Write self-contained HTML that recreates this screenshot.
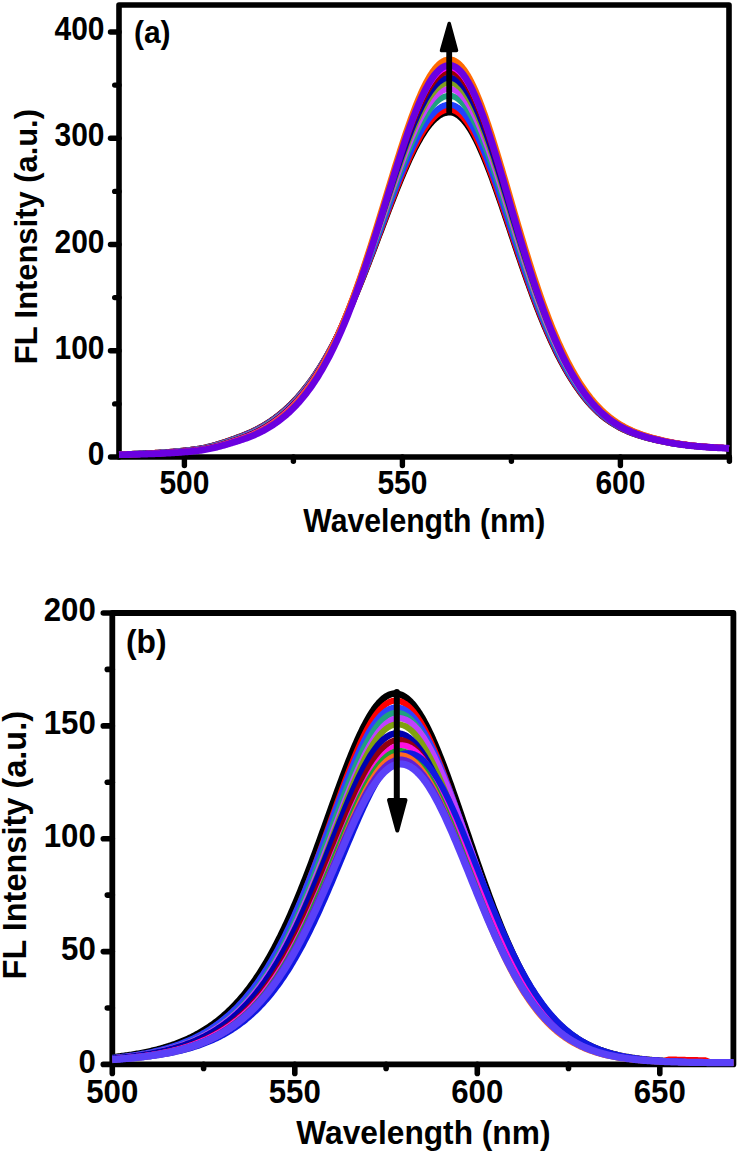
<!DOCTYPE html>
<html><head><meta charset="utf-8"><style>
html,body{margin:0;padding:0;background:#fff;}
body{width:739px;height:1154px;overflow:hidden;font-family:"Liberation Sans", sans-serif;}
svg{display:block;}
</style></head><body>
<svg width="739" height="1154" viewBox="0 0 739 1154">
<rect width="739" height="1154" fill="#fff"/>
<rect x="119.0" y="5.0" width="610.0" height="452.0" fill="none" stroke="#000" stroke-width="5.6" stroke-linejoin="round"/>
<g stroke="#000" stroke-width="5.4" stroke-linecap="round"><line x1="119.0" y1="457.0" x2="110.5" y2="457.0"/><line x1="119.0" y1="403.9" x2="114.7" y2="403.9"/><line x1="119.0" y1="350.8" x2="110.5" y2="350.8"/><line x1="119.0" y1="297.6" x2="114.7" y2="297.6"/><line x1="119.0" y1="244.5" x2="110.5" y2="244.5"/><line x1="119.0" y1="191.4" x2="114.7" y2="191.4"/><line x1="119.0" y1="138.2" x2="110.5" y2="138.2"/><line x1="119.0" y1="85.1" x2="114.7" y2="85.1"/><line x1="119.0" y1="32.0" x2="110.5" y2="32.0"/><line x1="184.4" y1="457.0" x2="184.4" y2="465.5"/><line x1="293.4" y1="457.0" x2="293.4" y2="461.3"/><line x1="402.4" y1="457.0" x2="402.4" y2="465.5"/><line x1="511.4" y1="457.0" x2="511.4" y2="461.3"/><line x1="620.4" y1="457.0" x2="620.4" y2="465.5"/><line x1="729.4" y1="457.0" x2="729.4" y2="461.3"/></g>
<g>
<path d="M119.00 454.24L120.22 454.21L121.44 454.18L122.67 454.15L123.89 454.11L125.11 454.08L126.33 454.05L127.56 454.01L128.78 453.97L130.00 453.93L131.22 453.89L132.45 453.85L133.67 453.81L134.89 453.77L136.11 453.73L137.34 453.68L138.56 453.63L139.78 453.59L141.00 453.54L142.23 453.49L143.45 453.43L144.67 453.38L145.89 453.33L147.12 453.27L148.34 453.21L149.56 453.15L150.78 453.09L152.01 453.03L153.23 452.96L154.45 452.89L155.67 452.83L156.90 452.75L158.12 452.68L159.34 452.61L160.56 452.53L161.79 452.45L163.01 452.37L164.23 452.29L165.45 452.20L166.68 452.11L167.90 452.02L169.12 451.93L170.34 451.83L171.57 451.73L172.79 451.63L174.01 451.53L175.23 451.42L176.45 451.31L177.68 451.20L178.90 451.08L180.12 450.96L181.34 450.84L182.57 450.71L183.79 450.58L185.01 450.45L186.23 450.31L187.46 450.17L188.68 450.02L189.90 449.87L191.12 449.72L192.35 449.56L193.57 449.40L194.79 449.23L196.01 449.06L197.24 448.89L198.46 448.70L199.68 448.51L200.90 448.29L202.13 448.07L203.35 447.83L204.57 447.58L205.79 447.31L207.02 447.04L208.24 446.75L209.46 446.45L210.68 446.14L211.91 445.82L213.13 445.49L214.35 445.15L215.57 444.80L216.80 444.45L218.02 444.08L219.24 443.71L220.46 443.32L221.69 442.94L222.91 442.54L224.13 442.14L225.35 441.73L226.58 441.32L227.80 440.90L229.02 440.47L230.24 440.04L231.46 439.61L232.69 439.17L233.91 438.73L235.13 438.28L236.35 437.83L237.58 437.38L238.80 436.93L240.02 436.47L241.24 436.01L242.47 435.55L243.69 435.07L244.91 434.58L246.13 434.08L247.36 433.56L248.58 433.03L249.80 432.49L251.02 431.93L252.25 431.36L253.47 430.78L254.69 430.18L255.91 429.56L257.14 428.93L258.36 428.29L259.58 427.63L260.80 426.95L262.03 426.25L263.25 425.54L264.47 424.81L265.69 424.07L266.92 423.30L268.14 422.52L269.36 421.72L270.58 420.90L271.81 420.05L273.03 419.19L274.25 418.31L275.47 417.41L276.70 416.49L277.92 415.54L279.14 414.57L280.36 413.59L281.59 412.57L282.81 411.54L284.03 410.48L285.25 409.40L286.47 408.29L287.70 407.16L288.92 406.00L290.14 404.82L291.36 403.61L292.59 402.38L293.81 401.12L295.03 399.83L296.25 398.51L297.48 397.17L298.70 395.79L299.92 394.39L301.14 392.96L302.37 391.50L303.59 390.01L304.81 388.49L306.03 386.94L307.26 385.35L308.48 383.74L309.70 382.10L310.92 380.42L312.15 378.71L313.37 376.97L314.59 375.19L315.81 373.38L317.04 371.54L318.26 369.67L319.48 367.76L320.70 365.81L321.93 363.84L323.15 361.82L324.37 359.78L325.59 357.70L326.82 355.58L328.04 353.43L329.26 351.24L330.48 349.02L331.71 346.76L332.93 344.47L334.15 342.15L335.37 339.78L336.60 337.39L337.82 334.96L339.04 332.49L340.26 329.99L341.48 327.46L342.71 324.89L343.93 322.29L345.15 319.66L346.37 316.99L347.60 314.29L348.82 311.56L350.04 308.80L351.26 306.00L352.49 303.18L353.71 300.33L354.93 297.45L356.15 294.54L357.38 291.60L358.60 288.64L359.82 285.65L361.04 282.64L362.27 279.60L363.49 276.54L364.71 273.46L365.93 270.36L367.16 267.24L368.38 264.11L369.60 260.95L370.82 257.79L372.05 254.60L373.27 251.41L374.49 248.21L375.71 244.99L376.94 241.77L378.16 238.54L379.38 235.31L380.60 232.08L381.83 228.85L383.05 225.62L384.27 222.39L385.49 219.16L386.72 215.95L387.94 212.74L389.16 209.54L390.38 206.36L391.61 203.20L392.83 200.05L394.05 196.92L395.27 193.81L396.49 190.73L397.72 187.68L398.94 184.65L400.16 181.65L401.38 178.69L402.61 175.77L403.83 172.88L405.05 170.04L406.27 167.23L407.50 164.48L408.72 161.77L409.94 159.11L411.16 156.50L412.39 153.95L413.61 151.45L414.83 149.02L416.05 146.64L417.28 144.33L418.50 142.09L419.72 139.91L420.94 137.80L422.17 135.77L423.39 133.81L424.61 131.92L425.83 130.11L427.06 128.38L428.28 126.74L429.50 125.17L430.72 123.69L431.95 122.30L433.17 120.99L434.39 119.77L435.61 118.65L436.84 117.61L438.06 116.66L439.28 115.81L440.50 115.05L441.73 114.39L442.95 113.82L444.17 113.35L445.39 112.98L446.62 112.70L447.84 112.52L449.06 112.44L450.28 112.46L451.51 112.60L452.73 112.87L453.95 113.26L455.17 113.78L456.39 114.42L457.62 115.18L458.84 116.06L460.06 117.07L461.28 118.19L462.51 119.43L463.73 120.79L464.95 122.25L466.17 123.83L467.40 125.53L468.62 127.32L469.84 129.23L471.06 131.23L472.29 133.34L473.51 135.55L474.73 137.85L475.95 140.24L477.18 142.72L478.40 145.29L479.62 147.94L480.84 150.67L482.07 153.47L483.29 156.35L484.51 159.30L485.73 162.32L486.96 165.40L488.18 168.54L489.40 171.74L490.62 174.99L491.85 178.30L493.07 181.64L494.29 185.04L495.51 188.47L496.74 191.93L497.96 195.44L499.18 198.97L500.40 202.52L501.63 206.10L502.85 209.71L504.07 213.32L505.29 216.96L506.52 220.60L507.74 224.25L508.96 227.91L510.18 231.57L511.40 235.23L512.63 238.88L513.85 242.53L515.07 246.18L516.29 249.81L517.52 253.43L518.74 257.03L519.96 260.62L521.18 264.19L522.41 267.74L523.63 271.26L524.85 274.76L526.07 278.24L527.30 281.68L528.52 285.10L529.74 288.49L530.96 291.84L532.19 295.16L533.41 298.44L534.63 301.69L535.85 304.90L537.08 308.07L538.30 311.20L539.52 314.30L540.74 317.35L541.97 320.36L543.19 323.33L544.41 326.26L545.63 329.14L546.86 331.98L548.08 334.77L549.30 337.53L550.52 340.23L551.75 342.89L552.97 345.51L554.19 348.09L555.41 350.61L556.64 353.10L557.86 355.53L559.08 357.93L560.30 360.28L561.53 362.58L562.75 364.84L563.97 367.06L565.19 369.23L566.41 371.36L567.64 373.44L568.86 375.49L570.08 377.49L571.30 379.44L572.53 381.36L573.75 383.24L574.97 385.07L576.19 386.87L577.42 388.62L578.64 390.34L579.86 392.01L581.08 393.65L582.31 395.25L583.53 396.82L584.75 398.35L585.97 399.84L587.20 401.29L588.42 402.70L589.64 404.08L590.86 405.41L592.09 406.71L593.31 407.97L594.53 409.20L595.75 410.39L596.98 411.55L598.20 412.67L599.42 413.76L600.64 414.82L601.87 415.84L603.09 416.84L604.31 417.81L605.53 418.74L606.76 419.65L607.98 420.53L609.20 421.39L610.42 422.22L611.65 423.02L612.87 423.79L614.09 424.55L615.31 425.28L616.54 425.98L617.76 426.67L618.98 427.33L620.20 427.97L621.42 428.59L622.65 429.19L623.87 429.77L625.09 430.34L626.31 430.88L627.54 431.41L628.76 431.92L629.98 432.42L631.20 432.90L632.43 433.36L633.65 433.81L634.87 434.25L636.09 434.67L637.32 435.08L638.54 435.48L639.76 435.87L640.98 436.25L642.21 436.61L643.43 436.96L644.65 437.31L645.87 437.64L647.10 437.97L648.32 438.29L649.54 438.60L650.76 438.90L651.99 439.20L653.21 439.49L654.43 439.77L655.65 440.05L656.88 440.32L658.10 440.59L659.32 440.85L660.54 441.11L661.77 441.37L662.99 441.62L664.21 441.87L665.43 442.11L666.66 442.35L667.88 442.58L669.10 442.80L670.32 443.01L671.55 443.22L672.77 443.43L673.99 443.62L675.21 443.81L676.43 444.00L677.66 444.18L678.88 444.35L680.10 444.52L681.32 444.68L682.55 444.84L683.77 444.99L684.99 445.14L686.21 445.29L687.44 445.43L688.66 445.56L689.88 445.69L691.10 445.82L692.33 445.94L693.55 446.06L694.77 446.18L695.99 446.29L697.22 446.40L698.44 446.51L699.66 446.61L700.88 446.71L702.11 446.80L703.33 446.90L704.55 446.99L705.77 447.08L707.00 447.16L708.22 447.24L709.44 447.32L710.66 447.40L711.89 447.47L713.11 447.55L714.33 447.62L715.55 447.68L716.78 447.75L718.00 447.81L719.22 447.88L720.44 447.94L721.67 447.99L722.89 448.05L724.11 448.10L725.33 448.16L726.56 448.21L727.78 448.26L729.00 448.31" stroke="#000000" stroke-width="6.0" fill="none" stroke-linejoin="round"/>
<path d="M119.00 454.27L120.22 454.24L121.44 454.21L122.67 454.17L123.89 454.14L125.11 454.11L126.33 454.07L127.56 454.04L128.78 454.00L130.00 453.96L131.22 453.93L132.45 453.89L133.67 453.85L134.89 453.80L136.11 453.76L137.34 453.72L138.56 453.67L139.78 453.62L141.00 453.57L142.23 453.52L143.45 453.47L144.67 453.42L145.89 453.37L147.12 453.31L148.34 453.25L149.56 453.19L150.78 453.13L152.01 453.07L153.23 453.01L154.45 452.94L155.67 452.87L156.90 452.80L158.12 452.73L159.34 452.66L160.56 452.58L161.79 452.51L163.01 452.43L164.23 452.34L165.45 452.26L166.68 452.17L167.90 452.08L169.12 451.99L170.34 451.89L171.57 451.80L172.79 451.70L174.01 451.59L175.23 451.49L176.45 451.38L177.68 451.27L178.90 451.15L180.12 451.03L181.34 450.91L182.57 450.79L183.79 450.66L185.01 450.53L186.23 450.39L187.46 450.25L188.68 450.11L189.90 449.96L191.12 449.81L192.35 449.65L193.57 449.49L194.79 449.33L196.01 449.16L197.24 448.99L198.46 448.81L199.68 448.61L200.90 448.40L202.13 448.18L203.35 447.94L204.57 447.69L205.79 447.43L207.02 447.15L208.24 446.87L209.46 446.57L210.68 446.26L211.91 445.95L213.13 445.62L214.35 445.28L215.57 444.93L216.80 444.58L218.02 444.22L219.24 443.85L220.46 443.47L221.69 443.08L222.91 442.69L224.13 442.29L225.35 441.88L226.58 441.47L227.80 441.05L229.02 440.63L230.24 440.20L231.46 439.77L232.69 439.34L233.91 438.90L235.13 438.45L236.35 438.01L237.58 437.56L238.80 437.11L240.02 436.65L241.24 436.20L242.47 435.73L243.69 435.26L244.91 434.77L246.13 434.27L247.36 433.76L248.58 433.23L249.80 432.69L251.02 432.14L252.25 431.57L253.47 430.99L254.69 430.39L255.91 429.78L257.14 429.15L258.36 428.51L259.58 427.85L260.80 427.17L262.03 426.48L263.25 425.77L264.47 425.04L265.69 424.30L266.92 423.54L268.14 422.75L269.36 421.95L270.58 421.13L271.81 420.30L273.03 419.44L274.25 418.56L275.47 417.66L276.70 416.73L277.92 415.79L279.14 414.82L280.36 413.84L281.59 412.82L282.81 411.79L284.03 410.73L285.25 409.65L286.47 408.54L287.70 407.41L288.92 406.25L290.14 405.07L291.36 403.86L292.59 402.62L293.81 401.36L295.03 400.07L296.25 398.75L297.48 397.41L298.70 396.03L299.92 394.63L301.14 393.19L302.37 391.73L303.59 390.23L304.81 388.71L306.03 387.15L307.26 385.57L308.48 383.95L309.70 382.30L310.92 380.62L312.15 378.90L313.37 377.15L314.59 375.37L315.81 373.55L317.04 371.70L318.26 369.82L319.48 367.90L320.70 365.95L321.93 363.96L323.15 361.94L324.37 359.88L325.59 357.79L326.82 355.66L328.04 353.50L329.26 351.30L330.48 349.06L331.71 346.79L332.93 344.49L334.15 342.15L335.37 339.77L336.60 337.36L337.82 334.91L339.04 332.42L340.26 329.91L341.48 327.35L342.71 324.76L343.93 322.14L345.15 319.49L346.37 316.80L347.60 314.08L348.82 311.32L350.04 308.54L351.26 305.72L352.49 302.87L353.71 299.99L354.93 297.08L356.15 294.15L357.38 291.18L358.60 288.19L359.82 285.17L361.04 282.13L362.27 279.06L363.49 275.97L364.71 272.86L365.93 269.72L367.16 266.57L368.38 263.40L369.60 260.21L370.82 257.01L372.05 253.79L373.27 250.56L374.49 247.31L375.71 244.06L376.94 240.80L378.16 237.54L379.38 234.26L380.60 230.99L381.83 227.72L383.05 224.44L384.27 221.17L385.49 217.91L386.72 214.65L387.94 211.40L389.16 208.16L390.38 204.93L391.61 201.72L392.83 198.53L394.05 195.36L395.27 192.21L396.49 189.08L397.72 185.99L398.94 182.92L400.16 179.88L401.38 176.87L402.61 173.91L403.83 170.98L405.05 168.09L406.27 165.24L407.50 162.44L408.72 159.69L409.94 156.99L411.16 154.35L412.39 151.75L413.61 149.22L414.83 146.75L416.05 144.33L417.28 141.99L418.50 139.71L419.72 137.49L420.94 135.35L422.17 133.28L423.39 131.29L424.61 129.38L425.83 127.54L427.06 125.78L428.28 124.11L429.50 122.52L430.72 121.01L431.95 119.60L433.17 118.27L434.39 117.03L435.61 115.88L436.84 114.83L438.06 113.87L439.28 113.00L440.50 112.23L441.73 111.56L442.95 110.98L444.17 110.50L445.39 110.12L446.62 109.84L447.84 109.65L449.06 109.57L450.28 109.59L451.51 109.73L452.73 110.00L453.95 110.40L455.17 110.92L456.39 111.57L457.62 112.34L458.84 113.23L460.06 114.24L461.28 115.37L462.51 116.62L463.73 117.99L464.95 119.47L466.17 121.06L467.40 122.77L468.62 124.58L469.84 126.50L471.06 128.52L472.29 130.65L473.51 132.87L474.73 135.19L475.95 137.60L477.18 140.10L478.40 142.69L479.62 145.37L480.84 148.12L482.07 150.95L483.29 153.85L484.51 156.83L485.73 159.87L486.96 162.98L488.18 166.15L489.40 169.37L490.62 172.65L491.85 175.98L493.07 179.36L494.29 182.78L495.51 186.24L496.74 189.74L497.96 193.27L499.18 196.83L500.40 200.41L501.63 204.02L502.85 207.66L504.07 211.30L505.29 214.97L506.52 218.64L507.74 222.32L508.96 226.01L510.18 229.70L511.40 233.39L512.63 237.08L513.85 240.76L515.07 244.43L516.29 248.10L517.52 251.75L518.74 255.38L519.96 259.00L521.18 262.60L522.41 266.18L523.63 269.73L524.85 273.26L526.07 276.77L527.30 280.24L528.52 283.69L529.74 287.10L530.96 290.48L532.19 293.83L533.41 297.14L534.63 300.41L535.85 303.65L537.08 306.85L538.30 310.01L539.52 313.13L540.74 316.21L541.97 319.24L543.19 322.24L544.41 325.19L545.63 328.09L546.86 330.96L548.08 333.78L549.30 336.55L550.52 339.28L551.75 341.97L552.97 344.61L554.19 347.20L555.41 349.75L556.64 352.25L557.86 354.71L559.08 357.13L560.30 359.49L561.53 361.82L562.75 364.10L563.97 366.33L565.19 368.52L566.41 370.67L567.64 372.77L568.86 374.83L570.08 376.85L571.30 378.82L572.53 380.76L573.75 382.65L574.97 384.50L576.19 386.31L577.42 388.08L578.64 389.81L579.86 391.50L581.08 393.15L582.31 394.77L583.53 396.34L584.75 397.88L585.97 399.39L587.20 400.85L588.42 402.28L589.64 403.66L590.86 405.01L592.09 406.32L593.31 407.59L594.53 408.83L595.75 410.03L596.98 411.20L598.20 412.33L599.42 413.43L600.64 414.50L601.87 415.53L603.09 416.54L604.31 417.51L605.53 418.46L606.76 419.38L607.98 420.26L609.20 421.13L610.42 421.96L611.65 422.77L612.87 423.55L614.09 424.31L615.31 425.05L616.54 425.76L617.76 426.45L618.98 427.12L620.20 427.77L621.42 428.40L622.65 429.00L623.87 429.59L625.09 430.16L626.31 430.71L627.54 431.24L628.76 431.76L629.98 432.26L631.20 432.74L632.43 433.21L633.65 433.67L634.87 434.11L636.09 434.54L637.32 434.95L638.54 435.36L639.76 435.75L640.98 436.13L642.21 436.49L643.43 436.85L644.65 437.20L645.87 437.54L647.10 437.87L648.32 438.19L649.54 438.50L650.76 438.81L651.99 439.11L653.21 439.40L654.43 439.69L655.65 439.97L656.88 440.24L658.10 440.51L659.32 440.78L660.54 441.04L661.77 441.30L662.99 441.55L664.21 441.80L665.43 442.05L666.66 442.29L667.88 442.52L669.10 442.74L670.32 442.96L671.55 443.17L672.77 443.37L673.99 443.57L675.21 443.76L676.43 443.95L677.66 444.13L678.88 444.31L680.10 444.47L681.32 444.64L682.55 444.80L683.77 444.95L684.99 445.10L686.21 445.25L687.44 445.39L688.66 445.53L689.88 445.66L691.10 445.79L692.33 445.91L693.55 446.03L694.77 446.15L695.99 446.26L697.22 446.37L698.44 446.48L699.66 446.58L700.88 446.68L702.11 446.78L703.33 446.87L704.55 446.96L705.77 447.05L707.00 447.14L708.22 447.22L709.44 447.30L710.66 447.38L711.89 447.45L713.11 447.53L714.33 447.60L715.55 447.67L716.78 447.73L718.00 447.80L719.22 447.86L720.44 447.92L721.67 447.98L722.89 448.03L724.11 448.09L725.33 448.14L726.56 448.19L727.78 448.24L729.00 448.29" stroke="#FF0000" stroke-width="6.0" fill="none" stroke-linejoin="round"/>
<path d="M119.00 454.31L120.22 454.28L121.44 454.25L122.67 454.22L123.89 454.19L125.11 454.15L126.33 454.12L127.56 454.09L128.78 454.05L130.00 454.02L131.22 453.98L132.45 453.94L133.67 453.90L134.89 453.86L136.11 453.82L137.34 453.77L138.56 453.73L139.78 453.68L141.00 453.64L142.23 453.59L143.45 453.54L144.67 453.49L145.89 453.43L147.12 453.38L148.34 453.33L149.56 453.27L150.78 453.21L152.01 453.15L153.23 453.09L154.45 453.02L155.67 452.96L156.90 452.89L158.12 452.82L159.34 452.75L160.56 452.67L161.79 452.60L163.01 452.52L164.23 452.44L165.45 452.36L166.68 452.27L167.90 452.18L169.12 452.09L170.34 452.00L171.57 451.91L172.79 451.81L174.01 451.71L175.23 451.60L176.45 451.50L177.68 451.39L178.90 451.28L180.12 451.16L181.34 451.04L182.57 450.92L183.79 450.79L185.01 450.66L186.23 450.53L187.46 450.39L188.68 450.25L189.90 450.11L191.12 449.96L192.35 449.81L193.57 449.65L194.79 449.49L196.01 449.32L197.24 449.15L198.46 448.97L199.68 448.78L200.90 448.58L202.13 448.36L203.35 448.12L204.57 447.88L205.79 447.62L207.02 447.35L208.24 447.07L209.46 446.77L210.68 446.47L211.91 446.15L213.13 445.83L214.35 445.50L215.57 445.16L216.80 444.80L218.02 444.44L219.24 444.08L220.46 443.70L221.69 443.32L222.91 442.93L224.13 442.54L225.35 442.13L226.58 441.73L227.80 441.31L229.02 440.90L230.24 440.47L231.46 440.05L232.69 439.62L233.91 439.18L235.13 438.74L236.35 438.30L237.58 437.86L238.80 437.41L240.02 436.96L241.24 436.51L242.47 436.05L243.69 435.58L244.91 435.10L246.13 434.60L247.36 434.09L248.58 433.57L249.80 433.03L251.02 432.48L252.25 431.92L253.47 431.34L254.69 430.75L255.91 430.14L257.14 429.52L258.36 428.88L259.58 428.22L260.80 427.55L262.03 426.86L263.25 426.16L264.47 425.43L265.69 424.69L266.92 423.93L268.14 423.15L269.36 422.36L270.58 421.54L271.81 420.70L273.03 419.85L274.25 418.97L275.47 418.07L276.70 417.15L277.92 416.21L279.14 415.25L280.36 414.26L281.59 413.25L282.81 412.21L284.03 411.16L285.25 410.08L286.47 408.97L287.70 407.84L288.92 406.68L290.14 405.49L291.36 404.28L292.59 403.05L293.81 401.78L295.03 400.49L296.25 399.17L297.48 397.82L298.70 396.44L299.92 395.03L301.14 393.59L302.37 392.12L303.59 390.62L304.81 389.09L306.03 387.53L307.26 385.94L308.48 384.31L309.70 382.65L310.92 380.96L312.15 379.23L313.37 377.47L314.59 375.68L315.81 373.85L317.04 371.99L318.26 370.09L319.48 368.16L320.70 366.19L321.93 364.19L323.15 362.15L324.37 360.07L325.59 357.96L326.82 355.81L328.04 353.63L329.26 351.41L330.48 349.15L331.71 346.86L332.93 344.53L334.15 342.16L335.37 339.75L336.60 337.31L337.82 334.84L339.04 332.32L340.26 329.77L341.48 327.19L342.71 324.57L343.93 321.91L345.15 319.22L346.37 316.49L347.60 313.73L348.82 310.94L350.04 308.11L351.26 305.25L352.49 302.36L353.71 299.44L354.93 296.48L356.15 293.50L357.38 290.49L358.60 287.44L359.82 284.38L361.04 281.28L362.27 278.16L363.49 275.01L364.71 271.85L365.93 268.66L367.16 265.45L368.38 262.21L369.60 258.97L370.82 255.70L372.05 252.42L373.27 249.12L374.49 245.82L375.71 242.50L376.94 239.17L378.16 235.84L379.38 232.50L380.60 229.16L381.83 225.81L383.05 222.47L384.27 219.13L385.49 215.79L386.72 212.46L387.94 209.13L389.16 205.82L390.38 202.52L391.61 199.24L392.83 195.97L394.05 192.72L395.27 189.50L396.49 186.30L397.72 183.13L398.94 179.98L400.16 176.87L401.38 173.79L402.61 170.75L403.83 167.74L405.05 164.78L406.27 161.87L407.50 159.00L408.72 156.17L409.94 153.40L411.16 150.69L412.39 148.03L413.61 145.43L414.83 142.89L416.05 140.41L417.28 138.00L418.50 135.66L419.72 133.39L420.94 131.19L422.17 129.06L423.39 127.01L424.61 125.05L425.83 123.16L427.06 121.35L428.28 119.63L429.50 118.00L430.72 116.45L431.95 114.99L433.17 113.63L434.39 112.35L435.61 111.17L436.84 110.09L438.06 109.10L439.28 108.21L440.50 107.42L441.73 106.73L442.95 106.13L444.17 105.64L445.39 105.25L446.62 104.96L447.84 104.77L449.06 104.68L450.28 104.70L451.51 104.85L452.73 105.12L453.95 105.53L455.17 106.05L456.39 106.71L457.62 107.49L458.84 108.39L460.06 109.42L461.28 110.57L462.51 111.83L463.73 113.22L464.95 114.72L466.17 116.34L467.40 118.07L468.62 119.91L469.84 121.85L471.06 123.91L472.29 126.06L473.51 128.32L474.73 130.67L475.95 133.11L477.18 135.65L478.40 138.28L479.62 140.99L480.84 143.78L482.07 146.65L483.29 149.60L484.51 152.61L485.73 155.70L486.96 158.85L488.18 162.07L489.40 165.34L490.62 168.66L491.85 172.04L493.07 175.46L494.29 178.93L495.51 182.44L496.74 185.99L497.96 189.57L499.18 193.18L500.40 196.82L501.63 200.48L502.85 204.16L504.07 207.86L505.29 211.58L506.52 215.30L507.74 219.04L508.96 222.78L510.18 226.52L511.40 230.26L512.63 234.00L513.85 237.74L515.07 241.46L516.29 245.18L517.52 248.88L518.74 252.57L519.96 256.24L521.18 259.89L522.41 263.52L523.63 267.12L524.85 270.70L526.07 274.26L527.30 277.78L528.52 281.28L529.74 284.74L530.96 288.17L532.19 291.56L533.41 294.92L534.63 298.24L535.85 301.52L537.08 304.77L538.30 307.97L539.52 311.14L540.74 314.26L541.97 317.34L543.19 320.37L544.41 323.37L545.63 326.31L546.86 329.22L548.08 332.08L549.30 334.89L550.52 337.66L551.75 340.38L552.97 343.06L554.19 345.69L555.41 348.28L556.64 350.82L557.86 353.31L559.08 355.76L560.30 358.16L561.53 360.52L562.75 362.83L563.97 365.10L565.19 367.32L566.41 369.50L567.64 371.63L568.86 373.72L570.08 375.76L571.30 377.77L572.53 379.73L573.75 381.65L574.97 383.52L576.19 385.36L577.42 387.15L578.64 388.91L579.86 390.62L581.08 392.30L582.31 393.94L583.53 395.54L584.75 397.10L585.97 398.62L587.20 400.11L588.42 401.55L589.64 402.96L590.86 404.33L592.09 405.65L593.31 406.95L594.53 408.20L595.75 409.42L596.98 410.60L598.20 411.75L599.42 412.87L600.64 413.95L601.87 415.00L603.09 416.02L604.31 417.01L605.53 417.97L606.76 418.90L607.98 419.81L609.20 420.68L610.42 421.53L611.65 422.35L612.87 423.15L614.09 423.92L615.31 424.67L616.54 425.39L617.76 426.09L618.98 426.77L620.20 427.43L621.42 428.06L622.65 428.68L623.87 429.28L625.09 429.86L626.31 430.42L627.54 430.96L628.76 431.48L629.98 431.99L631.20 432.48L632.43 432.96L633.65 433.42L634.87 433.87L636.09 434.31L637.32 434.73L638.54 435.14L639.76 435.54L640.98 435.92L642.21 436.30L643.43 436.66L644.65 437.01L645.87 437.36L647.10 437.69L648.32 438.02L649.54 438.34L650.76 438.65L651.99 438.95L653.21 439.25L654.43 439.54L655.65 439.83L656.88 440.11L658.10 440.38L659.32 440.65L660.54 440.91L661.77 441.18L662.99 441.43L664.21 441.69L665.43 441.94L666.66 442.18L667.88 442.41L669.10 442.64L670.32 442.86L671.55 443.07L672.77 443.28L673.99 443.48L675.21 443.68L676.43 443.87L677.66 444.05L678.88 444.23L680.10 444.40L681.32 444.57L682.55 444.73L683.77 444.89L684.99 445.04L686.21 445.19L687.44 445.33L688.66 445.47L689.88 445.60L691.10 445.73L692.33 445.86L693.55 445.98L694.77 446.10L695.99 446.21L697.22 446.32L698.44 446.43L699.66 446.54L700.88 446.64L702.11 446.74L703.33 446.83L704.55 446.92L705.77 447.01L707.00 447.10L708.22 447.18L709.44 447.27L710.66 447.35L711.89 447.42L713.11 447.50L714.33 447.57L715.55 447.64L716.78 447.70L718.00 447.77L719.22 447.83L720.44 447.89L721.67 447.95L722.89 448.01L724.11 448.07L725.33 448.12L726.56 448.17L727.78 448.22L729.00 448.27" stroke="#2040FF" stroke-width="6.0" fill="none" stroke-linejoin="round"/>
<path d="M119.00 454.38L120.22 454.35L121.44 454.32L122.67 454.29L123.89 454.26L125.11 454.23L126.33 454.20L127.56 454.17L128.78 454.14L130.00 454.10L131.22 454.07L132.45 454.03L133.67 453.99L134.89 453.95L136.11 453.91L137.34 453.87L138.56 453.83L139.78 453.79L141.00 453.74L142.23 453.70L143.45 453.65L144.67 453.60L145.89 453.55L147.12 453.50L148.34 453.45L149.56 453.39L150.78 453.34L152.01 453.28L153.23 453.22L154.45 453.16L155.67 453.10L156.90 453.03L158.12 452.97L159.34 452.90L160.56 452.83L161.79 452.75L163.01 452.68L164.23 452.60L165.45 452.52L166.68 452.44L167.90 452.36L169.12 452.27L170.34 452.18L171.57 452.09L172.79 452.00L174.01 451.90L175.23 451.80L176.45 451.70L177.68 451.60L178.90 451.49L180.12 451.38L181.34 451.26L182.57 451.15L183.79 451.03L185.01 450.90L186.23 450.77L187.46 450.64L188.68 450.51L189.90 450.37L191.12 450.22L192.35 450.08L193.57 449.93L194.79 449.77L196.01 449.61L197.24 449.44L198.46 449.27L199.68 449.09L200.90 448.88L202.13 448.67L203.35 448.44L204.57 448.20L205.79 447.95L207.02 447.69L208.24 447.41L209.46 447.13L210.68 446.83L211.91 446.52L213.13 446.21L214.35 445.88L215.57 445.54L216.80 445.20L218.02 444.85L219.24 444.49L220.46 444.12L221.69 443.75L222.91 443.36L224.13 442.98L225.35 442.58L226.58 442.18L227.80 441.78L229.02 441.37L230.24 440.95L231.46 440.53L232.69 440.11L233.91 439.68L235.13 439.25L236.35 438.82L237.58 438.38L238.80 437.95L240.02 437.50L241.24 437.06L242.47 436.61L243.69 436.15L244.91 435.67L246.13 435.18L247.36 434.68L248.58 434.17L249.80 433.64L251.02 433.10L252.25 432.55L253.47 431.98L254.69 431.39L255.91 430.79L257.14 430.18L258.36 429.54L259.58 428.90L260.80 428.23L262.03 427.55L263.25 426.85L264.47 426.14L265.69 425.40L266.92 424.65L268.14 423.88L269.36 423.09L270.58 422.27L271.81 421.44L273.03 420.59L274.25 419.72L275.47 418.83L276.70 417.91L277.92 416.97L279.14 416.01L280.36 415.03L281.59 414.02L282.81 412.99L284.03 411.93L285.25 410.85L286.47 409.75L287.70 408.62L288.92 407.46L290.14 406.27L291.36 405.06L292.59 403.82L293.81 402.55L295.03 401.26L296.25 399.93L297.48 398.58L298.70 397.19L299.92 395.78L301.14 394.33L302.37 392.85L303.59 391.34L304.81 389.80L306.03 388.23L307.26 386.62L308.48 384.98L309.70 383.31L310.92 381.60L312.15 379.86L313.37 378.08L314.59 376.27L315.81 374.42L317.04 372.53L318.26 370.61L319.48 368.66L320.70 366.66L321.93 364.63L323.15 362.56L324.37 360.45L325.59 358.31L326.82 356.13L328.04 353.91L329.26 351.65L330.48 349.35L331.71 347.01L332.93 344.64L334.15 342.23L335.37 339.77L336.60 337.28L337.82 334.76L339.04 332.19L340.26 329.58L341.48 326.94L342.71 324.26L343.93 321.54L345.15 318.78L346.37 315.99L347.60 313.16L348.82 310.30L350.04 307.40L351.26 304.46L352.49 301.49L353.71 298.49L354.93 295.45L356.15 292.38L357.38 289.28L358.60 286.15L359.82 282.99L361.04 279.80L362.27 276.58L363.49 273.34L364.71 270.07L365.93 266.78L367.16 263.46L368.38 260.12L369.60 256.76L370.82 253.39L372.05 249.99L373.27 246.58L374.49 243.16L375.71 239.72L376.94 236.27L378.16 232.81L379.38 229.35L380.60 225.88L381.83 222.41L383.05 218.93L384.27 215.46L385.49 211.99L386.72 208.52L387.94 205.07L389.16 201.62L390.38 198.18L391.61 194.76L392.83 191.36L394.05 187.97L395.27 184.61L396.49 181.27L397.72 177.96L398.94 174.68L400.16 171.43L401.38 168.21L402.61 165.03L403.83 161.89L405.05 158.80L406.27 155.75L407.50 152.74L408.72 149.79L409.94 146.89L411.16 144.05L412.39 141.26L413.61 138.53L414.83 135.87L416.05 133.28L417.28 130.75L418.50 128.29L419.72 125.91L420.94 123.60L422.17 121.37L423.39 119.22L424.61 117.16L425.83 115.17L427.06 113.28L428.28 111.47L429.50 109.75L430.72 108.13L431.95 106.60L433.17 105.16L434.39 103.82L435.61 102.58L436.84 101.44L438.06 100.41L439.28 99.47L440.50 98.64L441.73 97.91L442.95 97.28L444.17 96.76L445.39 96.35L446.62 96.05L447.84 95.85L449.06 95.76L450.28 95.78L451.51 95.93L452.73 96.21L453.95 96.62L455.17 97.16L456.39 97.84L457.62 98.63L458.84 99.56L460.06 100.61L461.28 101.79L462.51 103.09L463.73 104.51L464.95 106.05L466.17 107.71L467.40 109.49L468.62 111.37L469.84 113.37L471.06 115.47L472.29 117.68L473.51 120.00L474.73 122.41L475.95 124.92L477.18 127.52L478.40 130.21L479.62 132.99L480.84 135.86L482.07 138.80L483.29 141.82L484.51 144.92L485.73 148.08L486.96 151.31L488.18 154.61L489.40 157.97L490.62 161.38L491.85 164.84L493.07 168.35L494.29 171.91L495.51 175.51L496.74 179.15L497.96 182.82L499.18 186.52L500.40 190.25L501.63 194.01L502.85 197.79L504.07 201.58L505.29 205.39L506.52 209.21L507.74 213.04L508.96 216.88L510.18 220.72L511.40 224.56L512.63 228.39L513.85 232.22L515.07 236.04L516.29 239.85L517.52 243.65L518.74 247.43L519.96 251.20L521.18 254.94L522.41 258.66L523.63 262.36L524.85 266.03L526.07 269.67L527.30 273.29L528.52 276.87L529.74 280.42L530.96 283.94L532.19 287.42L533.41 290.87L534.63 294.27L535.85 297.64L537.08 300.97L538.30 304.25L539.52 307.50L540.74 310.70L541.97 313.86L543.19 316.97L544.41 320.04L545.63 323.07L546.86 326.04L548.08 328.98L549.30 331.86L550.52 334.70L551.75 337.50L552.97 340.24L554.19 342.94L555.41 345.59L556.64 348.20L557.86 350.75L559.08 353.27L560.30 355.73L561.53 358.15L562.75 360.52L563.97 362.84L565.19 365.12L566.41 367.35L567.64 369.54L568.86 371.68L570.08 373.78L571.30 375.84L572.53 377.85L573.75 379.81L574.97 381.74L576.19 383.62L577.42 385.46L578.64 387.26L579.86 389.02L581.08 390.74L582.31 392.42L583.53 394.06L584.75 395.66L585.97 397.23L587.20 398.75L588.42 400.23L589.64 401.67L590.86 403.08L592.09 404.44L593.31 405.76L594.53 407.05L595.75 408.30L596.98 409.52L598.20 410.70L599.42 411.84L600.64 412.96L601.87 414.04L603.09 415.08L604.31 416.10L605.53 417.09L606.76 418.04L607.98 418.97L609.20 419.87L610.42 420.74L611.65 421.58L612.87 422.40L614.09 423.20L615.31 423.96L616.54 424.71L617.76 425.43L618.98 426.13L620.20 426.80L621.42 427.46L622.65 428.09L623.87 428.71L625.09 429.30L626.31 429.88L627.54 430.44L628.76 430.98L629.98 431.50L631.20 432.01L632.43 432.50L633.65 432.98L634.87 433.44L636.09 433.89L637.32 434.32L638.54 434.74L639.76 435.15L640.98 435.55L642.21 435.93L643.43 436.31L644.65 436.67L645.87 437.03L647.10 437.37L648.32 437.71L649.54 438.04L650.76 438.36L651.99 438.67L653.21 438.98L654.43 439.28L655.65 439.57L656.88 439.86L658.10 440.14L659.32 440.42L660.54 440.69L661.77 440.96L662.99 441.22L664.21 441.48L665.43 441.74L666.66 441.98L667.88 442.23L669.10 442.46L670.32 442.68L671.55 442.90L672.77 443.12L673.99 443.32L675.21 443.52L676.43 443.72L677.66 443.90L678.88 444.09L680.10 444.26L681.32 444.43L682.55 444.60L683.77 444.76L684.99 444.92L686.21 445.07L687.44 445.21L688.66 445.36L689.88 445.49L691.10 445.63L692.33 445.76L693.55 445.88L694.77 446.00L695.99 446.12L697.22 446.24L698.44 446.35L699.66 446.45L700.88 446.56L702.11 446.66L703.33 446.76L704.55 446.85L705.77 446.94L707.00 447.03L708.22 447.12L709.44 447.20L710.66 447.28L711.89 447.36L713.11 447.44L714.33 447.51L715.55 447.58L716.78 447.65L718.00 447.72L719.22 447.78L720.44 447.85L721.67 447.91L722.89 447.97L724.11 448.02L725.33 448.08L726.56 448.13L727.78 448.18L729.00 448.23" stroke="#20A080" stroke-width="6.0" fill="none" stroke-linejoin="round"/>
<path d="M119.00 454.43L120.22 454.40L121.44 454.38L122.67 454.35L123.89 454.32L125.11 454.29L126.33 454.26L127.56 454.23L128.78 454.20L130.00 454.17L131.22 454.13L132.45 454.10L133.67 454.06L134.89 454.02L136.11 453.99L137.34 453.95L138.56 453.91L139.78 453.86L141.00 453.82L142.23 453.78L143.45 453.73L144.67 453.69L145.89 453.64L147.12 453.59L148.34 453.54L149.56 453.49L150.78 453.43L152.01 453.38L153.23 453.32L154.45 453.26L155.67 453.20L156.90 453.14L158.12 453.07L159.34 453.01L160.56 452.94L161.79 452.87L163.01 452.80L164.23 452.72L165.45 452.65L166.68 452.57L167.90 452.49L169.12 452.40L170.34 452.32L171.57 452.23L172.79 452.14L174.01 452.05L175.23 451.95L176.45 451.85L177.68 451.75L178.90 451.65L180.12 451.54L181.34 451.43L182.57 451.31L183.79 451.20L185.01 451.08L186.23 450.95L187.46 450.82L188.68 450.69L189.90 450.56L191.12 450.42L192.35 450.27L193.57 450.13L194.79 449.98L196.01 449.82L197.24 449.66L198.46 449.49L199.68 449.31L200.90 449.11L202.13 448.90L203.35 448.68L204.57 448.45L205.79 448.20L207.02 447.94L208.24 447.67L209.46 447.39L210.68 447.10L211.91 446.80L213.13 446.48L214.35 446.16L215.57 445.83L216.80 445.50L218.02 445.15L219.24 444.79L220.46 444.43L221.69 444.06L222.91 443.69L224.13 443.31L225.35 442.92L226.58 442.52L227.80 442.12L229.02 441.72L230.24 441.31L231.46 440.90L232.69 440.48L233.91 440.06L235.13 439.64L236.35 439.21L237.58 438.78L238.80 438.35L240.02 437.91L241.24 437.48L242.47 437.03L243.69 436.58L244.91 436.11L246.13 435.63L247.36 435.13L248.58 434.62L249.80 434.10L251.02 433.57L252.25 433.02L253.47 432.46L254.69 431.88L255.91 431.28L257.14 430.67L258.36 430.05L259.58 429.41L260.80 428.75L262.03 428.07L263.25 427.38L264.47 426.67L265.69 425.94L266.92 425.19L268.14 424.43L269.36 423.64L270.58 422.83L271.81 422.01L273.03 421.16L274.25 420.29L275.47 419.40L276.70 418.49L277.92 417.56L279.14 416.60L280.36 415.62L281.59 414.62L282.81 413.59L284.03 412.53L285.25 411.45L286.47 410.35L287.70 409.22L288.92 408.06L290.14 406.88L291.36 405.66L292.59 404.42L293.81 403.15L295.03 401.85L296.25 400.53L297.48 399.17L298.70 397.78L299.92 396.36L301.14 394.91L302.37 393.43L303.59 391.91L304.81 390.36L306.03 388.78L307.26 387.17L308.48 385.52L309.70 383.83L310.92 382.11L312.15 380.36L313.37 378.57L314.59 376.74L315.81 374.88L317.04 372.98L318.26 371.04L319.48 369.06L320.70 367.05L321.93 365.00L323.15 362.91L324.37 360.78L325.59 358.61L326.82 356.40L328.04 354.15L329.26 351.86L330.48 349.54L331.71 347.17L332.93 344.76L334.15 342.31L335.37 339.83L336.60 337.30L337.82 334.73L339.04 332.13L340.26 329.48L341.48 326.79L342.71 324.07L343.93 321.30L345.15 318.50L346.37 315.65L347.60 312.77L348.82 309.85L350.04 306.90L351.26 303.90L352.49 300.87L353.71 297.81L354.93 294.71L356.15 291.58L357.38 288.41L358.60 285.21L359.82 281.98L361.04 278.72L362.27 275.43L363.49 272.11L364.71 268.76L365.93 265.39L367.16 261.99L368.38 258.57L369.60 255.12L370.82 251.66L372.05 248.18L373.27 244.67L374.49 241.16L375.71 237.63L376.94 234.09L378.16 230.53L379.38 226.97L380.60 223.40L381.83 219.83L383.05 216.26L384.27 212.68L385.49 209.11L386.72 205.54L387.94 201.98L389.16 198.42L390.38 194.88L391.61 191.36L392.83 187.84L394.05 184.35L395.27 180.88L396.49 177.43L397.72 174.01L398.94 170.62L400.16 167.26L401.38 163.94L402.61 160.66L403.83 157.41L405.05 154.21L406.27 151.05L407.50 147.94L408.72 144.89L409.94 141.89L411.16 138.94L412.39 136.06L413.61 133.23L414.83 130.47L416.05 127.79L417.28 125.17L418.50 122.62L419.72 120.15L420.94 117.76L422.17 115.44L423.39 113.21L424.61 111.07L425.83 109.01L427.06 107.05L428.28 105.17L429.50 103.39L430.72 101.70L431.95 100.11L433.17 98.62L434.39 97.23L435.61 95.94L436.84 94.76L438.06 93.68L439.28 92.71L440.50 91.84L441.73 91.08L442.95 90.44L444.17 89.90L445.39 89.47L446.62 89.15L447.84 88.95L449.06 88.85L450.28 88.87L451.51 89.03L452.73 89.31L453.95 89.73L455.17 90.29L456.39 90.97L457.62 91.78L458.84 92.73L460.06 93.80L461.28 95.00L462.51 96.33L463.73 97.78L464.95 99.35L466.17 101.04L467.40 102.84L468.62 104.77L469.84 106.80L471.06 108.95L472.29 111.20L473.51 113.56L474.73 116.02L475.95 118.57L477.18 121.23L478.40 123.97L479.62 126.81L480.84 129.72L482.07 132.73L483.29 135.81L484.51 138.96L485.73 142.19L486.96 145.48L488.18 148.84L489.40 152.26L490.62 155.74L491.85 159.27L493.07 162.85L494.29 166.47L495.51 170.14L496.74 173.85L497.96 177.59L499.18 181.37L500.40 185.17L501.63 189.00L502.85 192.85L504.07 196.72L505.29 200.60L506.52 204.50L507.74 208.40L508.96 212.31L510.18 216.23L511.40 220.14L512.63 224.05L513.85 227.95L515.07 231.85L516.29 235.73L517.52 239.60L518.74 243.46L519.96 247.29L521.18 251.11L522.41 254.90L523.63 258.67L524.85 262.41L526.07 266.13L527.30 269.81L528.52 273.47L529.74 277.09L530.96 280.67L532.19 284.22L533.41 287.73L534.63 291.20L535.85 294.63L537.08 298.03L538.30 301.38L539.52 304.68L540.74 307.95L541.97 311.17L543.19 314.34L544.41 317.47L545.63 320.55L546.86 323.59L548.08 326.58L549.30 329.52L550.52 332.41L551.75 335.26L552.97 338.06L554.19 340.81L555.41 343.51L556.64 346.17L557.86 348.78L559.08 351.33L560.30 353.85L561.53 356.31L562.75 358.73L563.97 361.10L565.19 363.42L566.41 365.69L567.64 367.92L568.86 370.11L570.08 372.25L571.30 374.34L572.53 376.39L573.75 378.40L574.97 380.36L576.19 382.28L577.42 384.15L578.64 385.99L579.86 387.78L581.08 389.53L582.31 391.24L583.53 392.92L584.75 394.55L585.97 396.15L587.20 397.70L588.42 399.21L589.64 400.68L590.86 402.11L592.09 403.50L593.31 404.85L594.53 406.16L595.75 407.44L596.98 408.68L598.20 409.88L599.42 411.05L600.64 412.19L601.87 413.29L603.09 414.36L604.31 415.39L605.53 416.40L606.76 417.37L607.98 418.32L609.20 419.24L610.42 420.13L611.65 420.99L612.87 421.83L614.09 422.64L615.31 423.42L616.54 424.18L617.76 424.92L618.98 425.63L620.20 426.32L621.42 426.99L622.65 427.64L623.87 428.27L625.09 428.87L626.31 429.46L627.54 430.03L628.76 430.59L629.98 431.12L631.20 431.64L632.43 432.14L633.65 432.63L634.87 433.10L636.09 433.56L637.32 434.00L638.54 434.44L639.76 434.85L640.98 435.26L642.21 435.65L643.43 436.04L644.65 436.41L645.87 436.77L647.10 437.13L648.32 437.47L649.54 437.81L650.76 438.13L651.99 438.45L653.21 438.76L654.43 439.07L655.65 439.37L656.88 439.66L658.10 439.95L659.32 440.23L660.54 440.51L661.77 440.79L662.99 441.06L664.21 441.32L665.43 441.58L666.66 441.83L667.88 442.08L669.10 442.32L670.32 442.55L671.55 442.77L672.77 442.99L673.99 443.20L675.21 443.40L676.43 443.60L677.66 443.79L678.88 443.98L680.10 444.16L681.32 444.33L682.55 444.50L683.77 444.66L684.99 444.82L686.21 444.98L687.44 445.13L688.66 445.27L689.88 445.41L691.10 445.55L692.33 445.68L693.55 445.81L694.77 445.93L695.99 446.05L697.22 446.17L698.44 446.28L699.66 446.39L700.88 446.50L702.11 446.60L703.33 446.70L704.55 446.80L705.77 446.89L707.00 446.98L708.22 447.07L709.44 447.15L710.66 447.23L711.89 447.31L713.11 447.39L714.33 447.47L715.55 447.54L716.78 447.61L718.00 447.68L719.22 447.74L720.44 447.81L721.67 447.87L722.89 447.93L724.11 447.99L725.33 448.04L726.56 448.10L727.78 448.15L729.00 448.20" stroke="#C83CFF" stroke-width="6.0" fill="none" stroke-linejoin="round"/>
<path d="M119.00 454.47L120.22 454.45L121.44 454.42L122.67 454.40L123.89 454.37L125.11 454.34L126.33 454.31L127.56 454.28L128.78 454.25L130.00 454.22L131.22 454.19L132.45 454.15L133.67 454.12L134.89 454.08L136.11 454.05L137.34 454.01L138.56 453.97L139.78 453.93L141.00 453.89L142.23 453.85L143.45 453.80L144.67 453.76L145.89 453.71L147.12 453.66L148.34 453.61L149.56 453.56L150.78 453.51L152.01 453.46L153.23 453.40L154.45 453.35L155.67 453.29L156.90 453.23L158.12 453.17L159.34 453.10L160.56 453.04L161.79 452.97L163.01 452.90L164.23 452.83L165.45 452.75L166.68 452.68L167.90 452.60L169.12 452.52L170.34 452.44L171.57 452.35L172.79 452.26L174.01 452.17L175.23 452.08L176.45 451.98L177.68 451.88L178.90 451.78L180.12 451.68L181.34 451.57L182.57 451.46L183.79 451.35L185.01 451.23L186.23 451.11L187.46 450.98L188.68 450.85L189.90 450.72L191.12 450.59L192.35 450.45L193.57 450.30L194.79 450.16L196.01 450.00L197.24 449.85L198.46 449.68L199.68 449.51L200.90 449.31L202.13 449.11L203.35 448.89L204.57 448.66L205.79 448.42L207.02 448.16L208.24 447.90L209.46 447.62L210.68 447.33L211.91 447.04L213.13 446.73L214.35 446.41L215.57 446.09L216.80 445.75L218.02 445.41L219.24 445.06L220.46 444.71L221.69 444.34L222.91 443.97L224.13 443.60L225.35 443.21L226.58 442.82L227.80 442.43L229.02 442.03L230.24 441.63L231.46 441.22L232.69 440.81L233.91 440.40L235.13 439.98L236.35 439.56L237.58 439.13L238.80 438.71L240.02 438.28L241.24 437.85L242.47 437.41L243.69 436.96L244.91 436.49L246.13 436.02L247.36 435.53L248.58 435.03L249.80 434.51L251.02 433.98L252.25 433.44L253.47 432.88L254.69 432.31L255.91 431.72L257.14 431.12L258.36 430.50L259.58 429.86L260.80 429.21L262.03 428.54L263.25 427.85L264.47 427.15L265.69 426.42L266.92 425.68L268.14 424.92L269.36 424.14L270.58 423.34L271.81 422.52L273.03 421.67L274.25 420.81L275.47 419.92L276.70 419.02L277.92 418.08L279.14 417.13L280.36 416.15L281.59 415.15L282.81 414.13L284.03 413.07L285.25 412.00L286.47 410.89L287.70 409.76L288.92 408.61L290.14 407.42L291.36 406.21L292.59 404.97L293.81 403.70L295.03 402.40L296.25 401.07L297.48 399.71L298.70 398.32L299.92 396.90L301.14 395.44L302.37 393.95L303.59 392.43L304.81 390.88L306.03 389.29L307.26 387.67L308.48 386.01L309.70 384.32L310.92 382.59L312.15 380.82L313.37 379.02L314.59 377.18L315.81 375.31L317.04 373.39L318.26 371.44L319.48 369.45L320.70 367.42L321.93 365.35L323.15 363.24L324.37 361.09L325.59 358.90L326.82 356.67L328.04 354.40L329.26 352.08L330.48 349.73L331.71 347.34L332.93 344.90L334.15 342.42L335.37 339.90L336.60 337.34L337.82 334.74L339.04 332.10L340.26 329.41L341.48 326.69L342.71 323.92L343.93 321.12L345.15 318.27L346.37 315.38L347.60 312.45L348.82 309.49L350.04 306.48L351.26 303.43L352.49 300.35L353.71 297.23L354.93 294.08L356.15 290.88L357.38 287.66L358.60 284.40L359.82 281.10L361.04 277.77L362.27 274.42L363.49 271.03L364.71 267.61L365.93 264.17L367.16 260.69L368.38 257.20L369.60 253.68L370.82 250.14L372.05 246.57L373.27 242.99L374.49 239.39L375.71 235.78L376.94 232.15L378.16 228.51L379.38 224.86L380.60 221.20L381.83 217.54L383.05 213.87L384.27 210.20L385.49 206.54L386.72 202.87L387.94 199.22L389.16 195.57L390.38 191.93L391.61 188.30L392.83 184.69L394.05 181.10L395.27 177.53L396.49 173.99L397.72 170.47L398.94 166.98L400.16 163.52L401.38 160.10L402.61 156.72L403.83 153.37L405.05 150.07L406.27 146.82L407.50 143.62L408.72 140.47L409.94 137.37L411.16 134.33L412.39 131.36L413.61 128.44L414.83 125.60L416.05 122.82L417.28 120.12L418.50 117.49L419.72 114.94L420.94 112.47L422.17 110.08L423.39 107.77L424.61 105.56L425.83 103.43L427.06 101.40L428.28 99.46L429.50 97.62L430.72 95.87L431.95 94.23L433.17 92.69L434.39 91.25L435.61 89.92L436.84 88.70L438.06 87.58L439.28 86.57L440.50 85.68L441.73 84.89L442.95 84.22L444.17 83.67L445.39 83.22L446.62 82.89L447.84 82.68L449.06 82.58L450.28 82.60L451.51 82.76L452.73 83.05L453.95 83.48L455.17 84.04L456.39 84.74L457.62 85.57L458.84 86.53L460.06 87.62L461.28 88.84L462.51 90.19L463.73 91.66L464.95 93.26L466.17 94.98L467.40 96.82L468.62 98.77L469.84 100.84L471.06 103.03L472.29 105.32L473.51 107.71L474.73 110.22L475.95 112.82L477.18 115.52L478.40 118.31L479.62 121.19L480.84 124.16L482.07 127.21L483.29 130.35L484.51 133.55L485.73 136.84L486.96 140.19L488.18 143.60L489.40 147.08L490.62 150.62L491.85 154.21L493.07 157.85L494.29 161.54L495.51 165.27L496.74 169.04L497.96 172.85L499.18 176.69L500.40 180.56L501.63 184.46L502.85 188.37L504.07 192.31L505.29 196.26L506.52 200.22L507.74 204.19L508.96 208.17L510.18 212.15L511.40 216.13L512.63 220.11L513.85 224.08L515.07 228.04L516.29 231.99L517.52 235.93L518.74 239.85L519.96 243.75L521.18 247.63L522.41 251.49L523.63 255.33L524.85 259.13L526.07 262.91L527.30 266.66L528.52 270.37L529.74 274.06L530.96 277.70L532.19 281.31L533.41 284.88L534.63 288.42L535.85 291.91L537.08 295.36L538.30 298.76L539.52 302.13L540.74 305.45L541.97 308.72L543.19 311.95L544.41 315.13L545.63 318.27L546.86 321.36L548.08 324.40L549.30 327.39L550.52 330.34L551.75 333.23L552.97 336.08L554.19 338.88L555.41 341.63L556.64 344.33L557.86 346.98L559.08 349.58L560.30 352.14L561.53 354.64L562.75 357.10L563.97 359.51L565.19 361.87L566.41 364.19L567.64 366.46L568.86 368.68L570.08 370.85L571.30 372.98L572.53 375.07L573.75 377.11L574.97 379.10L576.19 381.06L577.42 382.97L578.64 384.83L579.86 386.66L581.08 388.44L582.31 390.18L583.53 391.88L584.75 393.54L585.97 395.16L587.20 396.74L588.42 398.28L589.64 399.78L590.86 401.23L592.09 402.64L593.31 404.02L594.53 405.36L595.75 406.65L596.98 407.92L598.20 409.14L599.42 410.33L600.64 411.49L601.87 412.61L603.09 413.70L604.31 414.75L605.53 415.78L606.76 416.77L607.98 417.73L609.20 418.67L610.42 419.57L611.65 420.45L612.87 421.30L614.09 422.13L615.31 422.93L616.54 423.70L617.76 424.45L618.98 425.18L620.20 425.88L621.42 426.57L622.65 427.23L623.87 427.87L625.09 428.49L626.31 429.09L627.54 429.67L628.76 430.23L629.98 430.78L631.20 431.31L632.43 431.82L633.65 432.32L634.87 432.80L636.09 433.26L637.32 433.72L638.54 434.16L639.76 434.58L640.98 435.00L642.21 435.40L643.43 435.79L644.65 436.17L645.87 436.54L647.10 436.90L648.32 437.25L649.54 437.59L650.76 437.93L651.99 438.25L653.21 438.57L654.43 438.88L655.65 439.19L656.88 439.49L658.10 439.78L659.32 440.07L660.54 440.35L661.77 440.63L662.99 440.91L664.21 441.18L665.43 441.44L666.66 441.70L667.88 441.95L669.10 442.19L670.32 442.42L671.55 442.65L672.77 442.87L673.99 443.08L675.21 443.29L676.43 443.49L677.66 443.69L678.88 443.88L680.10 444.06L681.32 444.24L682.55 444.41L683.77 444.58L684.99 444.74L686.21 444.89L687.44 445.05L688.66 445.19L689.88 445.34L691.10 445.47L692.33 445.61L693.55 445.74L694.77 445.87L695.99 445.99L697.22 446.11L698.44 446.22L699.66 446.33L700.88 446.44L702.11 446.54L703.33 446.65L704.55 446.74L705.77 446.84L707.00 446.93L708.22 447.02L709.44 447.11L710.66 447.19L711.89 447.27L713.11 447.35L714.33 447.43L715.55 447.50L716.78 447.57L718.00 447.64L719.22 447.71L720.44 447.77L721.67 447.84L722.89 447.90L724.11 447.96L725.33 448.01L726.56 448.07L727.78 448.12L729.00 448.18" stroke="#80A020" stroke-width="6.0" fill="none" stroke-linejoin="round"/>
<path d="M119.00 454.50L120.22 454.48L121.44 454.46L122.67 454.43L123.89 454.40L125.11 454.38L126.33 454.35L127.56 454.32L128.78 454.29L130.00 454.26L131.22 454.23L132.45 454.20L133.67 454.16L134.89 454.13L136.11 454.09L137.34 454.06L138.56 454.02L139.78 453.98L141.00 453.94L142.23 453.90L143.45 453.86L144.67 453.81L145.89 453.77L147.12 453.72L148.34 453.67L149.56 453.62L150.78 453.57L152.01 453.52L153.23 453.47L154.45 453.41L155.67 453.35L156.90 453.30L158.12 453.24L159.34 453.17L160.56 453.11L161.79 453.04L163.01 452.98L164.23 452.91L165.45 452.83L166.68 452.76L167.90 452.68L169.12 452.60L170.34 452.52L171.57 452.44L172.79 452.35L174.01 452.27L175.23 452.17L176.45 452.08L177.68 451.98L178.90 451.88L180.12 451.78L181.34 451.68L182.57 451.57L183.79 451.46L185.01 451.34L186.23 451.22L187.46 451.10L188.68 450.98L189.90 450.85L191.12 450.71L192.35 450.58L193.57 450.44L194.79 450.29L196.01 450.14L197.24 449.99L198.46 449.83L199.68 449.65L200.90 449.46L202.13 449.26L203.35 449.05L204.57 448.82L205.79 448.58L207.02 448.33L208.24 448.07L209.46 447.79L210.68 447.51L211.91 447.22L213.13 446.91L214.35 446.60L215.57 446.28L216.80 445.95L218.02 445.61L219.24 445.27L220.46 444.91L221.69 444.55L222.91 444.19L224.13 443.82L225.35 443.44L226.58 443.05L227.80 442.66L229.02 442.27L230.24 441.87L231.46 441.47L232.69 441.06L233.91 440.65L235.13 440.24L236.35 439.82L237.58 439.40L238.80 438.98L240.02 438.55L241.24 438.13L242.47 437.69L243.69 437.25L244.91 436.79L246.13 436.32L247.36 435.83L248.58 435.34L249.80 434.83L251.02 434.30L252.25 433.76L253.47 433.21L254.69 432.64L255.91 432.06L257.14 431.46L258.36 430.84L259.58 430.21L260.80 429.57L262.03 428.90L263.25 428.22L264.47 427.52L265.69 426.80L266.92 426.06L268.14 425.30L269.36 424.52L270.58 423.73L271.81 422.91L273.03 422.07L274.25 421.21L275.47 420.33L276.70 419.42L277.92 418.49L279.14 417.54L280.36 416.57L281.59 415.57L282.81 414.54L284.03 413.49L285.25 412.42L286.47 411.32L287.70 410.19L288.92 409.03L290.14 407.85L291.36 406.64L292.59 405.40L293.81 404.13L295.03 402.83L296.25 401.50L297.48 400.13L298.70 398.74L299.92 397.32L301.14 395.86L302.37 394.37L303.59 392.84L304.81 391.29L306.03 389.69L307.26 388.06L308.48 386.40L309.70 384.70L310.92 382.97L312.15 381.19L313.37 379.38L314.59 377.54L315.81 375.65L317.04 373.72L318.26 371.76L319.48 369.76L320.70 367.71L321.93 365.63L323.15 363.51L324.37 361.34L325.59 359.14L326.82 356.89L328.04 354.60L329.26 352.27L330.48 349.90L331.71 347.48L332.93 345.02L334.15 342.52L335.37 339.98L336.60 337.40L337.82 334.77L339.04 332.10L340.26 329.38L341.48 326.63L342.71 323.83L343.93 320.99L345.15 318.11L346.37 315.19L347.60 312.23L348.82 309.22L350.04 306.18L351.26 303.09L352.49 299.97L353.71 296.81L354.93 293.61L356.15 290.37L357.38 287.10L358.60 283.79L359.82 280.45L361.04 277.07L362.27 273.66L363.49 270.22L364.71 266.75L365.93 263.24L367.16 259.72L368.38 256.16L369.60 252.58L370.82 248.98L372.05 245.35L373.27 241.71L374.49 238.04L375.71 234.36L376.94 230.67L378.16 226.96L379.38 223.24L380.60 219.52L381.83 215.78L383.05 212.04L384.27 208.30L385.49 204.56L386.72 200.83L387.94 197.09L389.16 193.37L390.38 189.65L391.61 185.95L392.83 182.27L394.05 178.60L395.27 174.95L396.49 171.33L397.72 167.73L398.94 164.16L400.16 160.63L401.38 157.13L402.61 153.67L403.83 150.25L405.05 146.87L406.27 143.54L407.50 140.26L408.72 137.04L409.94 133.87L411.16 130.76L412.39 127.71L413.61 124.72L414.83 121.81L416.05 118.96L417.28 116.19L418.50 113.50L419.72 110.88L420.94 108.35L422.17 105.90L423.39 103.54L424.61 101.27L425.83 99.09L427.06 97.00L428.28 95.01L429.50 93.12L430.72 91.33L431.95 89.65L433.17 88.07L434.39 86.59L435.61 85.23L436.84 83.97L438.06 82.82L439.28 81.79L440.50 80.87L441.73 80.07L442.95 79.38L444.17 78.81L445.39 78.35L446.62 78.01L447.84 77.80L449.06 77.69L450.28 77.72L451.51 77.87L452.73 78.17L453.95 78.60L455.17 79.17L456.39 79.88L457.62 80.72L458.84 81.69L460.06 82.80L461.28 84.03L462.51 85.40L463.73 86.89L464.95 88.51L466.17 90.25L467.40 92.12L468.62 94.10L469.84 96.20L471.06 98.41L472.29 100.73L473.51 103.16L474.73 105.69L475.95 108.33L477.18 111.06L478.40 113.89L479.62 116.81L480.84 119.82L482.07 122.91L483.29 126.09L484.51 129.34L485.73 132.66L486.96 136.06L488.18 139.52L489.40 143.05L490.62 146.63L491.85 150.27L493.07 153.96L494.29 157.69L495.51 161.48L496.74 165.30L497.96 169.16L499.18 173.05L500.40 176.97L501.63 180.91L502.85 184.88L504.07 188.87L505.29 192.87L506.52 196.88L507.74 200.91L508.96 204.94L510.18 208.97L511.40 213.00L512.63 217.03L513.85 221.05L515.07 225.07L516.29 229.07L517.52 233.06L518.74 237.03L519.96 240.99L521.18 244.92L522.41 248.83L523.63 252.72L524.85 256.57L526.07 260.40L527.30 264.20L528.52 267.96L529.74 271.69L530.96 275.39L532.19 279.05L533.41 282.66L534.63 286.24L535.85 289.78L537.08 293.28L538.30 296.73L539.52 300.14L540.74 303.50L541.97 306.82L543.19 310.09L544.41 313.31L545.63 316.49L546.86 319.62L548.08 322.70L549.30 325.73L550.52 328.72L551.75 331.65L552.97 334.53L554.19 337.37L555.41 340.16L556.64 342.89L557.86 345.58L559.08 348.22L560.30 350.80L561.53 353.34L562.75 355.83L563.97 358.28L565.19 360.67L566.41 363.02L567.64 365.31L568.86 367.56L570.08 369.77L571.30 371.93L572.53 374.04L573.75 376.11L574.97 378.13L576.19 380.11L577.42 382.04L578.64 383.93L579.86 385.78L581.08 387.58L582.31 389.35L583.53 391.07L584.75 392.76L585.97 394.40L587.20 396.00L588.42 397.56L589.64 399.07L590.86 400.55L592.09 401.98L593.31 403.37L594.53 404.73L595.75 406.04L596.98 407.32L598.20 408.56L599.42 409.77L600.64 410.94L601.87 412.08L603.09 413.18L604.31 414.25L605.53 415.29L606.76 416.30L607.98 417.27L609.20 418.22L610.42 419.14L611.65 420.03L612.87 420.90L614.09 421.73L615.31 422.54L616.54 423.33L617.76 424.09L618.98 424.83L620.20 425.54L621.42 426.23L622.65 426.90L623.87 427.55L625.09 428.18L626.31 428.79L627.54 429.38L628.76 429.95L629.98 430.51L631.20 431.05L632.43 431.57L633.65 432.07L634.87 432.56L636.09 433.03L637.32 433.49L638.54 433.94L639.76 434.37L640.98 434.79L642.21 435.20L643.43 435.60L644.65 435.99L645.87 436.36L647.10 436.73L648.32 437.08L649.54 437.43L650.76 437.77L651.99 438.10L653.21 438.42L654.43 438.74L655.65 439.05L656.88 439.35L658.10 439.65L659.32 439.94L660.54 440.23L661.77 440.51L662.99 440.79L664.21 441.06L665.43 441.33L666.66 441.59L667.88 441.84L669.10 442.09L670.32 442.33L671.55 442.56L672.77 442.78L673.99 443.00L675.21 443.21L676.43 443.41L677.66 443.61L678.88 443.80L680.10 443.98L681.32 444.16L682.55 444.34L683.77 444.51L684.99 444.67L686.21 444.83L687.44 444.98L688.66 445.13L689.88 445.28L691.10 445.42L692.33 445.55L693.55 445.69L694.77 445.81L695.99 445.94L697.22 446.06L698.44 446.17L699.66 446.29L700.88 446.40L702.11 446.50L703.33 446.60L704.55 446.70L705.77 446.80L707.00 446.89L708.22 446.98L709.44 447.07L710.66 447.16L711.89 447.24L713.11 447.32L714.33 447.40L715.55 447.47L716.78 447.54L718.00 447.61L719.22 447.68L720.44 447.75L721.67 447.81L722.89 447.87L724.11 447.93L725.33 447.99L726.56 448.05L727.78 448.10L729.00 448.16" stroke="#0000AA" stroke-width="6.0" fill="none" stroke-linejoin="round"/>
<path d="M119.00 454.54L120.22 454.52L121.44 454.50L122.67 454.47L123.89 454.45L125.11 454.42L126.33 454.39L127.56 454.37L128.78 454.34L130.00 454.31L131.22 454.28L132.45 454.25L133.67 454.21L134.89 454.18L136.11 454.15L137.34 454.11L138.56 454.07L139.78 454.04L141.00 454.00L142.23 453.96L143.45 453.92L144.67 453.88L145.89 453.83L147.12 453.79L148.34 453.74L149.56 453.69L150.78 453.65L152.01 453.60L153.23 453.54L154.45 453.49L155.67 453.43L156.90 453.38L158.12 453.32L159.34 453.26L160.56 453.20L161.79 453.13L163.01 453.07L164.23 453.00L165.45 452.93L166.68 452.86L167.90 452.78L169.12 452.71L170.34 452.63L171.57 452.55L172.79 452.46L174.01 452.38L175.23 452.29L176.45 452.20L177.68 452.11L178.90 452.01L180.12 451.91L181.34 451.81L182.57 451.70L183.79 451.59L185.01 451.48L186.23 451.37L187.46 451.25L188.68 451.13L189.90 451.00L191.12 450.87L192.35 450.74L193.57 450.60L194.79 450.46L196.01 450.31L197.24 450.16L198.46 450.01L199.68 449.83L200.90 449.65L202.13 449.45L203.35 449.24L204.57 449.02L205.79 448.78L207.02 448.53L208.24 448.28L209.46 448.01L210.68 447.73L211.91 447.44L213.13 447.14L214.35 446.83L215.57 446.52L216.80 446.19L218.02 445.86L219.24 445.52L220.46 445.17L221.69 444.82L222.91 444.45L224.13 444.09L225.35 443.71L226.58 443.33L227.80 442.95L229.02 442.56L230.24 442.17L231.46 441.77L232.69 441.37L233.91 440.96L235.13 440.55L236.35 440.14L237.58 439.73L238.80 439.31L240.02 438.90L241.24 438.47L242.47 438.05L243.69 437.61L244.91 437.15L246.13 436.69L247.36 436.21L248.58 435.72L249.80 435.22L251.02 434.70L252.25 434.16L253.47 433.62L254.69 433.05L255.91 432.48L257.14 431.88L258.36 431.27L259.58 430.65L260.80 430.01L262.03 429.35L263.25 428.67L264.47 427.97L265.69 427.26L266.92 426.53L268.14 425.77L269.36 425.00L270.58 424.21L271.81 423.40L273.03 422.56L274.25 421.71L275.47 420.83L276.70 419.93L277.92 419.00L279.14 418.06L280.36 417.08L281.59 416.09L282.81 415.07L284.03 414.02L285.25 412.95L286.47 411.85L287.70 410.72L288.92 409.57L290.14 408.39L291.36 407.17L292.59 405.93L293.81 404.66L295.03 403.36L296.25 402.03L297.48 400.67L298.70 399.27L299.92 397.85L301.14 396.39L302.37 394.89L303.59 393.36L304.81 391.80L306.03 390.20L307.26 388.57L308.48 386.90L309.70 385.19L310.92 383.45L312.15 381.67L313.37 379.85L314.59 377.99L315.81 376.09L317.04 374.16L318.26 372.18L319.48 370.16L320.70 368.10L321.93 366.00L323.15 363.86L324.37 361.68L325.59 359.45L326.82 357.19L328.04 354.87L329.26 352.52L330.48 350.12L331.71 347.68L332.93 345.20L334.15 342.67L335.37 340.10L336.60 337.48L337.82 334.82L339.04 332.12L340.26 329.37L341.48 326.58L342.71 323.74L343.93 320.86L345.15 317.94L346.37 314.98L347.60 311.97L348.82 308.92L350.04 305.83L351.26 302.69L352.49 299.52L353.71 296.30L354.93 293.05L356.15 289.76L357.38 286.43L358.60 283.06L359.82 279.65L361.04 276.21L362.27 272.74L363.49 269.23L364.71 265.69L365.93 262.12L367.16 258.52L368.38 254.89L369.60 251.24L370.82 247.56L372.05 243.85L373.27 240.13L374.49 236.38L375.71 232.62L376.94 228.84L378.16 225.05L379.38 221.24L380.60 217.43L381.83 213.60L383.05 209.77L384.27 205.94L385.49 202.11L386.72 198.28L387.94 194.45L389.16 190.63L390.38 186.82L391.61 183.02L392.83 179.24L394.05 175.47L395.27 171.73L396.49 168.00L397.72 164.31L398.94 160.64L400.16 157.01L401.38 153.41L402.61 149.85L403.83 146.33L405.05 142.86L406.27 139.43L407.50 136.06L408.72 132.74L409.94 129.47L411.16 126.27L412.39 123.13L413.61 120.06L414.83 117.05L416.05 114.12L417.28 111.26L418.50 108.49L419.72 105.79L420.94 103.18L422.17 100.65L423.39 98.21L424.61 95.87L425.83 93.62L427.06 91.47L428.28 89.42L429.50 87.47L430.72 85.62L431.95 83.88L433.17 82.25L434.39 80.72L435.61 79.31L436.84 78.01L438.06 76.83L439.28 75.76L440.50 74.81L441.73 73.98L442.95 73.27L444.17 72.68L445.39 72.21L446.62 71.86L447.84 71.64L449.06 71.53L450.28 71.55L451.51 71.72L452.73 72.02L453.95 72.46L455.17 73.03L456.39 73.75L457.62 74.61L458.84 75.59L460.06 76.72L461.28 77.98L462.51 79.36L463.73 80.88L464.95 82.53L466.17 84.30L467.40 86.19L468.62 88.21L469.84 90.34L471.06 92.59L472.29 94.94L473.51 97.41L474.73 99.99L475.95 102.67L477.18 105.45L478.40 108.32L479.62 111.29L480.84 114.35L482.07 117.49L483.29 120.72L484.51 124.02L485.73 127.40L486.96 130.86L488.18 134.37L489.40 137.96L490.62 141.60L491.85 145.30L493.07 149.05L494.29 152.85L495.51 156.69L496.74 160.57L497.96 164.49L499.18 168.45L500.40 172.43L501.63 176.44L502.85 180.48L504.07 184.53L505.29 188.60L506.52 192.68L507.74 196.77L508.96 200.86L510.18 204.96L511.40 209.06L512.63 213.16L513.85 217.25L515.07 221.33L516.29 225.39L517.52 229.45L518.74 233.49L519.96 237.51L521.18 241.50L522.41 245.48L523.63 249.43L524.85 253.35L526.07 257.24L527.30 261.10L528.52 264.92L529.74 268.72L530.96 272.47L532.19 276.19L533.41 279.87L534.63 283.50L535.85 287.10L537.08 290.65L538.30 294.16L539.52 297.62L540.74 301.04L541.97 304.42L543.19 307.74L544.41 311.02L545.63 314.25L546.86 317.43L548.08 320.56L549.30 323.64L550.52 326.67L551.75 329.66L552.97 332.59L554.19 335.47L555.41 338.30L556.64 341.08L557.86 343.81L559.08 346.49L560.30 349.12L561.53 351.71L562.75 354.24L563.97 356.72L565.19 359.15L566.41 361.54L567.64 363.87L568.86 366.16L570.08 368.40L571.30 370.59L572.53 372.74L573.75 374.84L574.97 376.90L576.19 378.91L577.42 380.87L578.64 382.79L579.86 384.67L581.08 386.51L582.31 388.30L583.53 390.05L584.75 391.76L585.97 393.43L587.20 395.06L588.42 396.64L589.64 398.18L590.86 399.68L592.09 401.14L593.31 402.56L594.53 403.93L595.75 405.27L596.98 406.57L598.20 407.84L599.42 409.06L600.64 410.25L601.87 411.41L603.09 412.53L604.31 413.62L605.53 414.68L606.76 415.70L607.98 416.70L609.20 417.66L610.42 418.60L611.65 419.50L612.87 420.38L614.09 421.23L615.31 422.06L616.54 422.86L617.76 423.63L618.98 424.38L620.20 425.11L621.42 425.82L622.65 426.50L623.87 427.16L625.09 427.80L626.31 428.42L627.54 429.02L628.76 429.61L629.98 430.17L631.20 430.72L632.43 431.25L633.65 431.76L634.87 432.26L636.09 432.74L637.32 433.21L638.54 433.67L639.76 434.11L640.98 434.54L642.21 434.95L643.43 435.36L644.65 435.75L645.87 436.13L647.10 436.51L648.32 436.87L649.54 437.22L650.76 437.57L651.99 437.90L653.21 438.23L654.43 438.56L655.65 438.87L656.88 439.18L658.10 439.48L659.32 439.78L660.54 440.07L661.77 440.36L662.99 440.64L664.21 440.92L665.43 441.19L666.66 441.46L667.88 441.71L669.10 441.96L670.32 442.20L671.55 442.44L672.77 442.66L673.99 442.88L675.21 443.10L676.43 443.30L677.66 443.51L678.88 443.70L680.10 443.89L681.32 444.07L682.55 444.25L683.77 444.42L684.99 444.59L686.21 444.75L687.44 444.91L688.66 445.06L689.88 445.20L691.10 445.35L692.33 445.48L693.55 445.62L694.77 445.75L695.99 445.87L697.22 446.00L698.44 446.12L699.66 446.23L700.88 446.34L702.11 446.45L703.33 446.55L704.55 446.65L705.77 446.75L707.00 446.85L708.22 446.94L709.44 447.03L710.66 447.11L711.89 447.20L713.11 447.28L714.33 447.36L715.55 447.43L716.78 447.51L718.00 447.58L719.22 447.65L720.44 447.71L721.67 447.78L722.89 447.84L724.11 447.90L725.33 447.96L726.56 448.02L727.78 448.07L729.00 448.13" stroke="#960000" stroke-width="6.0" fill="none" stroke-linejoin="round"/>
<path d="M119.00 454.57L120.22 454.55L121.44 454.52L122.67 454.50L123.89 454.47L125.11 454.45L126.33 454.42L127.56 454.40L128.78 454.37L130.00 454.34L131.22 454.31L132.45 454.28L133.67 454.25L134.89 454.22L136.11 454.18L137.34 454.15L138.56 454.11L139.78 454.08L141.00 454.04L142.23 454.00L143.45 453.96L144.67 453.92L145.89 453.88L147.12 453.83L148.34 453.79L149.56 453.74L150.78 453.69L152.01 453.64L153.23 453.59L154.45 453.54L155.67 453.49L156.90 453.43L158.12 453.38L159.34 453.32L160.56 453.26L161.79 453.19L163.01 453.13L164.23 453.06L165.45 452.99L166.68 452.92L167.90 452.85L169.12 452.78L170.34 452.70L171.57 452.62L172.79 452.54L174.01 452.45L175.23 452.37L176.45 452.28L177.68 452.19L178.90 452.09L180.12 451.99L181.34 451.89L182.57 451.79L183.79 451.68L185.01 451.57L186.23 451.46L187.46 451.34L188.68 451.22L189.90 451.10L191.12 450.97L192.35 450.84L193.57 450.71L194.79 450.57L196.01 450.43L197.24 450.28L198.46 450.12L199.68 449.96L200.90 449.77L202.13 449.58L203.35 449.37L204.57 449.15L205.79 448.92L207.02 448.67L208.24 448.42L209.46 448.15L210.68 447.88L211.91 447.59L213.13 447.29L214.35 446.99L215.57 446.68L216.80 446.35L218.02 446.02L219.24 445.69L220.46 445.34L221.69 444.99L222.91 444.63L224.13 444.27L225.35 443.90L226.58 443.52L227.80 443.14L229.02 442.76L230.24 442.37L231.46 441.97L232.69 441.58L233.91 441.17L235.13 440.77L236.35 440.36L237.58 439.95L238.80 439.54L240.02 439.13L241.24 438.71L242.47 438.29L243.69 437.85L244.91 437.40L246.13 436.94L247.36 436.47L248.58 435.98L249.80 435.48L251.02 434.96L252.25 434.44L253.47 433.89L254.69 433.33L255.91 432.76L257.14 432.17L258.36 431.57L259.58 430.94L260.80 430.31L262.03 429.65L263.25 428.98L264.47 428.28L265.69 427.57L266.92 426.85L268.14 426.10L269.36 425.33L270.58 424.54L271.81 423.73L273.03 422.90L274.25 422.05L275.47 421.17L276.70 420.27L277.92 419.35L279.14 418.41L280.36 417.44L281.59 416.45L282.81 415.43L284.03 414.38L285.25 413.31L286.47 412.21L287.70 411.09L288.92 409.94L290.14 408.76L291.36 407.54L292.59 406.31L293.81 405.04L295.03 403.73L296.25 402.40L297.48 401.04L298.70 399.64L299.92 398.22L301.14 396.75L302.37 395.26L303.59 393.73L304.81 392.16L306.03 390.56L307.26 388.92L308.48 387.25L309.70 385.54L310.92 383.79L312.15 382.00L313.37 380.17L314.59 378.31L315.81 376.40L317.04 374.46L318.26 372.47L319.48 370.45L320.70 368.38L321.93 366.27L323.15 364.11L324.37 361.92L325.59 359.68L326.82 357.40L328.04 355.07L329.26 352.70L330.48 350.29L331.71 347.83L332.93 345.33L334.15 342.78L335.37 340.19L336.60 337.56L337.82 334.87L339.04 332.15L340.26 329.38L341.48 326.56L342.71 323.70L343.93 320.79L345.15 317.84L346.37 314.85L347.60 311.81L348.82 308.73L350.04 305.60L351.26 302.44L352.49 299.23L353.71 295.98L354.93 292.69L356.15 289.35L357.38 285.98L358.60 282.57L359.82 279.13L361.04 275.64L362.27 272.12L363.49 268.57L364.71 264.98L365.93 261.37L367.16 257.72L368.38 254.04L369.60 250.33L370.82 246.60L372.05 242.84L373.27 239.06L374.49 235.26L375.71 231.44L376.94 227.60L378.16 223.75L379.38 219.89L380.60 216.01L381.83 212.12L383.05 208.23L384.27 204.34L385.49 200.44L386.72 196.54L387.94 192.65L389.16 188.76L390.38 184.89L391.61 181.02L392.83 177.17L394.05 173.34L395.27 169.52L396.49 165.73L397.72 161.97L398.94 158.23L400.16 154.53L401.38 150.86L402.61 147.23L403.83 143.65L405.05 140.11L406.27 136.61L407.50 133.17L408.72 129.78L409.94 126.46L411.16 123.19L412.39 119.98L413.61 116.85L414.83 113.78L416.05 110.79L417.28 107.87L418.50 105.04L419.72 102.28L420.94 99.62L422.17 97.04L423.39 94.55L424.61 92.15L425.83 89.86L427.06 87.66L428.28 85.56L429.50 83.57L430.72 81.68L431.95 79.90L433.17 78.23L434.39 76.68L435.61 75.23L436.84 73.91L438.06 72.70L439.28 71.61L440.50 70.64L441.73 69.79L442.95 69.06L444.17 68.46L445.39 67.98L446.62 67.62L447.84 67.39L449.06 67.28L450.28 67.30L451.51 67.47L452.73 67.77L453.95 68.22L455.17 68.80L456.39 69.53L457.62 70.39L458.84 71.39L460.06 72.53L461.28 73.80L462.51 75.20L463.73 76.74L464.95 78.40L466.17 80.19L467.40 82.10L468.62 84.14L469.84 86.30L471.06 88.57L472.29 90.96L473.51 93.45L474.73 96.06L475.95 98.77L477.18 101.58L478.40 104.48L479.62 107.48L480.84 110.58L482.07 113.76L483.29 117.02L484.51 120.36L485.73 123.78L486.96 127.27L488.18 130.82L489.40 134.45L490.62 138.13L491.85 141.87L493.07 145.66L494.29 149.50L495.51 153.39L496.74 157.31L497.96 161.28L499.18 165.28L500.40 169.31L501.63 173.36L502.85 177.44L504.07 181.54L505.29 185.65L506.52 189.78L507.74 193.91L508.96 198.05L510.18 202.20L511.40 206.34L512.63 210.48L513.85 214.62L515.07 218.74L516.29 222.86L517.52 226.96L518.74 231.04L519.96 235.10L521.18 239.15L522.41 243.16L523.63 247.16L524.85 251.12L526.07 255.06L527.30 258.96L528.52 262.83L529.74 266.66L530.96 270.46L532.19 274.22L533.41 277.94L534.63 281.61L535.85 285.25L537.08 288.84L538.30 292.39L539.52 295.89L540.74 299.35L541.97 302.76L543.19 306.12L544.41 309.44L545.63 312.70L546.86 315.92L548.08 319.08L549.30 322.20L550.52 325.26L551.75 328.28L552.97 331.24L554.19 334.16L555.41 337.02L556.64 339.83L557.86 342.60L559.08 345.31L560.30 347.97L561.53 350.58L562.75 353.13L563.97 355.64L565.19 358.10L566.41 360.52L567.64 362.88L568.86 365.19L570.08 367.46L571.30 369.67L572.53 371.84L573.75 373.97L574.97 376.05L576.19 378.08L577.42 380.07L578.64 382.01L579.86 383.91L581.08 385.76L582.31 387.58L583.53 389.35L584.75 391.08L585.97 392.77L587.20 394.41L588.42 396.02L589.64 397.57L590.86 399.09L592.09 400.56L593.31 401.99L594.53 403.39L595.75 404.74L596.98 406.06L598.20 407.33L599.42 408.57L600.64 409.78L601.87 410.95L603.09 412.08L604.31 413.19L605.53 414.25L606.76 415.29L607.98 416.30L609.20 417.27L610.42 418.22L611.65 419.14L612.87 420.03L614.09 420.89L615.31 421.72L616.54 422.53L617.76 423.32L618.98 424.08L620.20 424.81L621.42 425.53L622.65 426.22L623.87 426.89L625.09 427.54L626.31 428.17L627.54 428.78L628.76 429.37L629.98 429.94L631.20 430.49L632.43 431.03L633.65 431.55L634.87 432.05L636.09 432.54L637.32 433.02L638.54 433.48L639.76 433.92L640.98 434.36L642.21 434.78L643.43 435.19L644.65 435.59L645.87 435.98L647.10 436.35L648.32 436.72L649.54 437.08L650.76 437.43L651.99 437.77L653.21 438.10L654.43 438.43L655.65 438.75L656.88 439.06L658.10 439.37L659.32 439.67L660.54 439.96L661.77 440.25L662.99 440.54L664.21 440.82L665.43 441.10L666.66 441.36L667.88 441.62L669.10 441.88L670.32 442.12L671.55 442.36L672.77 442.58L673.99 442.81L675.21 443.02L676.43 443.23L677.66 443.44L678.88 443.63L680.10 443.82L681.32 444.01L682.55 444.19L683.77 444.36L684.99 444.53L686.21 444.69L687.44 444.85L688.66 445.00L689.88 445.15L691.10 445.30L692.33 445.44L693.55 445.57L694.77 445.70L695.99 445.83L697.22 445.95L698.44 446.07L699.66 446.19L700.88 446.30L702.11 446.41L703.33 446.52L704.55 446.62L705.77 446.72L707.00 446.81L708.22 446.91L709.44 447.00L710.66 447.08L711.89 447.17L713.11 447.25L714.33 447.33L715.55 447.41L716.78 447.48L718.00 447.55L719.22 447.62L720.44 447.69L721.67 447.76L722.89 447.82L724.11 447.88L725.33 447.94L726.56 448.00L727.78 448.06L729.00 448.11" stroke="#FF00FF" stroke-width="6.0" fill="none" stroke-linejoin="round"/>
<path d="M119.00 454.61L120.22 454.59L121.44 454.57L122.67 454.55L123.89 454.52L125.11 454.50L126.33 454.47L127.56 454.45L128.78 454.42L130.00 454.40L131.22 454.37L132.45 454.34L133.67 454.31L134.89 454.28L136.11 454.25L137.34 454.21L138.56 454.18L139.78 454.14L141.00 454.11L142.23 454.07L143.45 454.03L144.67 453.99L145.89 453.95L147.12 453.91L148.34 453.87L149.56 453.82L150.78 453.78L152.01 453.73L153.23 453.68L154.45 453.63L155.67 453.58L156.90 453.53L158.12 453.47L159.34 453.42L160.56 453.36L161.79 453.30L163.01 453.24L164.23 453.17L165.45 453.11L166.68 453.04L167.90 452.97L169.12 452.90L170.34 452.83L171.57 452.75L172.79 452.67L174.01 452.59L175.23 452.51L176.45 452.42L177.68 452.33L178.90 452.24L180.12 452.15L181.34 452.05L182.57 451.95L183.79 451.85L185.01 451.74L186.23 451.63L187.46 451.52L188.68 451.40L189.90 451.28L191.12 451.16L192.35 451.03L193.57 450.90L194.79 450.77L196.01 450.63L197.24 450.49L198.46 450.34L199.68 450.17L200.90 449.99L202.13 449.80L203.35 449.60L204.57 449.38L205.79 449.16L207.02 448.92L208.24 448.67L209.46 448.41L210.68 448.14L211.91 447.86L213.13 447.57L214.35 447.27L215.57 446.96L216.80 446.64L218.02 446.32L219.24 445.99L220.46 445.65L221.69 445.31L222.91 444.95L224.13 444.60L225.35 444.23L226.58 443.86L227.80 443.49L229.02 443.11L230.24 442.73L231.46 442.34L232.69 441.95L233.91 441.56L235.13 441.16L236.35 440.76L237.58 440.36L238.80 439.95L240.02 439.54L241.24 439.13L242.47 438.72L243.69 438.29L244.91 437.85L246.13 437.40L247.36 436.93L248.58 436.45L249.80 435.96L251.02 435.45L252.25 434.93L253.47 434.39L254.69 433.84L255.91 433.28L257.14 432.69L258.36 432.10L259.58 431.48L260.80 430.85L262.03 430.20L263.25 429.54L264.47 428.85L265.69 428.15L266.92 427.43L268.14 426.69L269.36 425.92L270.58 425.14L271.81 424.34L273.03 423.51L274.25 422.67L275.47 421.80L276.70 420.91L277.92 419.99L279.14 419.05L280.36 418.09L281.59 417.10L282.81 416.09L284.03 415.05L285.25 413.98L286.47 412.89L287.70 411.77L288.92 410.62L290.14 409.44L291.36 408.23L292.59 406.99L293.81 405.72L295.03 404.42L296.25 403.09L297.48 401.73L298.70 400.33L299.92 398.90L301.14 397.43L302.37 395.93L303.59 394.40L304.81 392.83L306.03 391.22L307.26 389.58L308.48 387.90L309.70 386.18L310.92 384.42L312.15 382.62L313.37 380.79L314.59 378.91L315.81 376.99L317.04 375.03L318.26 373.03L319.48 370.99L320.70 368.90L321.93 366.77L323.15 364.60L324.37 362.38L325.59 360.12L326.82 357.82L328.04 355.46L329.26 353.07L330.48 350.63L331.71 348.14L332.93 345.60L334.15 343.02L335.37 340.39L336.60 337.72L337.82 335.00L339.04 332.23L340.26 329.42L341.48 326.56L342.71 323.65L343.93 320.69L345.15 317.69L346.37 314.64L347.60 311.55L348.82 308.41L350.04 305.23L351.26 302.00L352.49 298.73L353.71 295.41L354.93 292.05L356.15 288.65L357.38 285.21L358.60 281.72L359.82 278.20L361.04 274.64L362.27 271.04L363.49 267.40L364.71 263.73L365.93 260.02L367.16 256.28L368.38 252.51L369.60 248.71L370.82 244.88L372.05 241.02L373.27 237.14L374.49 233.24L375.71 229.31L376.94 225.37L378.16 221.40L379.38 217.43L380.60 213.44L381.83 209.44L383.05 205.43L384.27 201.42L385.49 197.40L386.72 193.38L387.94 189.37L389.16 185.36L390.38 181.36L391.61 177.37L392.83 173.39L394.05 169.43L395.27 165.49L396.49 161.57L397.72 157.68L398.94 153.82L400.16 149.99L401.38 146.19L402.61 142.44L403.83 138.72L405.05 135.05L406.27 131.44L407.50 127.87L408.72 124.36L409.94 120.91L411.16 117.52L412.39 114.19L413.61 110.94L414.83 107.76L416.05 104.65L417.28 101.62L418.50 98.68L419.72 95.82L420.94 93.05L422.17 90.37L423.39 87.78L424.61 85.29L425.83 82.91L427.06 80.62L428.28 78.44L429.50 76.37L430.72 74.40L431.95 72.55L433.17 70.82L434.39 69.20L435.61 67.70L436.84 66.32L438.06 65.06L439.28 63.92L440.50 62.91L441.73 62.03L442.95 61.27L444.17 60.64L445.39 60.14L446.62 59.77L447.84 59.53L449.06 59.42L450.28 59.44L451.51 59.61L452.73 59.92L453.95 60.37L455.17 60.97L456.39 61.71L457.62 62.59L458.84 63.61L460.06 64.77L461.28 66.07L462.51 67.50L463.73 69.07L464.95 70.76L466.17 72.59L467.40 74.54L468.62 76.62L469.84 78.82L471.06 81.14L472.29 83.58L473.51 86.12L474.73 88.78L475.95 91.54L477.18 94.41L478.40 97.38L479.62 100.44L480.84 103.60L482.07 106.84L483.29 110.17L484.51 113.58L485.73 117.07L486.96 120.63L488.18 124.26L489.40 127.95L490.62 131.71L491.85 135.53L493.07 139.39L494.29 143.31L495.51 147.28L496.74 151.29L497.96 155.33L499.18 159.41L500.40 163.52L501.63 167.66L502.85 171.82L504.07 176.00L505.29 180.20L506.52 184.41L507.74 188.63L508.96 192.86L510.18 197.08L511.40 201.31L512.63 205.54L513.85 209.76L515.07 213.97L516.29 218.17L517.52 222.35L518.74 226.51L519.96 230.66L521.18 234.79L522.41 238.89L523.63 242.96L524.85 247.00L526.07 251.02L527.30 255.00L528.52 258.95L529.74 262.86L530.96 266.74L532.19 270.57L533.41 274.36L534.63 278.12L535.85 281.83L537.08 285.49L538.30 289.11L539.52 292.69L540.74 296.22L541.97 299.69L543.19 303.13L544.41 306.51L545.63 309.84L546.86 313.12L548.08 316.35L549.30 319.53L550.52 322.66L551.75 325.74L552.97 328.76L554.19 331.73L555.41 334.66L556.64 337.52L557.86 340.34L559.08 343.11L560.30 345.82L561.53 348.49L562.75 351.10L563.97 353.66L565.19 356.17L566.41 358.63L567.64 361.04L568.86 363.40L570.08 365.71L571.30 367.97L572.53 370.19L573.75 372.35L574.97 374.48L576.19 376.55L577.42 378.58L578.64 380.56L579.86 382.50L581.08 384.39L582.31 386.24L583.53 388.05L584.75 389.81L585.97 391.54L587.20 393.22L588.42 394.85L589.64 396.44L590.86 397.99L592.09 399.49L593.31 400.95L594.53 402.37L595.75 403.76L596.98 405.10L598.20 406.40L599.42 407.67L600.64 408.90L601.87 410.10L603.09 411.26L604.31 412.38L605.53 413.47L606.76 414.53L607.98 415.56L609.20 416.56L610.42 417.52L611.65 418.46L612.87 419.37L614.09 420.25L615.31 421.11L616.54 421.93L617.76 422.74L618.98 423.51L620.20 424.27L621.42 425.00L622.65 425.70L623.87 426.39L625.09 427.05L626.31 427.69L627.54 428.32L628.76 428.92L629.98 429.50L631.20 430.07L632.43 430.62L633.65 431.15L634.87 431.67L636.09 432.17L637.32 432.66L638.54 433.13L639.76 433.59L640.98 434.03L642.21 434.46L643.43 434.88L644.65 435.29L645.87 435.69L647.10 436.07L648.32 436.45L649.54 436.81L650.76 437.17L651.99 437.52L653.21 437.86L654.43 438.19L655.65 438.52L656.88 438.84L658.10 439.15L659.32 439.46L660.54 439.76L661.77 440.06L662.99 440.35L664.21 440.64L665.43 440.92L666.66 441.19L667.88 441.46L669.10 441.71L670.32 441.96L671.55 442.20L672.77 442.44L673.99 442.67L675.21 442.89L676.43 443.10L677.66 443.31L678.88 443.51L680.10 443.70L681.32 443.89L682.55 444.07L683.77 444.25L684.99 444.42L686.21 444.59L687.44 444.75L688.66 444.91L689.88 445.06L691.10 445.21L692.33 445.35L693.55 445.49L694.77 445.62L695.99 445.75L697.22 445.88L698.44 446.00L699.66 446.12L700.88 446.23L702.11 446.34L703.33 446.45L704.55 446.55L705.77 446.66L707.00 446.75L708.22 446.85L709.44 446.94L710.66 447.03L711.89 447.12L713.11 447.20L714.33 447.28L715.55 447.36L716.78 447.43L718.00 447.51L719.22 447.58L720.44 447.65L721.67 447.72L722.89 447.78L724.11 447.84L725.33 447.90L726.56 447.96L727.78 448.02L729.00 448.08" stroke="#FF6A00" stroke-width="6.0" fill="none" stroke-linejoin="round"/>
<path d="M119.00 454.66L120.22 454.64L121.44 454.62L122.67 454.60L123.89 454.58L125.11 454.56L126.33 454.54L127.56 454.51L128.78 454.49L130.00 454.46L131.22 454.43L132.45 454.41L133.67 454.38L134.89 454.35L136.11 454.32L137.34 454.29L138.56 454.26L139.78 454.23L141.00 454.19L142.23 454.16L143.45 454.12L144.67 454.09L145.89 454.05L147.12 454.01L148.34 453.97L149.56 453.93L150.78 453.88L152.01 453.84L153.23 453.79L154.45 453.75L155.67 453.70L156.90 453.65L158.12 453.60L159.34 453.54L160.56 453.49L161.79 453.43L163.01 453.38L164.23 453.32L165.45 453.25L166.68 453.19L167.90 453.12L169.12 453.06L170.34 452.99L171.57 452.91L172.79 452.84L174.01 452.76L175.23 452.69L176.45 452.60L177.68 452.52L178.90 452.43L180.12 452.35L181.34 452.25L182.57 452.16L183.79 452.06L185.01 451.96L186.23 451.86L187.46 451.75L188.68 451.64L189.90 451.53L191.12 451.41L192.35 451.29L193.57 451.17L194.79 451.04L196.01 450.91L197.24 450.78L198.46 450.63L199.68 450.48L200.90 450.31L202.13 450.13L203.35 449.93L204.57 449.72L205.79 449.50L207.02 449.27L208.24 449.03L209.46 448.78L210.68 448.52L211.91 448.25L213.13 447.97L214.35 447.68L215.57 447.39L216.80 447.08L218.02 446.77L219.24 446.45L220.46 446.12L221.69 445.79L222.91 445.45L224.13 445.11L225.35 444.76L226.58 444.40L227.80 444.04L229.02 443.68L230.24 443.31L231.46 442.93L232.69 442.56L233.91 442.18L235.13 441.80L236.35 441.41L237.58 441.03L238.80 440.64L240.02 440.25L241.24 439.86L242.47 439.46L243.69 439.05L244.91 438.63L246.13 438.19L247.36 437.74L248.58 437.28L249.80 436.81L251.02 436.33L252.25 435.83L253.47 435.31L254.69 434.78L255.91 434.24L257.14 433.68L258.36 433.11L259.58 432.52L260.80 431.91L262.03 431.29L263.25 430.65L264.47 429.99L265.69 429.31L266.92 428.61L268.14 427.90L269.36 427.17L270.58 426.41L271.81 425.64L273.03 424.84L274.25 424.03L275.47 423.19L276.70 422.33L277.92 421.45L279.14 420.54L280.36 419.61L281.59 418.65L282.81 417.67L284.03 416.67L285.25 415.64L286.47 414.58L287.70 413.49L288.92 412.38L290.14 411.24L291.36 410.07L292.59 408.87L293.81 407.64L295.03 406.38L296.25 405.09L297.48 403.76L298.70 402.41L299.92 401.02L301.14 399.60L302.37 398.14L303.59 396.65L304.81 395.12L306.03 393.56L307.26 391.96L308.48 390.32L309.70 388.65L310.92 386.94L312.15 385.19L313.37 383.40L314.59 381.57L315.81 379.70L317.04 377.79L318.26 375.84L319.48 373.84L320.70 371.81L321.93 369.73L323.15 367.61L324.37 365.44L325.59 363.23L326.82 360.98L328.04 358.68L329.26 356.33L330.48 353.94L331.71 351.51L332.93 349.02L334.15 346.50L335.37 343.92L336.60 341.30L337.82 338.63L339.04 335.92L340.26 333.16L341.48 330.35L342.71 327.49L343.93 324.59L345.15 321.64L346.37 318.65L347.60 315.61L348.82 312.52L350.04 309.39L351.26 306.21L352.49 302.99L353.71 299.73L354.93 296.42L356.15 293.07L357.38 289.67L358.60 286.24L359.82 282.76L361.04 279.25L362.27 275.70L363.49 272.11L364.71 268.48L365.93 264.82L367.16 261.13L368.38 257.40L369.60 253.64L370.82 249.85L372.05 246.04L373.27 242.20L374.49 238.34L375.71 234.45L376.94 230.55L378.16 226.62L379.38 222.68L380.60 218.73L381.83 214.76L383.05 210.79L384.27 206.81L385.49 202.83L386.72 198.84L387.94 194.85L389.16 190.87L390.38 186.90L391.61 182.94L392.83 178.98L394.05 175.05L395.27 171.13L396.49 167.23L397.72 163.36L398.94 159.52L400.16 155.71L401.38 151.93L402.61 148.19L403.83 144.50L405.05 140.84L406.27 137.24L407.50 133.69L408.72 130.19L409.94 126.75L411.16 123.37L412.39 120.06L413.61 116.81L414.83 113.64L416.05 110.54L417.28 107.52L418.50 104.58L419.72 101.73L420.94 98.96L422.17 96.29L423.39 93.71L424.61 91.22L425.83 88.84L427.06 86.55L428.28 84.38L429.50 82.31L430.72 80.35L431.95 78.50L433.17 76.76L434.39 75.14L435.61 73.64L436.84 72.26L438.06 71.01L439.28 69.87L440.50 68.86L441.73 67.98L442.95 67.22L444.17 66.59L445.39 66.09L446.62 65.72L447.84 65.48L449.06 65.37L450.28 65.39L451.51 65.56L452.73 65.88L453.95 66.34L455.17 66.94L456.39 67.69L457.62 68.59L458.84 69.62L460.06 70.80L461.28 72.12L462.51 73.57L463.73 75.16L464.95 76.88L466.17 78.73L467.40 80.71L468.62 82.82L469.84 85.05L471.06 87.40L472.29 89.86L473.51 92.44L474.73 95.13L475.95 97.93L477.18 100.83L478.40 103.83L479.62 106.93L480.84 110.12L482.07 113.39L483.29 116.76L484.51 120.20L485.73 123.72L486.96 127.31L488.18 130.97L489.40 134.70L490.62 138.49L491.85 142.33L493.07 146.23L494.29 150.17L495.51 154.16L496.74 158.19L497.96 162.26L499.18 166.35L500.40 170.48L501.63 174.63L502.85 178.81L504.07 183.00L505.29 187.21L506.52 191.42L507.74 195.65L508.96 199.88L510.18 204.10L511.40 208.33L512.63 212.55L513.85 216.76L515.07 220.96L516.29 225.15L517.52 229.31L518.74 233.46L519.96 237.59L521.18 241.69L522.41 245.77L523.63 249.82L524.85 253.83L526.07 257.82L527.30 261.77L528.52 265.68L529.74 269.55L530.96 273.39L532.19 277.18L533.41 280.93L534.63 284.64L535.85 288.30L537.08 291.92L538.30 295.48L539.52 299.01L540.74 302.48L541.97 305.90L543.19 309.28L544.41 312.60L545.63 315.87L546.86 319.09L548.08 322.26L549.30 325.37L550.52 328.44L551.75 331.45L552.97 334.41L554.19 337.31L555.41 340.16L556.64 342.96L557.86 345.71L559.08 348.41L560.30 351.05L561.53 353.64L562.75 356.18L563.97 358.67L565.19 361.11L566.41 363.50L567.64 365.83L568.86 368.12L570.08 370.36L571.30 372.55L572.53 374.69L573.75 376.79L574.97 378.84L576.19 380.84L577.42 382.80L578.64 384.71L579.86 386.57L581.08 388.40L582.31 390.18L583.53 391.91L584.75 393.61L585.97 395.26L587.20 396.87L588.42 398.44L589.64 399.96L590.86 401.44L592.09 402.88L593.31 404.28L594.53 405.63L595.75 406.95L596.98 408.23L598.20 409.47L599.42 410.68L600.64 411.85L601.87 412.98L603.09 414.08L604.31 415.15L605.53 416.18L606.76 417.19L607.98 418.16L609.20 419.10L610.42 420.01L611.65 420.90L612.87 421.75L614.09 422.58L615.31 423.38L616.54 424.16L617.76 424.91L618.98 425.64L620.20 426.35L621.42 427.03L622.65 427.69L623.87 428.33L625.09 428.95L626.31 429.55L627.54 430.13L628.76 430.69L629.98 431.23L631.20 431.76L632.43 432.27L633.65 432.76L634.87 433.24L636.09 433.71L637.32 434.15L638.54 434.59L639.76 435.01L640.98 435.42L642.21 435.82L643.43 436.21L644.65 436.58L645.87 436.95L647.10 437.30L648.32 437.65L649.54 437.98L650.76 438.31L651.99 438.63L653.21 438.95L654.43 439.25L655.65 439.55L656.88 439.84L658.10 440.13L659.32 440.41L660.54 440.69L661.77 440.96L662.99 441.23L664.21 441.50L665.43 441.76L666.66 442.01L667.88 442.25L669.10 442.49L670.32 442.72L671.55 442.94L672.77 443.15L673.99 443.36L675.21 443.56L676.43 443.76L677.66 443.95L678.88 444.13L680.10 444.31L681.32 444.48L682.55 444.65L683.77 444.81L684.99 444.97L686.21 445.12L687.44 445.27L688.66 445.41L689.88 445.55L691.10 445.69L692.33 445.81L693.55 445.94L694.77 446.06L695.99 446.18L697.22 446.29L698.44 446.41L699.66 446.51L700.88 446.62L702.11 446.72L703.33 446.81L704.55 446.91L705.77 447.00L707.00 447.09L708.22 447.17L709.44 447.26L710.66 447.34L711.89 447.42L713.11 447.49L714.33 447.56L715.55 447.63L716.78 447.70L718.00 447.77L719.22 447.83L720.44 447.90L721.67 447.96L722.89 448.01L724.11 448.07L725.33 448.13L726.56 448.18L727.78 448.23L729.00 448.28" stroke="#6A00E0" stroke-width="6.8" fill="none" stroke-linejoin="round"/>
</g>
<rect x="112.3" y="613.0" width="621.1" height="451.4" fill="none" stroke="#000" stroke-width="5.8" stroke-linejoin="round"/>
<g stroke="#000" stroke-width="5.6" stroke-linecap="round"><line x1="112.3" y1="1064.4" x2="103.3" y2="1064.4"/><line x1="112.3" y1="1008.0" x2="107.3" y2="1008.0"/><line x1="112.3" y1="951.6" x2="103.3" y2="951.6"/><line x1="112.3" y1="895.1" x2="107.3" y2="895.1"/><line x1="112.3" y1="838.7" x2="103.3" y2="838.7"/><line x1="112.3" y1="782.3" x2="107.3" y2="782.3"/><line x1="112.3" y1="725.9" x2="103.3" y2="725.9"/><line x1="112.3" y1="669.4" x2="107.3" y2="669.4"/><line x1="112.3" y1="613.0" x2="103.3" y2="613.0"/><line x1="112.3" y1="1064.4" x2="112.3" y2="1073.4"/><line x1="203.6" y1="1064.4" x2="203.6" y2="1068.4"/><line x1="294.8" y1="1064.4" x2="294.8" y2="1073.4"/><line x1="386.1" y1="1064.4" x2="386.1" y2="1068.4"/><line x1="477.3" y1="1064.4" x2="477.3" y2="1073.4"/><line x1="568.5" y1="1064.4" x2="568.5" y2="1068.4"/><line x1="659.8" y1="1064.4" x2="659.8" y2="1073.4"/></g>
<g>
<path d="M112.30 1057.33L113.54 1057.19L114.79 1057.05L116.03 1056.91L117.28 1056.76L118.52 1056.61L119.77 1056.46L121.01 1056.30L122.26 1056.14L123.50 1055.97L124.75 1055.80L125.99 1055.63L127.24 1055.45L128.48 1055.27L129.73 1055.08L130.97 1054.89L132.22 1054.69L133.46 1054.49L134.70 1054.28L135.95 1054.07L137.19 1053.86L138.44 1053.64L139.68 1053.41L140.93 1053.18L142.17 1052.94L143.42 1052.69L144.66 1052.44L145.91 1052.19L147.15 1051.93L148.40 1051.66L149.64 1051.38L150.89 1051.10L152.13 1050.81L153.37 1050.52L154.62 1050.21L155.86 1049.90L157.11 1049.59L158.35 1049.26L159.60 1048.93L160.84 1048.59L162.09 1048.24L163.33 1047.88L164.58 1047.52L165.82 1047.14L167.07 1046.76L168.31 1046.37L169.56 1045.96L170.80 1045.55L172.05 1045.13L173.29 1044.70L174.53 1044.26L175.78 1043.81L177.02 1043.34L178.27 1042.87L179.51 1042.38L180.76 1041.89L182.00 1041.38L183.25 1040.86L184.49 1040.33L185.74 1039.78L186.98 1039.23L188.23 1038.66L189.47 1038.07L190.72 1037.48L191.96 1036.86L193.20 1036.24L194.45 1035.60L195.69 1034.95L196.94 1034.28L198.18 1033.59L199.43 1032.89L200.67 1032.18L201.92 1031.44L203.16 1030.70L204.41 1029.93L205.65 1029.15L206.90 1028.35L208.14 1027.53L209.39 1026.69L210.63 1025.83L211.88 1024.96L213.12 1024.06L214.36 1023.15L215.61 1022.22L216.85 1021.26L218.10 1020.28L219.34 1019.29L220.59 1018.27L221.83 1017.23L223.08 1016.16L224.32 1015.08L225.57 1013.97L226.81 1012.83L228.06 1011.68L229.30 1010.49L230.55 1009.29L231.79 1008.05L233.03 1006.80L234.28 1005.51L235.52 1004.20L236.77 1002.86L238.01 1001.50L239.26 1000.10L240.50 998.68L241.75 997.23L242.99 995.75L244.24 994.25L245.48 992.71L246.73 991.14L247.97 989.54L249.22 987.91L250.46 986.25L251.71 984.55L252.95 982.83L254.19 981.07L255.44 979.28L256.68 977.45L257.93 975.60L259.17 973.70L260.42 971.78L261.66 969.82L262.91 967.82L264.15 965.79L265.40 963.72L266.64 961.62L267.89 959.49L269.13 957.31L270.38 955.10L271.62 952.86L272.86 950.57L274.11 948.25L275.35 945.90L276.60 943.51L277.84 941.08L279.09 938.61L280.33 936.11L281.58 933.57L282.82 930.99L284.07 928.38L285.31 925.73L286.56 923.04L287.80 920.32L289.05 917.56L290.29 914.76L291.54 911.93L292.78 909.07L294.02 906.17L295.27 903.24L296.51 900.27L297.76 897.27L299.00 894.24L300.25 891.18L301.49 888.09L302.74 884.96L303.98 881.81L305.23 878.63L306.47 875.42L307.72 872.18L308.96 868.92L310.21 865.63L311.45 862.33L312.69 858.99L313.94 855.64L315.18 852.27L316.43 848.88L317.67 845.48L318.92 842.06L320.16 838.62L321.41 835.18L322.65 831.72L323.90 828.26L325.14 824.79L326.39 821.32L327.63 817.84L328.88 814.36L330.12 810.89L331.37 807.42L332.61 803.95L333.85 800.49L335.10 797.05L336.34 793.61L337.59 790.20L338.83 786.79L340.08 783.41L341.32 780.06L342.57 776.73L343.81 773.42L345.06 770.15L346.30 766.91L347.55 763.70L348.79 760.54L350.04 757.42L351.28 754.34L352.53 751.30L353.77 748.32L355.01 745.39L356.26 742.51L357.50 739.69L358.75 736.93L359.99 734.24L361.24 731.61L362.48 729.05L363.73 726.56L364.97 724.14L366.22 721.80L367.46 719.54L368.71 717.36L369.95 715.26L371.20 713.25L372.44 711.32L373.68 709.49L374.93 707.74L376.17 706.09L377.42 704.54L378.66 703.08L379.91 701.72L381.15 700.46L382.40 699.31L383.64 698.25L384.89 697.30L386.13 696.46L387.38 695.72L388.62 695.09L389.87 694.57L391.11 694.16L392.36 693.86L393.60 693.66L394.84 693.58L396.09 693.60L397.33 693.73L398.58 693.97L399.82 694.32L401.07 694.76L402.31 695.32L403.56 695.98L404.80 696.74L406.05 697.61L407.29 698.58L408.54 699.65L409.78 700.82L411.03 702.09L412.27 703.46L413.51 704.92L414.76 706.48L416.00 708.14L417.25 709.89L418.49 711.73L419.74 713.66L420.98 715.68L422.23 717.78L423.47 719.97L424.72 722.24L425.96 724.59L427.21 727.02L428.45 729.52L429.70 732.10L430.94 734.75L432.19 737.47L433.43 740.26L434.67 743.11L435.92 746.02L437.16 749.00L438.41 752.03L439.65 755.11L440.90 758.25L442.14 761.44L443.39 764.68L444.63 767.97L445.88 771.29L447.12 774.66L448.37 778.06L449.61 781.50L450.86 784.97L452.10 788.48L453.34 792.01L454.59 795.56L455.83 799.14L457.08 802.74L458.32 806.35L459.57 809.99L460.81 813.63L462.06 817.29L463.30 820.95L464.55 824.62L465.79 828.30L467.04 831.98L468.28 835.65L469.53 839.33L470.77 843.00L472.02 846.66L473.26 850.32L474.50 853.97L475.75 857.60L476.99 861.22L478.24 864.82L479.48 868.41L480.73 871.98L481.97 875.53L483.22 879.05L484.46 882.56L485.71 886.03L486.95 889.48L488.20 892.91L489.44 896.30L490.69 899.67L491.93 903.00L493.17 906.30L494.42 909.57L495.66 912.80L496.91 916.00L498.15 919.16L499.40 922.29L500.64 925.38L501.89 928.43L503.13 931.44L504.38 934.41L505.62 937.34L506.87 940.23L508.11 943.08L509.36 945.88L510.60 948.65L511.85 951.37L513.09 954.05L514.33 956.69L515.58 959.29L516.82 961.84L518.07 964.35L519.31 966.82L520.56 969.24L521.80 971.62L523.05 973.96L524.29 976.25L525.54 978.50L526.78 980.71L528.03 982.88L529.27 985.00L530.52 987.08L531.76 989.12L533.01 991.12L534.25 993.07L535.49 994.99L536.74 996.86L537.98 998.70L539.23 1000.49L540.47 1002.25L541.72 1003.96L542.96 1005.64L544.21 1007.28L545.45 1008.88L546.70 1010.45L547.94 1011.97L549.19 1013.46L550.43 1014.92L551.68 1016.34L552.92 1017.72L554.16 1019.07L555.41 1020.39L556.65 1021.68L557.90 1022.93L559.14 1024.15L560.39 1025.33L561.63 1026.49L562.88 1027.62L564.12 1028.72L565.37 1029.78L566.61 1030.82L567.86 1031.83L569.10 1032.82L570.35 1033.77L571.59 1034.70L572.84 1035.61L574.08 1036.49L575.32 1037.34L576.57 1038.17L577.81 1038.98L579.06 1039.76L580.30 1040.52L581.55 1041.26L582.79 1041.97L584.04 1042.67L585.28 1043.34L586.53 1044.00L587.77 1044.63L589.02 1045.25L590.26 1045.84L591.51 1046.42L592.75 1046.98L593.99 1047.52L595.24 1048.05L596.48 1048.56L597.73 1049.06L598.97 1049.53L600.22 1050.00L601.46 1050.45L602.71 1050.88L603.95 1051.30L605.20 1051.71L606.44 1052.10L607.69 1052.48L608.93 1052.85L610.18 1053.21L611.42 1053.55L612.67 1053.88L613.91 1054.21L615.15 1054.52L616.40 1054.82L617.64 1055.11L618.89 1055.39L620.13 1055.66L621.38 1055.92L622.62 1056.18L623.87 1056.42L625.11 1056.66L626.36 1056.88L627.60 1057.10L628.85 1057.32L630.09 1057.52L631.34 1057.72L632.58 1057.91L633.82 1058.09L635.07 1058.27L636.31 1058.44L637.56 1058.61L638.80 1058.77L640.05 1058.92L641.29 1059.07L642.54 1059.21L643.78 1059.35L645.03 1059.48L646.27 1059.61L647.52 1059.73L648.76 1059.85L650.01 1059.97L651.25 1060.08L652.50 1060.18L653.74 1060.28L654.98 1060.38L656.23 1060.48L657.47 1060.57L658.72 1060.66L659.96 1060.74L661.21 1060.82L662.45 1060.90L663.70 1060.98L664.94 1061.05L666.19 1061.12L667.43 1061.19L668.68 1061.25L669.92 1061.31L671.17 1061.37L672.41 1061.43L673.65 1061.49L674.90 1061.54L676.14 1061.59L677.39 1061.64L678.63 1061.69L679.88 1061.73L681.12 1061.78L682.37 1061.82L683.61 1061.86L684.86 1061.90L686.10 1061.93L687.35 1061.97L688.59 1062.00L689.84 1062.04L691.08 1062.07L692.33 1062.10L693.57 1062.13L694.81 1062.16L696.06 1062.18L697.30 1062.21L698.55 1062.23L699.79 1062.26L701.04 1062.28L702.28 1062.30L703.53 1062.32L704.77 1062.35L706.02 1062.36L707.26 1062.38L708.51 1062.40L709.75 1062.42L711.00 1062.44L712.24 1062.45L713.48 1062.47L714.73 1062.48L715.97 1062.50L717.22 1062.51L718.46 1062.52L719.71 1062.53L720.95 1062.55L722.20 1062.56L723.44 1062.57L724.69 1062.58L725.93 1062.59L727.18 1062.60L728.42 1062.61L729.67 1062.62L730.91 1062.63L732.16 1062.63L733.40 1062.64" stroke="#000000" stroke-width="6.6" fill="none" stroke-linejoin="round"/>
<path d="M112.30 1058.29L113.54 1058.17L114.79 1058.05L116.03 1057.93L117.28 1057.81L118.52 1057.68L119.77 1057.55L121.01 1057.41L122.26 1057.27L123.50 1057.13L124.75 1056.98L125.99 1056.84L127.24 1056.68L128.48 1056.53L129.73 1056.36L130.97 1056.20L132.22 1056.03L133.46 1055.86L134.70 1055.68L135.95 1055.50L137.19 1055.31L138.44 1055.12L139.68 1054.92L140.93 1054.72L142.17 1054.52L143.42 1054.30L144.66 1054.09L145.91 1053.86L147.15 1053.64L148.40 1053.40L149.64 1053.16L150.89 1052.92L152.13 1052.67L153.37 1052.41L154.62 1052.15L155.86 1051.87L157.11 1051.60L158.35 1051.31L159.60 1051.02L160.84 1050.72L162.09 1050.42L163.33 1050.10L164.58 1049.78L165.82 1049.45L167.07 1049.11L168.31 1048.77L169.56 1048.41L170.80 1048.05L172.05 1047.68L173.29 1047.29L174.53 1046.90L175.78 1046.50L177.02 1046.09L178.27 1045.67L179.51 1045.24L180.76 1044.80L182.00 1044.35L183.25 1043.89L184.49 1043.41L185.74 1042.93L186.98 1042.43L188.23 1041.92L189.47 1041.40L190.72 1040.86L191.96 1040.32L193.20 1039.76L194.45 1039.18L195.69 1038.59L196.94 1037.99L198.18 1037.38L199.43 1036.75L200.67 1036.10L201.92 1035.44L203.16 1034.76L204.41 1034.07L205.65 1033.36L206.90 1032.64L208.14 1031.90L209.39 1031.14L210.63 1030.36L211.88 1029.56L213.12 1028.75L214.36 1027.92L215.61 1027.06L216.85 1026.19L218.10 1025.30L219.34 1024.39L220.59 1023.46L221.83 1022.50L223.08 1021.53L224.32 1020.53L225.57 1019.51L226.81 1018.47L228.06 1017.40L229.30 1016.31L230.55 1015.20L231.79 1014.06L233.03 1012.90L234.28 1011.71L235.52 1010.50L236.77 1009.26L238.01 1007.99L239.26 1006.70L240.50 1005.38L241.75 1004.03L242.99 1002.65L244.24 1001.24L245.48 999.80L246.73 998.34L247.97 996.84L249.22 995.32L250.46 993.76L251.71 992.17L252.95 990.55L254.19 988.89L255.44 987.21L256.68 985.49L257.93 983.73L259.17 981.95L260.42 980.12L261.66 978.27L262.91 976.38L264.15 974.45L265.40 972.49L266.64 970.49L267.89 968.45L269.13 966.38L270.38 964.27L271.62 962.13L272.86 959.95L274.11 957.73L275.35 955.47L276.60 953.17L277.84 950.84L279.09 948.47L280.33 946.06L281.58 943.61L282.82 941.12L284.07 938.60L285.31 936.03L286.56 933.43L287.80 930.79L289.05 928.11L290.29 925.40L291.54 922.64L292.78 919.85L294.02 917.03L295.27 914.16L296.51 911.26L297.76 908.33L299.00 905.36L300.25 902.35L301.49 899.31L302.74 896.24L303.98 893.14L305.23 890.00L306.47 886.83L307.72 883.64L308.96 880.41L310.21 877.15L311.45 873.87L312.69 870.56L313.94 867.23L315.18 863.88L316.43 860.50L317.67 857.10L318.92 853.68L320.16 850.25L321.41 846.80L322.65 843.34L323.90 839.86L325.14 836.37L326.39 832.88L327.63 829.37L328.88 825.87L330.12 822.36L331.37 818.85L332.61 815.34L333.85 811.84L335.10 808.34L336.34 804.85L337.59 801.37L338.83 797.91L340.08 794.47L341.32 791.04L342.57 787.63L343.81 784.25L345.06 780.90L346.30 777.58L347.55 774.29L348.79 771.03L350.04 767.82L351.28 764.64L352.53 761.51L353.77 758.43L355.01 755.40L356.26 752.42L357.50 749.50L358.75 746.63L359.99 743.83L361.24 741.09L362.48 738.42L363.73 735.82L364.97 733.30L366.22 730.85L367.46 728.48L368.71 726.19L369.95 723.98L371.20 721.86L372.44 719.83L373.68 717.89L374.93 716.04L376.17 714.29L377.42 712.64L378.66 711.08L379.91 709.63L381.15 708.28L382.40 707.03L383.64 705.89L384.89 704.86L386.13 703.94L387.38 703.12L388.62 702.42L389.87 701.83L391.11 701.35L392.36 700.99L393.60 700.74L394.84 700.60L396.09 700.58L397.33 700.66L398.58 700.86L399.82 701.17L401.07 701.59L402.31 702.12L403.56 702.75L404.80 703.50L406.05 704.35L407.29 705.31L408.54 706.38L409.78 707.54L411.03 708.82L412.27 710.19L413.51 711.67L414.76 713.25L416.00 714.92L417.25 716.69L418.49 718.55L419.74 720.51L420.98 722.56L422.23 724.70L423.47 726.92L424.72 729.23L425.96 731.63L427.21 734.10L428.45 736.65L429.70 739.28L430.94 741.98L432.19 744.75L433.43 747.59L434.67 750.50L435.92 753.47L437.16 756.50L438.41 759.60L439.65 762.74L440.90 765.94L442.14 769.19L443.39 772.49L444.63 775.84L445.88 779.22L447.12 782.65L448.37 786.12L449.61 789.61L450.86 793.14L452.10 796.70L453.34 800.29L454.59 803.90L455.83 807.53L457.08 811.18L458.32 814.85L459.57 818.53L460.81 822.22L462.06 825.92L463.30 829.63L464.55 833.34L465.79 837.05L467.04 840.76L468.28 844.47L469.53 848.17L470.77 851.87L472.02 855.56L473.26 859.23L474.50 862.90L475.75 866.55L476.99 870.18L478.24 873.79L479.48 877.38L480.73 880.95L481.97 884.50L483.22 888.02L484.46 891.51L485.71 894.98L486.95 898.42L488.20 901.82L489.44 905.19L490.69 908.54L491.93 911.84L493.17 915.11L494.42 918.35L495.66 921.54L496.91 924.70L498.15 927.82L499.40 930.90L500.64 933.94L501.89 936.94L503.13 939.89L504.38 942.81L505.62 945.68L506.87 948.51L508.11 951.29L509.36 954.03L510.60 956.73L511.85 959.38L513.09 961.99L514.33 964.56L515.58 967.07L516.82 969.55L518.07 971.98L519.31 974.36L520.56 976.70L521.80 979.00L523.05 981.25L524.29 983.45L525.54 985.61L526.78 987.73L528.03 989.81L529.27 991.84L530.52 993.82L531.76 995.77L533.01 997.67L534.25 999.53L535.49 1001.35L536.74 1003.13L537.98 1004.87L539.23 1006.57L540.47 1008.22L541.72 1009.84L542.96 1011.42L544.21 1012.96L545.45 1014.47L546.70 1015.93L547.94 1017.36L549.19 1018.76L550.43 1020.12L551.68 1021.44L552.92 1022.73L554.16 1023.99L555.41 1025.21L556.65 1026.40L557.90 1027.56L559.14 1028.68L560.39 1029.78L561.63 1030.85L562.88 1031.88L564.12 1032.89L565.37 1033.87L566.61 1034.82L567.86 1035.74L569.10 1036.64L570.35 1037.51L571.59 1038.36L572.84 1039.18L574.08 1039.98L575.32 1040.75L576.57 1041.50L577.81 1042.23L579.06 1042.93L580.30 1043.62L581.55 1044.28L582.79 1044.92L584.04 1045.55L585.28 1046.15L586.53 1046.73L587.77 1047.30L589.02 1047.85L590.26 1048.38L591.51 1048.89L592.75 1049.39L593.99 1049.87L595.24 1050.33L596.48 1050.78L597.73 1051.22L598.97 1051.64L600.22 1052.04L601.46 1052.44L602.71 1052.82L603.95 1053.18L605.20 1053.54L606.44 1053.88L607.69 1054.21L608.93 1054.53L610.18 1054.84L611.42 1055.14L612.67 1055.42L613.91 1055.70L615.15 1055.97L616.40 1056.23L617.64 1056.48L618.89 1056.72L620.13 1056.95L621.38 1057.17L622.62 1057.39L623.87 1057.60L625.11 1057.80L626.36 1057.99L627.60 1058.18L628.85 1058.36L630.09 1058.53L631.34 1058.70L632.58 1058.86L633.82 1059.01L635.07 1059.16L636.31 1059.30L637.56 1059.44L638.80 1059.57L640.05 1059.70L641.29 1059.82L642.54 1059.94L643.78 1060.06L645.03 1060.17L646.27 1060.27L647.52 1060.37L648.76 1060.47L650.01 1060.57L651.25 1060.66L652.50 1060.74L653.74 1060.83L654.98 1060.91L656.23 1060.98L657.47 1061.06L658.72 1061.13L659.96 1061.20L661.21 1061.26L662.45 1061.33L663.70 1061.13L664.94 1060.72L666.19 1060.30L667.43 1059.89L668.68 1059.47L669.92 1059.40L671.17 1059.45L672.41 1059.50L673.65 1059.54L674.90 1059.58L676.14 1059.62L677.39 1059.66L678.63 1059.70L679.88 1059.73L681.12 1059.77L682.37 1059.80L683.61 1059.83L684.86 1059.86L686.10 1059.89L687.35 1059.92L688.59 1059.95L689.84 1059.97L691.08 1060.00L692.33 1060.02L693.57 1060.05L694.81 1060.07L696.06 1060.09L697.30 1060.11L698.55 1060.13L699.79 1060.15L701.04 1060.16L702.28 1060.18L703.53 1060.20L704.77 1060.21L706.02 1060.61L707.26 1061.09L708.51 1061.57L709.75 1062.06L711.00 1062.54L712.24 1062.55L713.48 1062.56L714.73 1062.57L715.97 1062.58L717.22 1062.59L718.46 1062.60L719.71 1062.61L720.95 1062.62L722.20 1062.63L723.44 1062.64L724.69 1062.65L725.93 1062.65L727.18 1062.66L728.42 1062.67L729.67 1062.67L730.91 1062.68L732.16 1062.69L733.40 1062.69" stroke="#FF0000" stroke-width="6.0" fill="none" stroke-linejoin="round"/>
<path d="M112.30 1057.83L113.54 1057.70L114.79 1057.57L116.03 1057.44L117.28 1057.31L118.52 1057.17L119.77 1057.03L121.01 1056.89L122.26 1056.74L123.50 1056.58L124.75 1056.43L125.99 1056.27L127.24 1056.11L128.48 1055.94L129.73 1055.77L130.97 1055.59L132.22 1055.41L133.46 1055.23L134.70 1055.04L135.95 1054.84L137.19 1054.64L138.44 1054.44L139.68 1054.23L140.93 1054.02L142.17 1053.80L143.42 1053.57L144.66 1053.34L145.91 1053.11L147.15 1052.87L148.40 1052.62L149.64 1052.37L150.89 1052.11L152.13 1051.84L153.37 1051.57L154.62 1051.29L155.86 1051.01L157.11 1050.71L158.35 1050.41L159.60 1050.11L160.84 1049.79L162.09 1049.47L163.33 1049.14L164.58 1048.80L165.82 1048.46L167.07 1048.10L168.31 1047.74L169.56 1047.37L170.80 1046.99L172.05 1046.60L173.29 1046.20L174.53 1045.79L175.78 1045.38L177.02 1044.95L178.27 1044.51L179.51 1044.06L180.76 1043.60L182.00 1043.13L183.25 1042.65L184.49 1042.16L185.74 1041.65L186.98 1041.14L188.23 1040.61L189.47 1040.07L190.72 1039.52L191.96 1038.95L193.20 1038.37L194.45 1037.78L195.69 1037.17L196.94 1036.55L198.18 1035.91L199.43 1035.26L200.67 1034.60L201.92 1033.92L203.16 1033.22L204.41 1032.51L205.65 1031.78L206.90 1031.04L208.14 1030.28L209.39 1029.50L210.63 1028.70L211.88 1027.89L213.12 1027.05L214.36 1026.20L215.61 1025.33L216.85 1024.44L218.10 1023.53L219.34 1022.60L220.59 1021.65L221.83 1020.68L223.08 1019.69L224.32 1018.67L225.57 1017.64L226.81 1016.58L228.06 1015.50L229.30 1014.39L230.55 1013.27L231.79 1012.11L233.03 1010.94L234.28 1009.74L235.52 1008.51L236.77 1007.26L238.01 1005.98L239.26 1004.67L240.50 1003.34L241.75 1001.98L242.99 1000.60L244.24 999.18L245.48 997.74L246.73 996.27L247.97 994.76L249.22 993.23L250.46 991.67L251.71 990.08L252.95 988.46L254.19 986.80L255.44 985.12L256.68 983.40L257.93 981.65L259.17 979.87L260.42 978.06L261.66 976.21L262.91 974.33L264.15 972.41L265.40 970.46L266.64 968.48L267.89 966.46L269.13 964.41L270.38 962.32L271.62 960.20L272.86 958.04L274.11 955.85L275.35 953.62L276.60 951.35L277.84 949.05L279.09 946.71L280.33 944.34L281.58 941.93L282.82 939.49L284.07 937.00L285.31 934.49L286.56 931.94L287.80 929.35L289.05 926.72L290.29 924.07L291.54 921.37L292.78 918.64L294.02 915.88L295.27 913.09L296.51 910.26L297.76 907.40L299.00 904.50L300.25 901.58L301.49 898.62L302.74 895.63L303.98 892.61L305.23 889.57L306.47 886.49L307.72 883.39L308.96 880.27L310.21 877.11L311.45 873.94L312.69 870.74L313.94 867.52L315.18 864.27L316.43 861.01L317.67 857.73L318.92 854.44L320.16 851.13L321.41 847.80L322.65 844.47L323.90 841.12L325.14 837.77L326.39 834.41L327.63 831.04L328.88 827.67L330.12 824.31L331.37 820.94L332.61 817.57L333.85 814.21L335.10 810.86L336.34 807.52L337.59 804.19L338.83 800.88L340.08 797.58L341.32 794.30L342.57 791.05L343.81 787.81L345.06 784.61L346.30 781.43L347.55 778.29L348.79 775.18L350.04 772.11L351.28 769.08L352.53 766.09L353.77 763.15L355.01 760.26L356.26 757.41L357.50 754.62L358.75 751.89L359.99 749.21L361.24 746.60L362.48 744.05L363.73 741.56L364.97 739.15L366.22 736.81L367.46 734.54L368.71 732.34L369.95 730.23L371.20 728.20L372.44 726.25L373.68 724.39L374.93 722.61L376.17 720.92L377.42 719.33L378.66 717.83L379.91 716.42L381.15 715.11L382.40 713.89L383.64 712.78L384.89 711.77L386.13 710.86L387.38 710.05L388.62 709.35L389.87 708.75L391.11 708.25L392.36 707.87L393.60 707.58L394.84 707.41L396.09 707.34L397.33 707.38L398.58 707.52L399.82 707.77L401.07 708.12L402.31 708.57L403.56 709.13L404.80 709.78L406.05 710.54L407.29 711.40L408.54 712.36L409.78 713.42L411.03 714.57L412.27 715.82L413.51 717.17L414.76 718.61L416.00 720.15L417.25 721.78L418.49 723.49L419.74 725.30L420.98 727.19L422.23 729.17L423.47 731.23L424.72 733.37L425.96 735.59L427.21 737.89L428.45 740.27L429.70 742.72L430.94 745.24L432.19 747.83L433.43 750.49L434.67 753.21L435.92 755.99L437.16 758.84L438.41 761.74L439.65 764.69L440.90 767.71L442.14 770.77L443.39 773.87L444.63 777.03L445.88 780.23L447.12 783.47L448.37 786.74L449.61 790.06L450.86 793.40L452.10 796.78L453.34 800.18L454.59 803.62L455.83 807.07L457.08 810.55L458.32 814.04L459.57 817.55L460.81 821.08L462.06 824.61L463.30 828.16L464.55 831.72L465.79 835.28L467.04 838.84L468.28 842.40L469.53 845.96L470.77 849.52L472.02 853.08L473.26 856.62L474.50 860.16L475.75 863.69L476.99 867.20L478.24 870.70L479.48 874.18L480.73 877.65L481.97 881.09L483.22 884.52L484.46 887.92L485.71 891.30L486.95 894.66L488.20 897.98L489.44 901.28L490.69 904.55L491.93 907.79L493.17 911.00L494.42 914.18L495.66 917.33L496.91 920.44L498.15 923.51L499.40 926.55L500.64 929.56L501.89 932.52L503.13 935.45L504.38 938.34L505.62 941.19L506.87 944.01L508.11 946.78L509.36 949.51L510.60 952.20L511.85 954.85L513.09 957.46L514.33 960.02L515.58 962.55L516.82 965.03L518.07 967.47L519.31 969.87L520.56 972.23L521.80 974.55L523.05 976.82L524.29 979.05L525.54 981.24L526.78 983.39L528.03 985.49L529.27 987.56L530.52 989.58L531.76 991.56L533.01 993.50L534.25 995.41L535.49 997.27L536.74 999.09L537.98 1000.87L539.23 1002.61L540.47 1004.32L541.72 1005.99L542.96 1007.61L544.21 1009.21L545.45 1010.76L546.70 1012.28L547.94 1013.76L549.19 1015.21L550.43 1016.62L551.68 1018.00L552.92 1019.34L554.16 1020.65L555.41 1021.93L556.65 1023.18L557.90 1024.39L559.14 1025.57L560.39 1026.72L561.63 1027.84L562.88 1028.94L564.12 1030.00L565.37 1031.03L566.61 1032.04L567.86 1033.02L569.10 1033.97L570.35 1034.90L571.59 1035.80L572.84 1036.67L574.08 1037.52L575.32 1038.35L576.57 1039.15L577.81 1039.93L579.06 1040.68L580.30 1041.42L581.55 1042.13L582.79 1042.82L584.04 1043.49L585.28 1044.14L586.53 1044.78L587.77 1045.39L589.02 1045.98L590.26 1046.56L591.51 1047.12L592.75 1047.66L593.99 1048.18L595.24 1048.69L596.48 1049.18L597.73 1049.65L598.97 1050.12L600.22 1050.56L601.46 1050.99L602.71 1051.41L603.95 1051.82L605.20 1052.21L606.44 1052.59L607.69 1052.95L608.93 1053.31L610.18 1053.65L611.42 1053.98L612.67 1054.30L613.91 1054.61L615.15 1054.91L616.40 1055.20L617.64 1055.47L618.89 1055.74L620.13 1056.00L621.38 1056.26L622.62 1056.50L623.87 1056.73L625.11 1056.96L626.36 1057.18L627.60 1057.39L628.85 1057.59L630.09 1057.79L631.34 1057.98L632.58 1058.16L633.82 1058.33L635.07 1058.50L636.31 1058.67L637.56 1058.83L638.80 1058.98L640.05 1059.13L641.29 1059.27L642.54 1059.40L643.78 1059.53L645.03 1059.66L646.27 1059.78L647.52 1059.90L648.76 1060.01L650.01 1060.12L651.25 1060.23L652.50 1060.33L653.74 1060.42L654.98 1060.52L656.23 1060.61L657.47 1060.70L658.72 1060.78L659.96 1060.86L661.21 1060.94L662.45 1061.01L663.70 1061.08L664.94 1061.15L666.19 1061.22L667.43 1061.28L668.68 1061.34L669.92 1061.40L671.17 1061.46L672.41 1061.51L673.65 1061.57L674.90 1061.62L676.14 1061.66L677.39 1061.71L678.63 1061.76L679.88 1061.80L681.12 1061.84L682.37 1061.88L683.61 1061.92L684.86 1061.95L686.10 1061.99L687.35 1062.02L688.59 1062.06L689.84 1062.09L691.08 1062.12L692.33 1062.15L693.57 1062.17L694.81 1062.20L696.06 1062.22L697.30 1062.25L698.55 1062.27L699.79 1062.30L701.04 1062.32L702.28 1062.34L703.53 1062.36L704.77 1062.38L706.02 1062.40L707.26 1062.41L708.51 1062.43L709.75 1062.45L711.00 1062.46L712.24 1062.48L713.48 1062.49L714.73 1062.50L715.97 1062.52L717.22 1062.53L718.46 1062.54L719.71 1062.55L720.95 1062.57L722.20 1062.58L723.44 1062.59L724.69 1062.60L725.93 1062.61L727.18 1062.61L728.42 1062.62L729.67 1062.63L730.91 1062.64L732.16 1062.65L733.40 1062.65" stroke="#3040FF" stroke-width="6.0" fill="none" stroke-linejoin="round"/>
<path d="M112.30 1058.41L113.54 1058.30L114.79 1058.19L116.03 1058.07L117.28 1057.95L118.52 1057.82L119.77 1057.69L121.01 1057.56L122.26 1057.43L123.50 1057.29L124.75 1057.15L125.99 1057.01L127.24 1056.86L128.48 1056.71L129.73 1056.55L130.97 1056.39L132.22 1056.23L133.46 1056.06L134.70 1055.89L135.95 1055.72L137.19 1055.53L138.44 1055.35L139.68 1055.16L140.93 1054.97L142.17 1054.77L143.42 1054.56L144.66 1054.35L145.91 1054.14L147.15 1053.92L148.40 1053.69L149.64 1053.46L150.89 1053.23L152.13 1052.98L153.37 1052.73L154.62 1052.48L155.86 1052.22L157.11 1051.95L158.35 1051.68L159.60 1051.40L160.84 1051.11L162.09 1050.81L163.33 1050.51L164.58 1050.20L165.82 1049.88L167.07 1049.56L168.31 1049.22L169.56 1048.88L170.80 1048.53L172.05 1048.17L173.29 1047.81L174.53 1047.43L175.78 1047.04L177.02 1046.65L178.27 1046.25L179.51 1045.83L180.76 1045.41L182.00 1044.97L183.25 1044.53L184.49 1044.07L185.74 1043.60L186.98 1043.12L188.23 1042.63L189.47 1042.13L190.72 1041.62L191.96 1041.09L193.20 1040.55L194.45 1040.00L195.69 1039.44L196.94 1038.86L198.18 1038.27L199.43 1037.66L200.67 1037.04L201.92 1036.41L203.16 1035.76L204.41 1035.09L205.65 1034.41L206.90 1033.72L208.14 1033.00L209.39 1032.28L210.63 1031.53L211.88 1030.77L213.12 1029.98L214.36 1029.19L215.61 1028.37L216.85 1027.53L218.10 1026.68L219.34 1025.80L220.59 1024.91L221.83 1023.99L223.08 1023.06L224.32 1022.10L225.57 1021.12L226.81 1020.12L228.06 1019.10L229.30 1018.06L230.55 1016.99L231.79 1015.90L233.03 1014.79L234.28 1013.65L235.52 1012.49L236.77 1011.30L238.01 1010.08L239.26 1008.84L240.50 1007.58L241.75 1006.29L242.99 1004.97L244.24 1003.62L245.48 1002.24L246.73 1000.84L247.97 999.41L249.22 997.94L250.46 996.45L251.71 994.93L252.95 993.38L254.19 991.79L255.44 990.18L256.68 988.53L257.93 986.86L259.17 985.14L260.42 983.40L261.66 981.62L262.91 979.81L264.15 977.97L265.40 976.09L266.64 974.18L267.89 972.23L269.13 970.25L270.38 968.23L271.62 966.18L272.86 964.09L274.11 961.97L275.35 959.81L276.60 957.61L277.84 955.38L279.09 953.11L280.33 950.80L281.58 948.46L282.82 946.08L284.07 943.67L285.31 941.21L286.56 938.72L287.80 936.20L289.05 933.63L290.29 931.04L291.54 928.40L292.78 925.73L294.02 923.03L295.27 920.28L296.51 917.51L297.76 914.70L299.00 911.85L300.25 908.98L301.49 906.07L302.74 903.12L303.98 900.15L305.23 897.15L306.47 894.11L307.72 891.05L308.96 887.96L310.21 884.84L311.45 881.69L312.69 878.52L313.94 875.32L315.18 872.11L316.43 868.87L317.67 865.61L318.92 862.33L320.16 859.03L321.41 855.72L322.65 852.39L323.90 849.06L325.14 845.71L326.39 842.35L327.63 838.98L328.88 835.61L330.12 832.23L331.37 828.85L332.61 825.48L333.85 822.11L335.10 818.74L336.34 815.38L337.59 812.02L338.83 808.69L340.08 805.36L341.32 802.05L342.57 798.76L343.81 795.50L345.06 792.26L346.30 789.04L347.55 785.86L348.79 782.71L350.04 779.59L351.28 776.51L352.53 773.47L353.77 770.48L355.01 767.53L356.26 764.64L357.50 761.79L358.75 759.00L359.99 756.27L361.24 753.59L362.48 750.98L363.73 748.44L364.97 745.96L366.22 743.56L367.46 741.23L368.71 738.97L369.95 736.79L371.20 734.70L372.44 732.69L373.68 730.76L374.93 728.92L376.17 727.17L377.42 725.52L378.66 723.95L379.91 722.49L381.15 721.12L382.40 719.85L383.64 718.68L384.89 717.61L386.13 716.65L387.38 715.79L388.62 715.03L389.87 714.39L391.11 713.85L392.36 713.41L393.60 713.09L394.84 712.88L396.09 712.77L397.33 712.77L398.58 712.88L399.82 713.10L401.07 713.42L402.31 713.85L403.56 714.38L404.80 715.01L406.05 715.75L407.29 716.59L408.54 717.53L409.78 718.58L411.03 719.72L412.27 720.96L413.51 722.31L414.76 723.74L416.00 725.28L417.25 726.90L418.49 728.62L419.74 730.43L420.98 732.33L422.23 734.31L423.47 736.38L424.72 738.53L425.96 740.76L427.21 743.08L428.45 745.47L429.70 747.93L430.94 750.47L432.19 753.07L433.43 755.75L434.67 758.49L435.92 761.29L437.16 764.16L438.41 767.08L439.65 770.06L440.90 773.09L442.14 776.17L443.39 779.31L444.63 782.48L445.88 785.70L447.12 788.96L448.37 792.26L449.61 795.60L450.86 798.97L452.10 802.36L453.34 805.79L454.59 809.24L455.83 812.71L457.08 816.21L458.32 819.72L459.57 823.25L460.81 826.79L462.06 830.34L463.30 833.90L464.55 837.47L465.79 841.04L467.04 844.61L468.28 848.18L469.53 851.75L470.77 855.31L472.02 858.87L473.26 862.42L474.50 865.95L475.75 869.48L476.99 872.99L478.24 876.48L479.48 879.96L480.73 883.42L481.97 886.85L483.22 890.27L484.46 893.66L485.71 897.02L486.95 900.36L488.20 903.67L489.44 906.94L490.69 910.19L491.93 913.41L493.17 916.59L494.42 919.74L495.66 922.86L496.91 925.94L498.15 928.98L499.40 931.99L500.64 934.96L501.89 937.89L503.13 940.78L504.38 943.63L505.62 946.44L506.87 949.20L508.11 951.93L509.36 954.62L510.60 957.26L511.85 959.86L513.09 962.42L514.33 964.94L515.58 967.41L516.82 969.85L518.07 972.23L519.31 974.58L520.56 976.88L521.80 979.14L523.05 981.36L524.29 983.53L525.54 985.66L526.78 987.75L528.03 989.80L529.27 991.80L530.52 993.77L531.76 995.69L533.01 997.57L534.25 999.41L535.49 1001.21L536.74 1002.97L537.98 1004.69L539.23 1006.38L540.47 1008.02L541.72 1009.63L542.96 1011.19L544.21 1012.72L545.45 1014.22L546.70 1015.67L547.94 1017.10L549.19 1018.48L550.43 1019.83L551.68 1021.15L552.92 1022.43L554.16 1023.69L555.41 1024.90L556.65 1026.09L557.90 1027.25L559.14 1028.37L560.39 1029.46L561.63 1030.53L562.88 1031.56L564.12 1032.57L565.37 1033.55L566.61 1034.50L567.86 1035.43L569.10 1036.33L570.35 1037.20L571.59 1038.05L572.84 1038.87L574.08 1039.67L575.32 1040.45L576.57 1041.20L577.81 1041.93L579.06 1042.64L580.30 1043.33L581.55 1043.99L582.79 1044.64L584.04 1045.26L585.28 1045.87L586.53 1046.46L587.77 1047.03L589.02 1047.58L590.26 1048.12L591.51 1048.63L592.75 1049.14L593.99 1049.62L595.24 1050.09L596.48 1050.54L597.73 1050.98L598.97 1051.41L600.22 1051.82L601.46 1052.22L602.71 1052.60L603.95 1052.97L605.20 1053.33L606.44 1053.68L607.69 1054.01L608.93 1054.34L610.18 1054.65L611.42 1054.95L612.67 1055.25L613.91 1055.53L615.15 1055.80L616.40 1056.06L617.64 1056.32L618.89 1056.56L620.13 1056.80L621.38 1057.02L622.62 1057.24L623.87 1057.45L625.11 1057.66L626.36 1057.86L627.60 1058.05L628.85 1058.23L630.09 1058.41L631.34 1058.58L632.58 1058.74L633.82 1058.90L635.07 1059.05L636.31 1059.20L637.56 1059.34L638.80 1059.47L640.05 1059.60L641.29 1059.73L642.54 1059.85L643.78 1059.97L645.03 1060.08L646.27 1060.19L647.52 1060.29L648.76 1060.39L650.01 1060.49L651.25 1060.58L652.50 1060.67L653.74 1060.76L654.98 1060.84L656.23 1060.92L657.47 1061.00L658.72 1061.07L659.96 1061.14L661.21 1061.21L662.45 1061.27L663.70 1061.33L664.94 1061.40L666.19 1061.45L667.43 1061.51L668.68 1061.56L669.92 1061.61L671.17 1061.66L672.41 1061.71L673.65 1061.76L674.90 1061.80L676.14 1061.84L677.39 1061.88L678.63 1061.92L679.88 1061.96L681.12 1061.99L682.37 1062.03L683.61 1062.06L684.86 1062.09L686.10 1062.12L687.35 1062.15L688.59 1062.18L689.84 1062.21L691.08 1062.23L692.33 1062.26L693.57 1062.28L694.81 1062.30L696.06 1062.32L697.30 1062.34L698.55 1062.36L699.79 1062.38L701.04 1062.40L702.28 1062.42L703.53 1062.44L704.77 1062.45L706.02 1062.47L707.26 1062.48L708.51 1062.50L709.75 1062.51L711.00 1062.52L712.24 1062.54L713.48 1062.55L714.73 1062.56L715.97 1062.57L717.22 1062.58L718.46 1062.59L719.71 1062.60L720.95 1062.61L722.20 1062.62L723.44 1062.63L724.69 1062.64L725.93 1062.65L727.18 1062.65L728.42 1062.66L729.67 1062.67L730.91 1062.67L732.16 1062.68L733.40 1062.69" stroke="#20A080" stroke-width="6.0" fill="none" stroke-linejoin="round"/>
<path d="M112.30 1058.36L113.54 1058.25L114.79 1058.14L116.03 1058.02L117.28 1057.90L118.52 1057.78L119.77 1057.65L121.01 1057.52L122.26 1057.39L123.50 1057.25L124.75 1057.11L125.99 1056.96L127.24 1056.82L128.48 1056.67L129.73 1056.51L130.97 1056.35L132.22 1056.19L133.46 1056.03L134.70 1055.86L135.95 1055.68L137.19 1055.50L138.44 1055.32L139.68 1055.13L140.93 1054.94L142.17 1054.74L143.42 1054.54L144.66 1054.33L145.91 1054.12L147.15 1053.90L148.40 1053.68L149.64 1053.45L150.89 1053.22L152.13 1052.98L153.37 1052.73L154.62 1052.48L155.86 1052.22L157.11 1051.96L158.35 1051.69L159.60 1051.41L160.84 1051.13L162.09 1050.83L163.33 1050.54L164.58 1050.23L165.82 1049.92L167.07 1049.60L168.31 1049.27L169.56 1048.93L170.80 1048.59L172.05 1048.24L173.29 1047.88L174.53 1047.51L175.78 1047.13L177.02 1046.74L178.27 1046.34L179.51 1045.94L180.76 1045.52L182.00 1045.09L183.25 1044.66L184.49 1044.21L185.74 1043.75L186.98 1043.28L188.23 1042.80L189.47 1042.31L190.72 1041.81L191.96 1041.29L193.20 1040.77L194.45 1040.23L195.69 1039.68L196.94 1039.11L198.18 1038.53L199.43 1037.94L200.67 1037.34L201.92 1036.72L203.16 1036.08L204.41 1035.43L205.65 1034.77L206.90 1034.09L208.14 1033.40L209.39 1032.69L210.63 1031.96L211.88 1031.22L213.12 1030.46L214.36 1029.68L215.61 1028.88L216.85 1028.07L218.10 1027.24L219.34 1026.39L220.59 1025.52L221.83 1024.63L223.08 1023.72L224.32 1022.79L225.57 1021.85L226.81 1020.88L228.06 1019.88L229.30 1018.87L230.55 1017.84L231.79 1016.78L233.03 1015.70L234.28 1014.60L235.52 1013.47L236.77 1012.32L238.01 1011.14L239.26 1009.94L240.50 1008.72L241.75 1007.47L242.99 1006.19L244.24 1004.89L245.48 1003.56L246.73 1002.20L247.97 1000.81L249.22 999.40L250.46 997.96L251.71 996.49L252.95 994.99L254.19 993.46L255.44 991.90L256.68 990.32L257.93 988.70L259.17 987.05L260.42 985.36L261.66 983.65L262.91 981.91L264.15 980.13L265.40 978.32L266.64 976.47L267.89 974.60L269.13 972.69L270.38 970.74L271.62 968.77L272.86 966.75L274.11 964.71L275.35 962.63L276.60 960.51L277.84 958.36L279.09 956.18L280.33 953.96L281.58 951.70L282.82 949.41L284.07 947.08L285.31 944.72L286.56 942.33L287.80 939.90L289.05 937.43L290.29 934.93L291.54 932.39L292.78 929.82L294.02 927.22L295.27 924.58L296.51 921.90L297.76 919.20L299.00 916.46L300.25 913.69L301.49 910.89L302.74 908.05L303.98 905.19L305.23 902.29L306.47 899.36L307.72 896.41L308.96 893.43L310.21 890.42L311.45 887.39L312.69 884.33L313.94 881.24L315.18 878.13L316.43 875.00L317.67 871.85L318.92 868.68L320.16 865.50L321.41 862.29L322.65 859.07L323.90 855.84L325.14 852.59L326.39 849.34L327.63 846.07L328.88 842.80L330.12 839.52L331.37 836.24L332.61 832.95L333.85 829.67L335.10 826.39L336.34 823.11L337.59 819.85L338.83 816.58L340.08 813.34L341.32 810.10L342.57 806.88L343.81 803.68L345.06 800.49L346.30 797.34L347.55 794.20L348.79 791.10L350.04 788.02L351.28 784.98L352.53 781.98L353.77 779.01L355.01 776.08L356.26 773.20L357.50 770.36L358.75 767.57L359.99 764.84L361.24 762.16L362.48 759.53L363.73 756.97L364.97 754.46L366.22 752.02L367.46 749.65L368.71 747.35L369.95 745.12L371.20 742.96L372.44 740.88L373.68 738.88L374.93 736.96L376.17 735.12L377.42 733.37L378.66 731.71L379.91 730.13L381.15 728.65L382.40 727.26L383.64 725.96L384.89 724.76L386.13 723.65L387.38 722.65L388.62 721.74L389.87 720.94L391.11 720.23L392.36 719.63L393.60 719.13L394.84 718.74L396.09 718.45L397.33 718.26L398.58 718.18L399.82 718.20L401.07 718.33L402.31 718.55L403.56 718.88L404.80 719.31L406.05 719.84L407.29 720.47L408.54 721.20L409.78 722.02L411.03 722.95L412.27 723.97L413.51 725.09L414.76 726.30L416.00 727.61L417.25 729.01L418.49 730.50L419.74 732.08L420.98 733.75L422.23 735.50L423.47 737.35L424.72 739.27L425.96 741.28L427.21 743.36L428.45 745.53L429.70 747.77L430.94 750.08L432.19 752.47L433.43 754.92L434.67 757.45L435.92 760.04L437.16 762.69L438.41 765.41L439.65 768.18L440.90 771.01L442.14 773.89L443.39 776.83L444.63 779.82L445.88 782.85L447.12 785.93L448.37 789.04L449.61 792.20L450.86 795.40L452.10 798.63L453.34 801.90L454.59 805.19L455.83 808.51L457.08 811.86L458.32 815.23L459.57 818.62L460.81 822.02L462.06 825.45L463.30 828.89L464.55 832.33L465.79 835.79L467.04 839.26L468.28 842.73L469.53 846.20L470.77 849.67L472.02 853.14L473.26 856.61L474.50 860.07L475.75 863.53L476.99 866.97L478.24 870.41L479.48 873.83L480.73 877.24L481.97 880.63L483.22 884.00L484.46 887.36L485.71 890.69L486.95 894.00L488.20 897.29L489.44 900.55L490.69 903.79L491.93 907.00L493.17 910.18L494.42 913.33L495.66 916.45L496.91 919.54L498.15 922.60L499.40 925.62L500.64 928.61L501.89 931.56L503.13 934.48L504.38 937.36L505.62 940.20L506.87 943.00L508.11 945.77L509.36 948.50L510.60 951.19L511.85 953.84L513.09 956.45L514.33 959.01L515.58 961.54L516.82 964.03L518.07 966.48L519.31 968.88L520.56 971.25L521.80 973.57L523.05 975.85L524.29 978.09L525.54 980.29L526.78 982.45L528.03 984.57L529.27 986.64L530.52 988.68L531.76 990.67L533.01 992.63L534.25 994.54L535.49 996.42L536.74 998.26L537.98 1000.05L539.23 1001.81L540.47 1003.53L541.72 1005.21L542.96 1006.86L544.21 1008.46L545.45 1010.03L546.70 1011.57L547.94 1013.07L549.19 1014.53L550.43 1015.96L551.68 1017.35L552.92 1018.71L554.16 1020.04L555.41 1021.33L556.65 1022.59L557.90 1023.82L559.14 1025.01L560.39 1026.18L561.63 1027.32L562.88 1028.42L564.12 1029.50L565.37 1030.55L566.61 1031.57L567.86 1032.56L569.10 1033.53L570.35 1034.46L571.59 1035.38L572.84 1036.26L574.08 1037.13L575.32 1037.97L576.57 1038.78L577.81 1039.57L579.06 1040.34L580.30 1041.08L581.55 1041.81L582.79 1042.51L584.04 1043.19L585.28 1043.85L586.53 1044.49L587.77 1045.12L589.02 1045.72L590.26 1046.30L591.51 1046.87L592.75 1047.42L593.99 1047.95L595.24 1048.47L596.48 1048.97L597.73 1049.45L598.97 1049.92L600.22 1050.37L601.46 1050.81L602.71 1051.24L603.95 1051.65L605.20 1052.05L606.44 1052.43L607.69 1052.80L608.93 1053.16L610.18 1053.51L611.42 1053.85L612.67 1054.17L613.91 1054.49L615.15 1054.79L616.40 1055.08L617.64 1055.37L618.89 1055.64L620.13 1055.91L621.38 1056.16L622.62 1056.41L623.87 1056.65L625.11 1056.88L626.36 1057.10L627.60 1057.31L628.85 1057.52L630.09 1057.72L631.34 1057.91L632.58 1058.10L633.82 1058.27L635.07 1058.45L636.31 1058.61L637.56 1058.77L638.80 1058.93L640.05 1059.08L641.29 1059.22L642.54 1059.36L643.78 1059.49L645.03 1059.62L646.27 1059.74L647.52 1059.86L648.76 1059.98L650.01 1060.09L651.25 1060.20L652.50 1060.30L653.74 1060.40L654.98 1060.49L656.23 1060.58L657.47 1060.67L658.72 1060.76L659.96 1060.84L661.21 1060.92L662.45 1060.99L663.70 1061.06L664.94 1061.13L666.19 1061.20L667.43 1061.27L668.68 1061.33L669.92 1061.39L671.17 1061.45L672.41 1061.50L673.65 1061.55L674.90 1061.60L676.14 1061.65L677.39 1061.70L678.63 1061.75L679.88 1061.79L681.12 1061.83L682.37 1061.87L683.61 1061.91L684.86 1061.95L686.10 1061.98L687.35 1062.02L688.59 1062.05L689.84 1062.08L691.08 1062.11L692.33 1062.14L693.57 1062.17L694.81 1062.20L696.06 1062.22L697.30 1062.25L698.55 1062.27L699.79 1062.29L701.04 1062.31L702.28 1062.34L703.53 1062.36L704.77 1062.37L706.02 1062.39L707.26 1062.41L708.51 1062.43L709.75 1062.44L711.00 1062.46L712.24 1062.48L713.48 1062.49L714.73 1062.50L715.97 1062.52L717.22 1062.53L718.46 1062.54L719.71 1062.55L720.95 1062.56L722.20 1062.58L723.44 1062.59L724.69 1062.60L725.93 1062.60L727.18 1062.61L728.42 1062.62L729.67 1062.63L730.91 1062.64L732.16 1062.65L733.40 1062.65" stroke="#C040FF" stroke-width="6.2" fill="none" stroke-linejoin="round"/>
<path d="M112.30 1058.77L113.54 1058.67L114.79 1058.56L116.03 1058.45L117.28 1058.34L118.52 1058.22L119.77 1058.10L121.01 1057.98L122.26 1057.86L123.50 1057.73L124.75 1057.60L125.99 1057.47L127.24 1057.33L128.48 1057.19L129.73 1057.05L130.97 1056.90L132.22 1056.75L133.46 1056.59L134.70 1056.43L135.95 1056.27L137.19 1056.10L138.44 1055.93L139.68 1055.76L140.93 1055.58L142.17 1055.39L143.42 1055.20L144.66 1055.01L145.91 1054.81L147.15 1054.60L148.40 1054.39L149.64 1054.18L150.89 1053.96L152.13 1053.73L153.37 1053.50L154.62 1053.27L155.86 1053.02L157.11 1052.77L158.35 1052.52L159.60 1052.26L160.84 1051.99L162.09 1051.71L163.33 1051.43L164.58 1051.14L165.82 1050.85L167.07 1050.55L168.31 1050.23L169.56 1049.92L170.80 1049.59L172.05 1049.26L173.29 1048.91L174.53 1048.56L175.78 1048.20L177.02 1047.83L178.27 1047.46L179.51 1047.07L180.76 1046.67L182.00 1046.27L183.25 1045.85L184.49 1045.43L185.74 1044.99L186.98 1044.54L188.23 1044.09L189.47 1043.62L190.72 1043.14L191.96 1042.64L193.20 1042.14L194.45 1041.62L195.69 1041.10L196.94 1040.56L198.18 1040.00L199.43 1039.43L200.67 1038.85L201.92 1038.26L203.16 1037.65L204.41 1037.03L205.65 1036.39L206.90 1035.74L208.14 1035.07L209.39 1034.38L210.63 1033.68L211.88 1032.97L213.12 1032.23L214.36 1031.48L215.61 1030.72L216.85 1029.93L218.10 1029.13L219.34 1028.31L220.59 1027.47L221.83 1026.61L223.08 1025.73L224.32 1024.83L225.57 1023.91L226.81 1022.97L228.06 1022.01L229.30 1021.02L230.55 1020.02L231.79 1018.99L233.03 1017.94L234.28 1016.87L235.52 1015.77L236.77 1014.65L238.01 1013.51L239.26 1012.34L240.50 1011.14L241.75 1009.92L242.99 1008.68L244.24 1007.40L245.48 1006.10L246.73 1004.78L247.97 1003.42L249.22 1002.04L250.46 1000.63L251.71 999.19L252.95 997.72L254.19 996.22L255.44 994.69L256.68 993.14L257.93 991.55L259.17 989.92L260.42 988.27L261.66 986.59L262.91 984.87L264.15 983.12L265.40 981.34L266.64 979.52L267.89 977.67L269.13 975.79L270.38 973.87L271.62 971.92L272.86 969.93L274.11 967.91L275.35 965.86L276.60 963.76L277.84 961.64L279.09 959.48L280.33 957.28L281.58 955.04L282.82 952.77L284.07 950.47L285.31 948.13L286.56 945.75L287.80 943.33L289.05 940.89L290.29 938.40L291.54 935.88L292.78 933.33L294.02 930.73L295.27 928.11L296.51 925.45L297.76 922.76L299.00 920.03L300.25 917.27L301.49 914.47L302.74 911.65L303.98 908.79L305.23 905.90L306.47 902.99L307.72 900.04L308.96 897.06L310.21 894.06L311.45 891.03L312.69 887.97L313.94 884.89L315.18 881.78L316.43 878.66L317.67 875.51L318.92 872.34L320.16 869.15L321.41 865.95L322.65 862.72L323.90 859.49L325.14 856.24L326.39 852.99L327.63 849.72L328.88 846.44L330.12 843.16L331.37 839.88L332.61 836.60L333.85 833.31L335.10 830.03L336.34 826.76L337.59 823.49L338.83 820.23L340.08 816.98L341.32 813.75L342.57 810.53L343.81 807.33L345.06 804.16L346.30 801.01L347.55 797.88L348.79 794.78L350.04 791.72L351.28 788.69L352.53 785.70L353.77 782.75L355.01 779.84L356.26 776.98L357.50 774.17L358.75 771.40L359.99 768.70L361.24 766.04L362.48 763.45L363.73 760.92L364.97 758.45L366.22 756.06L367.46 753.73L368.71 751.47L369.95 749.29L371.20 747.18L372.44 745.16L373.68 743.22L374.93 741.36L376.17 739.58L377.42 737.90L378.66 736.31L379.91 734.80L381.15 733.40L382.40 732.09L383.64 730.87L384.89 729.76L386.13 728.74L387.38 727.83L388.62 727.01L389.87 726.31L391.11 725.70L392.36 725.20L393.60 724.81L394.84 724.52L396.09 724.34L397.33 724.27L398.58 724.30L399.82 724.44L401.07 724.68L402.31 725.02L403.56 725.47L404.80 726.02L406.05 726.67L407.29 727.42L408.54 728.27L409.78 729.22L411.03 730.26L412.27 731.41L413.51 732.65L414.76 733.99L416.00 735.42L417.25 736.95L418.49 738.56L419.74 740.27L420.98 742.06L422.23 743.94L423.47 745.90L424.72 747.95L425.96 750.07L427.21 752.27L428.45 754.56L429.70 756.91L430.94 759.34L432.19 761.84L433.43 764.40L434.67 767.03L435.92 769.72L437.16 772.48L438.41 775.29L439.65 778.16L440.90 781.08L442.14 784.06L443.39 787.08L444.63 790.15L445.88 793.26L447.12 796.41L448.37 799.60L449.61 802.83L450.86 806.09L452.10 809.38L453.34 812.70L454.59 816.04L455.83 819.41L457.08 822.80L458.32 826.21L459.57 829.64L460.81 833.07L462.06 836.52L463.30 839.98L464.55 843.45L465.79 846.92L467.04 850.39L468.28 853.87L469.53 857.34L470.77 860.81L472.02 864.27L473.26 867.72L474.50 871.17L475.75 874.60L476.99 878.02L478.24 881.43L479.48 884.81L480.73 888.18L481.97 891.53L483.22 894.86L484.46 898.16L485.71 901.44L486.95 904.70L488.20 907.92L489.44 911.12L490.69 914.29L491.93 917.43L493.17 920.53L494.42 923.61L495.66 926.65L496.91 929.65L498.15 932.62L499.40 935.55L500.64 938.45L501.89 941.31L503.13 944.13L504.38 946.91L505.62 949.65L506.87 952.35L508.11 955.01L509.36 957.64L510.60 960.22L511.85 962.75L513.09 965.25L514.33 967.71L515.58 970.12L516.82 972.49L518.07 974.82L519.31 977.11L520.56 979.36L521.80 981.56L523.05 983.72L524.29 985.84L525.54 987.92L526.78 989.96L528.03 991.96L529.27 993.91L530.52 995.83L531.76 997.70L533.01 999.53L534.25 1001.33L535.49 1003.08L536.74 1004.80L537.98 1006.48L539.23 1008.11L540.47 1009.72L541.72 1011.28L542.96 1012.81L544.21 1014.30L545.45 1015.75L546.70 1017.17L547.94 1018.55L549.19 1019.90L550.43 1021.22L551.68 1022.50L552.92 1023.75L554.16 1024.97L555.41 1026.15L556.65 1027.31L557.90 1028.43L559.14 1029.52L560.39 1030.59L561.63 1031.62L562.88 1032.63L564.12 1033.61L565.37 1034.56L566.61 1035.48L567.86 1036.38L569.10 1037.25L570.35 1038.10L571.59 1038.92L572.84 1039.72L574.08 1040.50L575.32 1041.25L576.57 1041.98L577.81 1042.69L579.06 1043.38L580.30 1044.04L581.55 1044.69L582.79 1045.31L584.04 1045.92L585.28 1046.51L586.53 1047.08L587.77 1047.63L589.02 1048.16L590.26 1048.68L591.51 1049.18L592.75 1049.67L593.99 1050.14L595.24 1050.59L596.48 1051.03L597.73 1051.45L598.97 1051.86L600.22 1052.26L601.46 1052.64L602.71 1053.02L603.95 1053.37L605.20 1053.72L606.44 1054.06L607.69 1054.38L608.93 1054.69L610.18 1054.99L611.42 1055.29L612.67 1055.57L613.91 1055.84L615.15 1056.10L616.40 1056.35L617.64 1056.60L618.89 1056.83L620.13 1057.06L621.38 1057.28L622.62 1057.49L623.87 1057.69L625.11 1057.89L626.36 1058.08L627.60 1058.26L628.85 1058.44L630.09 1058.61L631.34 1058.77L632.58 1058.93L633.82 1059.08L635.07 1059.23L636.31 1059.37L637.56 1059.50L638.80 1059.63L640.05 1059.76L641.29 1059.88L642.54 1059.99L643.78 1060.11L645.03 1060.21L646.27 1060.32L647.52 1060.42L648.76 1060.51L650.01 1060.61L651.25 1060.69L652.50 1060.78L653.74 1060.86L654.98 1060.94L656.23 1061.02L657.47 1061.09L658.72 1061.16L659.96 1061.23L661.21 1061.29L662.45 1061.35L663.70 1061.41L664.94 1061.47L666.19 1061.53L667.43 1061.58L668.68 1061.63L669.92 1061.68L671.17 1061.73L672.41 1061.77L673.65 1061.81L674.90 1061.86L676.14 1061.90L677.39 1061.93L678.63 1061.97L679.88 1062.01L681.12 1062.04L682.37 1062.07L683.61 1062.10L684.86 1062.13L686.10 1062.16L687.35 1062.19L688.59 1062.22L689.84 1062.24L691.08 1062.27L692.33 1062.29L693.57 1062.31L694.81 1062.33L696.06 1062.35L697.30 1062.37L698.55 1062.39L699.79 1062.41L701.04 1062.43L702.28 1062.44L703.53 1062.46L704.77 1062.48L706.02 1062.49L707.26 1062.50L708.51 1062.52L709.75 1062.53L711.00 1062.54L712.24 1062.55L713.48 1062.57L714.73 1062.58L715.97 1062.59L717.22 1062.60L718.46 1062.61L719.71 1062.62L720.95 1062.62L722.20 1062.63L723.44 1062.64L724.69 1062.65L725.93 1062.66L727.18 1062.66L728.42 1062.67L729.67 1062.68L730.91 1062.68L732.16 1062.69L733.40 1062.69" stroke="#80A010" stroke-width="6.0" fill="none" stroke-linejoin="round"/>
<path d="M112.30 1058.60L113.54 1058.49L114.79 1058.38L116.03 1058.27L117.28 1058.15L118.52 1058.03L119.77 1057.91L121.01 1057.79L122.26 1057.66L123.50 1057.53L124.75 1057.39L125.99 1057.26L127.24 1057.12L128.48 1056.97L129.73 1056.82L130.97 1056.67L132.22 1056.52L133.46 1056.36L134.70 1056.19L135.95 1056.03L137.19 1055.86L138.44 1055.68L139.68 1055.50L140.93 1055.31L142.17 1055.13L143.42 1054.93L144.66 1054.73L145.91 1054.53L147.15 1054.32L148.40 1054.11L149.64 1053.89L150.89 1053.66L152.13 1053.43L153.37 1053.20L154.62 1052.95L155.86 1052.71L157.11 1052.45L158.35 1052.19L159.60 1051.92L160.84 1051.65L162.09 1051.37L163.33 1051.08L164.58 1050.79L165.82 1050.49L167.07 1050.18L168.31 1049.86L169.56 1049.54L170.80 1049.21L172.05 1048.87L173.29 1048.52L174.53 1048.16L175.78 1047.80L177.02 1047.43L178.27 1047.04L179.51 1046.65L180.76 1046.25L182.00 1045.84L183.25 1045.41L184.49 1044.98L185.74 1044.54L186.98 1044.09L188.23 1043.62L189.47 1043.15L190.72 1042.66L191.96 1042.17L193.20 1041.66L194.45 1041.14L195.69 1040.60L196.94 1040.06L198.18 1039.50L199.43 1038.92L200.67 1038.34L201.92 1037.74L203.16 1037.13L204.41 1036.50L205.65 1035.85L206.90 1035.20L208.14 1034.52L209.39 1033.84L210.63 1033.13L211.88 1032.41L213.12 1031.67L214.36 1030.92L215.61 1030.15L216.85 1029.36L218.10 1028.55L219.34 1027.73L220.59 1026.89L221.83 1026.02L223.08 1025.14L224.32 1024.24L225.57 1023.32L226.81 1022.38L228.06 1021.42L229.30 1020.43L230.55 1019.43L231.79 1018.40L233.03 1017.35L234.28 1016.28L235.52 1015.18L236.77 1014.07L238.01 1012.92L239.26 1011.76L240.50 1010.57L241.75 1009.35L242.99 1008.11L244.24 1006.84L245.48 1005.55L246.73 1004.23L247.97 1002.88L249.22 1001.50L250.46 1000.10L251.71 998.67L252.95 997.21L254.19 995.73L255.44 994.21L256.68 992.66L257.93 991.09L259.17 989.48L260.42 987.84L261.66 986.17L262.91 984.47L264.15 982.74L265.40 980.98L266.64 979.19L267.89 977.36L269.13 975.50L270.38 973.61L271.62 971.68L272.86 969.72L274.11 967.73L275.35 965.70L276.60 963.64L277.84 961.55L279.09 959.42L280.33 957.26L281.58 955.06L282.82 952.83L284.07 950.57L285.31 948.27L286.56 945.93L287.80 943.57L289.05 941.17L290.29 938.73L291.54 936.26L292.78 933.76L294.02 931.23L295.27 928.66L296.51 926.06L297.76 923.43L299.00 920.76L300.25 918.07L301.49 915.34L302.74 912.59L303.98 909.80L305.23 906.99L306.47 904.15L307.72 901.28L308.96 898.39L310.21 895.46L311.45 892.52L312.69 889.55L313.94 886.56L315.18 883.55L316.43 880.51L317.67 877.46L318.92 874.39L320.16 871.31L321.41 868.21L322.65 865.09L323.90 861.96L325.14 858.83L326.39 855.68L327.63 852.53L328.88 849.37L330.12 846.21L331.37 843.05L332.61 839.88L333.85 836.72L335.10 833.57L336.34 830.42L337.59 827.28L338.83 824.14L340.08 821.03L341.32 817.93L342.57 814.84L343.81 811.78L345.06 808.74L346.30 805.72L347.55 802.73L348.79 799.77L350.04 796.85L351.28 793.95L352.53 791.10L353.77 788.29L355.01 785.52L356.26 782.79L357.50 780.11L358.75 777.48L359.99 774.91L361.24 772.39L362.48 769.93L363.73 767.53L364.97 765.19L366.22 762.92L367.46 760.72L368.71 758.58L369.95 756.52L371.20 754.54L372.44 752.63L373.68 750.80L374.93 749.05L376.17 747.39L377.42 745.81L378.66 744.31L379.91 742.91L381.15 741.59L382.40 740.37L383.64 739.24L384.89 738.21L386.13 737.27L387.38 736.43L388.62 735.69L389.87 735.05L391.11 734.50L392.36 734.06L393.60 733.72L394.84 733.48L396.09 733.34L397.33 733.30L398.58 733.36L399.82 733.52L401.07 733.78L402.31 734.14L403.56 734.59L404.80 735.15L406.05 735.80L407.29 736.54L408.54 737.38L409.78 738.32L411.03 739.35L412.27 740.47L413.51 741.68L414.76 742.99L416.00 744.38L417.25 745.86L418.49 747.43L419.74 749.08L420.98 750.82L422.23 752.64L423.47 754.54L424.72 756.51L425.96 758.57L427.21 760.69L428.45 762.89L429.70 765.17L430.94 767.51L432.19 769.91L433.43 772.38L434.67 774.92L435.92 777.51L437.16 780.16L438.41 782.87L439.65 785.63L440.90 788.44L442.14 791.31L443.39 794.21L444.63 797.16L445.88 800.16L447.12 803.19L448.37 806.26L449.61 809.36L450.86 812.50L452.10 815.66L453.34 818.86L454.59 822.08L455.83 825.32L457.08 828.58L458.32 831.86L459.57 835.15L460.81 838.46L462.06 841.78L463.30 845.11L464.55 848.45L465.79 851.79L467.04 855.14L468.28 858.48L469.53 861.83L470.77 865.17L472.02 868.50L473.26 871.83L474.50 875.16L475.75 878.47L476.99 881.76L478.24 885.05L479.48 888.32L480.73 891.57L481.97 894.80L483.22 898.02L484.46 901.21L485.71 904.38L486.95 907.52L488.20 910.64L489.44 913.73L490.69 916.80L491.93 919.84L493.17 922.84L494.42 925.82L495.66 928.76L496.91 931.67L498.15 934.55L499.40 937.40L500.64 940.20L501.89 942.98L503.13 945.71L504.38 948.42L505.62 951.08L506.87 953.70L508.11 956.29L509.36 958.84L510.60 961.35L511.85 963.82L513.09 966.25L514.33 968.64L515.58 971.00L516.82 973.31L518.07 975.58L519.31 977.81L520.56 980.01L521.80 982.16L523.05 984.27L524.29 986.34L525.54 988.37L526.78 990.37L528.03 992.32L529.27 994.24L530.52 996.11L531.76 997.95L533.01 999.75L534.25 1001.51L535.49 1003.23L536.74 1004.91L537.98 1006.56L539.23 1008.17L540.47 1009.74L541.72 1011.28L542.96 1012.79L544.21 1014.25L545.45 1015.69L546.70 1017.08L547.94 1018.45L549.19 1019.78L550.43 1021.08L551.68 1022.35L552.92 1023.58L554.16 1024.78L555.41 1025.96L556.65 1027.10L557.90 1028.21L559.14 1029.29L560.39 1030.35L561.63 1031.37L562.88 1032.37L564.12 1033.34L565.37 1034.29L566.61 1035.21L567.86 1036.10L569.10 1036.97L570.35 1037.81L571.59 1038.63L572.84 1039.43L574.08 1040.20L575.32 1040.95L576.57 1041.68L577.81 1042.39L579.06 1043.08L580.30 1043.74L581.55 1044.39L582.79 1045.02L584.04 1045.62L585.28 1046.21L586.53 1046.78L587.77 1047.34L589.02 1047.87L590.26 1048.39L591.51 1048.90L592.75 1049.39L593.99 1049.86L595.24 1050.31L596.48 1050.76L597.73 1051.18L598.97 1051.60L600.22 1052.00L601.46 1052.39L602.71 1052.76L603.95 1053.12L605.20 1053.48L606.44 1053.81L607.69 1054.14L608.93 1054.46L610.18 1054.76L611.42 1055.06L612.67 1055.35L613.91 1055.62L615.15 1055.89L616.40 1056.15L617.64 1056.39L618.89 1056.63L620.13 1056.86L621.38 1057.09L622.62 1057.30L623.87 1057.51L625.11 1057.71L626.36 1057.90L627.60 1058.09L628.85 1058.27L630.09 1058.44L631.34 1058.61L632.58 1058.77L633.82 1058.93L635.07 1059.08L636.31 1059.22L637.56 1059.36L638.80 1059.50L640.05 1059.62L641.29 1059.75L642.54 1059.87L643.78 1059.98L645.03 1060.09L646.27 1060.20L647.52 1060.30L648.76 1060.40L650.01 1060.50L651.25 1060.59L652.50 1060.68L653.74 1060.76L654.98 1060.85L656.23 1060.92L657.47 1061.00L658.72 1061.07L659.96 1061.14L661.21 1061.21L662.45 1061.27L663.70 1061.34L664.94 1061.40L666.19 1061.45L667.43 1061.51L668.68 1061.56L669.92 1061.61L671.17 1061.66L672.41 1061.71L673.65 1061.75L674.90 1061.80L676.14 1061.84L677.39 1061.88L678.63 1061.92L679.88 1061.95L681.12 1061.99L682.37 1062.02L683.61 1062.06L684.86 1062.09L686.10 1062.12L687.35 1062.15L688.59 1062.18L689.84 1062.20L691.08 1062.23L692.33 1062.25L693.57 1062.28L694.81 1062.30L696.06 1062.32L697.30 1062.34L698.55 1062.36L699.79 1062.38L701.04 1062.40L702.28 1062.42L703.53 1062.43L704.77 1062.45L706.02 1062.47L707.26 1062.48L708.51 1062.49L709.75 1062.51L711.00 1062.52L712.24 1062.53L713.48 1062.55L714.73 1062.56L715.97 1062.57L717.22 1062.58L718.46 1062.59L719.71 1062.60L720.95 1062.61L722.20 1062.62L723.44 1062.63L724.69 1062.63L725.93 1062.64L727.18 1062.65L728.42 1062.66L729.67 1062.66L730.91 1062.67L732.16 1062.68L733.40 1062.68" stroke="#0000B0" stroke-width="6.4" fill="none" stroke-linejoin="round"/>
<path d="M112.30 1059.22L113.54 1059.13L114.79 1059.03L116.03 1058.93L117.28 1058.83L118.52 1058.73L119.77 1058.63L121.01 1058.52L122.26 1058.41L123.50 1058.29L124.75 1058.17L125.99 1058.05L127.24 1057.93L128.48 1057.81L129.73 1057.68L130.97 1057.54L132.22 1057.41L133.46 1057.27L134.70 1057.12L135.95 1056.98L137.19 1056.83L138.44 1056.67L139.68 1056.51L140.93 1056.35L142.17 1056.19L143.42 1056.01L144.66 1055.84L145.91 1055.66L147.15 1055.48L148.40 1055.29L149.64 1055.09L150.89 1054.89L152.13 1054.69L153.37 1054.48L154.62 1054.27L155.86 1054.05L157.11 1053.82L158.35 1053.59L159.60 1053.36L160.84 1053.12L162.09 1052.87L163.33 1052.61L164.58 1052.35L165.82 1052.08L167.07 1051.81L168.31 1051.53L169.56 1051.24L170.80 1050.94L172.05 1050.64L173.29 1050.33L174.53 1050.01L175.78 1049.69L177.02 1049.35L178.27 1049.01L179.51 1048.66L180.76 1048.30L182.00 1047.93L183.25 1047.55L184.49 1047.17L185.74 1046.77L186.98 1046.36L188.23 1045.95L189.47 1045.52L190.72 1045.08L191.96 1044.64L193.20 1044.18L194.45 1043.71L195.69 1043.23L196.94 1042.73L198.18 1042.23L199.43 1041.71L200.67 1041.18L201.92 1040.64L203.16 1040.08L204.41 1039.52L205.65 1038.93L206.90 1038.34L208.14 1037.73L209.39 1037.10L210.63 1036.46L211.88 1035.81L213.12 1035.14L214.36 1034.45L215.61 1033.75L216.85 1033.03L218.10 1032.29L219.34 1031.54L220.59 1030.77L221.83 1029.98L223.08 1029.18L224.32 1028.35L225.57 1027.51L226.81 1026.64L228.06 1025.76L229.30 1024.86L230.55 1023.93L231.79 1022.99L233.03 1022.02L234.28 1021.04L235.52 1020.03L236.77 1019.00L238.01 1017.94L239.26 1016.87L240.50 1015.76L241.75 1014.64L242.99 1013.49L244.24 1012.32L245.48 1011.12L246.73 1009.89L247.97 1008.64L249.22 1007.36L250.46 1006.06L251.71 1004.73L252.95 1003.37L254.19 1001.98L255.44 1000.57L256.68 999.12L257.93 997.65L259.17 996.15L260.42 994.61L261.66 993.05L262.91 991.46L264.15 989.83L265.40 988.17L266.64 986.49L267.89 984.77L269.13 983.01L270.38 981.23L271.62 979.41L272.86 977.56L274.11 975.68L275.35 973.76L276.60 971.81L277.84 969.82L279.09 967.80L280.33 965.75L281.58 963.66L282.82 961.53L284.07 959.38L285.31 957.18L286.56 954.96L287.80 952.69L289.05 950.40L290.29 948.06L291.54 945.70L292.78 943.30L294.02 940.86L295.27 938.39L296.51 935.89L297.76 933.35L299.00 930.78L300.25 928.18L301.49 925.54L302.74 922.87L303.98 920.18L305.23 917.45L306.47 914.69L307.72 911.90L308.96 909.08L310.21 906.23L311.45 903.35L312.69 900.45L313.94 897.53L315.18 894.58L316.43 891.60L317.67 888.60L318.92 885.59L320.16 882.55L321.41 879.49L322.65 876.42L323.90 873.33L325.14 870.22L326.39 867.10L327.63 863.98L328.88 860.84L330.12 857.69L331.37 854.54L332.61 851.38L333.85 848.23L335.10 845.07L336.34 841.91L337.59 838.76L338.83 835.61L340.08 832.47L341.32 829.35L342.57 826.23L343.81 823.13L345.06 820.05L346.30 816.99L347.55 813.95L348.79 810.94L350.04 807.96L351.28 805.00L352.53 802.08L353.77 799.19L355.01 796.35L356.26 793.54L357.50 790.78L358.75 788.06L359.99 785.39L361.24 782.77L362.48 780.21L363.73 777.71L364.97 775.26L366.22 772.88L367.46 770.56L368.71 768.31L369.95 766.13L371.20 764.02L372.44 761.98L373.68 760.03L374.93 758.15L376.17 756.35L377.42 754.64L378.66 753.01L379.91 751.47L381.15 750.01L382.40 748.65L383.64 747.38L384.89 746.21L386.13 745.13L387.38 744.15L388.62 743.27L389.87 742.48L391.11 741.80L392.36 741.22L393.60 740.74L394.84 740.36L396.09 740.08L397.33 739.91L398.58 739.84L399.82 739.88L401.07 740.01L402.31 740.25L403.56 740.58L404.80 741.02L406.05 741.55L407.29 742.18L408.54 742.91L409.78 743.74L411.03 744.66L412.27 745.68L413.51 746.80L414.76 748.00L416.00 749.30L417.25 750.69L418.49 752.17L419.74 753.74L420.98 755.39L422.23 757.13L423.47 758.95L424.72 760.85L425.96 762.83L427.21 764.89L428.45 767.03L429.70 769.24L430.94 771.52L432.19 773.87L433.43 776.29L434.67 778.77L435.92 781.31L437.16 783.92L438.41 786.59L439.65 789.31L440.90 792.08L442.14 794.91L443.39 797.78L444.63 800.70L445.88 803.66L447.12 806.67L448.37 809.71L449.61 812.79L450.86 815.91L452.10 819.06L453.34 822.23L454.59 825.43L455.83 828.66L457.08 831.91L458.32 835.17L459.57 838.46L460.81 841.76L462.06 845.07L463.30 848.39L464.55 851.72L465.79 855.06L467.04 858.40L468.28 861.74L469.53 865.08L470.77 868.41L472.02 871.75L473.26 875.07L474.50 878.39L475.75 881.70L476.99 884.99L478.24 888.27L479.48 891.54L480.73 894.78L481.97 898.01L483.22 901.22L484.46 904.41L485.71 907.57L486.95 910.71L488.20 913.83L489.44 916.91L490.69 919.97L491.93 923.00L493.17 926.00L494.42 928.96L495.66 931.90L496.91 934.80L498.15 937.67L499.40 940.50L500.64 943.30L501.89 946.06L503.13 948.78L504.38 951.46L505.62 954.11L506.87 956.72L508.11 959.29L509.36 961.82L510.60 964.31L511.85 966.77L513.09 969.18L514.33 971.55L515.58 973.88L516.82 976.17L518.07 978.42L519.31 980.62L520.56 982.79L521.80 984.92L523.05 987.01L524.29 989.05L525.54 991.06L526.78 993.02L528.03 994.95L529.27 996.83L530.52 998.68L531.76 1000.49L533.01 1002.25L534.25 1003.98L535.49 1005.68L536.74 1007.33L537.98 1008.94L539.23 1010.52L540.47 1012.06L541.72 1013.57L542.96 1015.04L544.21 1016.47L545.45 1017.87L546.70 1019.24L547.94 1020.57L549.19 1021.87L550.43 1023.13L551.68 1024.37L552.92 1025.57L554.16 1026.74L555.41 1027.88L556.65 1028.98L557.90 1030.06L559.14 1031.11L560.39 1032.13L561.63 1033.13L562.88 1034.09L564.12 1035.03L565.37 1035.94L566.61 1036.83L567.86 1037.69L569.10 1038.53L570.35 1039.34L571.59 1040.13L572.84 1040.89L574.08 1041.64L575.32 1042.36L576.57 1043.05L577.81 1043.73L579.06 1044.39L580.30 1045.03L581.55 1045.64L582.79 1046.24L584.04 1046.82L585.28 1047.38L586.53 1047.93L587.77 1048.45L589.02 1048.96L590.26 1049.46L591.51 1049.93L592.75 1050.40L593.99 1050.84L595.24 1051.27L596.48 1051.69L597.73 1052.10L598.97 1052.49L600.22 1052.87L601.46 1053.23L602.71 1053.58L603.95 1053.92L605.20 1054.25L606.44 1054.57L607.69 1054.88L608.93 1055.18L610.18 1055.46L611.42 1055.74L612.67 1056.01L613.91 1056.26L615.15 1056.51L616.40 1056.75L617.64 1056.98L618.89 1057.20L620.13 1057.42L621.38 1057.63L622.62 1057.83L623.87 1058.02L625.11 1058.20L626.36 1058.38L627.60 1058.56L628.85 1058.72L630.09 1058.88L631.34 1059.04L632.58 1059.18L633.82 1059.33L635.07 1059.46L636.31 1059.60L637.56 1059.72L638.80 1059.85L640.05 1059.97L641.29 1060.08L642.54 1060.19L643.78 1060.29L645.03 1060.39L646.27 1060.49L647.52 1060.59L648.76 1060.68L650.01 1060.76L651.25 1060.84L652.50 1060.92L653.74 1061.00L654.98 1061.08L656.23 1061.15L657.47 1061.21L658.72 1061.28L659.96 1061.34L661.21 1061.40L662.45 1061.46L663.70 1061.52L664.94 1061.57L666.19 1061.62L667.43 1061.67L668.68 1061.72L669.92 1061.77L671.17 1061.81L672.41 1061.85L673.65 1061.89L674.90 1061.93L676.14 1061.97L677.39 1062.00L678.63 1062.04L679.88 1062.07L681.12 1062.10L682.37 1062.13L683.61 1062.16L684.86 1062.19L686.10 1062.22L687.35 1062.24L688.59 1062.27L689.84 1062.29L691.08 1062.31L692.33 1062.33L693.57 1062.35L694.81 1062.37L696.06 1062.39L697.30 1062.41L698.55 1062.43L699.79 1062.44L701.04 1062.46L702.28 1062.48L703.53 1062.49L704.77 1062.51L706.02 1062.52L707.26 1062.53L708.51 1062.54L709.75 1062.56L711.00 1062.57L712.24 1062.58L713.48 1062.59L714.73 1062.60L715.97 1062.61L717.22 1062.62L718.46 1062.63L719.71 1062.63L720.95 1062.64L722.20 1062.65L723.44 1062.66L724.69 1062.66L725.93 1062.67L727.18 1062.68L728.42 1062.68L729.67 1062.69L730.91 1062.70L732.16 1062.70L733.40 1062.71" stroke="#900010" stroke-width="6.0" fill="none" stroke-linejoin="round"/>
<path d="M112.30 1059.22L113.54 1059.12L114.79 1059.03L116.03 1058.93L117.28 1058.83L118.52 1058.73L119.77 1058.63L121.01 1058.52L122.26 1058.41L123.50 1058.30L124.75 1058.18L125.99 1058.06L127.24 1057.94L128.48 1057.82L129.73 1057.69L130.97 1057.56L132.22 1057.43L133.46 1057.29L134.70 1057.15L135.95 1057.00L137.19 1056.85L138.44 1056.70L139.68 1056.55L140.93 1056.39L142.17 1056.22L143.42 1056.06L144.66 1055.88L145.91 1055.71L147.15 1055.53L148.40 1055.34L149.64 1055.15L150.89 1054.96L152.13 1054.76L153.37 1054.55L154.62 1054.34L155.86 1054.13L157.11 1053.91L158.35 1053.68L159.60 1053.45L160.84 1053.22L162.09 1052.97L163.33 1052.72L164.58 1052.47L165.82 1052.21L167.07 1051.94L168.31 1051.67L169.56 1051.38L170.80 1051.10L172.05 1050.80L173.29 1050.50L174.53 1050.19L175.78 1049.87L177.02 1049.55L178.27 1049.21L179.51 1048.87L180.76 1048.52L182.00 1048.16L183.25 1047.80L184.49 1047.42L185.74 1047.03L186.98 1046.64L188.23 1046.23L189.47 1045.82L190.72 1045.40L191.96 1044.96L193.20 1044.52L194.45 1044.06L195.69 1043.60L196.94 1043.12L198.18 1042.63L199.43 1042.13L200.67 1041.62L201.92 1041.09L203.16 1040.55L204.41 1040.00L205.65 1039.44L206.90 1038.86L208.14 1038.27L209.39 1037.67L210.63 1037.05L211.88 1036.42L213.12 1035.77L214.36 1035.11L215.61 1034.43L216.85 1033.74L218.10 1033.03L219.34 1032.30L220.59 1031.56L221.83 1030.80L223.08 1030.02L224.32 1029.23L225.57 1028.41L226.81 1027.58L228.06 1026.73L229.30 1025.86L230.55 1024.98L231.79 1024.07L233.03 1023.14L234.28 1022.19L235.52 1021.22L236.77 1020.23L238.01 1019.22L239.26 1018.18L240.50 1017.12L241.75 1016.04L242.99 1014.94L244.24 1013.81L245.48 1012.66L246.73 1011.49L247.97 1010.29L249.22 1009.06L250.46 1007.81L251.71 1006.53L252.95 1005.23L254.19 1003.90L255.44 1002.55L256.68 1001.16L257.93 999.75L259.17 998.31L260.42 996.84L261.66 995.35L262.91 993.82L264.15 992.26L265.40 990.68L266.64 989.06L267.89 987.42L269.13 985.74L270.38 984.03L271.62 982.29L272.86 980.52L274.11 978.72L275.35 976.88L276.60 975.02L277.84 973.12L279.09 971.19L280.33 969.22L281.58 967.22L282.82 965.19L284.07 963.13L285.31 961.03L286.56 958.90L287.80 956.73L289.05 954.54L290.29 952.31L291.54 950.04L292.78 947.74L294.02 945.41L295.27 943.05L296.51 940.65L297.76 938.22L299.00 935.76L300.25 933.27L301.49 930.75L302.74 928.19L303.98 925.60L305.23 922.99L306.47 920.34L307.72 917.66L308.96 914.96L310.21 912.23L311.45 909.47L312.69 906.68L313.94 903.87L315.18 901.03L316.43 898.17L317.67 895.29L318.92 892.39L320.16 889.46L321.41 886.51L322.65 883.55L323.90 880.57L325.14 877.57L326.39 874.56L327.63 871.54L328.88 868.51L330.12 865.46L331.37 862.41L332.61 859.35L333.85 856.29L335.10 853.22L336.34 850.15L337.59 847.09L338.83 844.02L340.08 840.96L341.32 837.91L342.57 834.87L343.81 831.84L345.06 828.82L346.30 825.82L347.55 822.83L348.79 819.87L350.04 816.93L351.28 814.01L352.53 811.12L353.77 808.26L355.01 805.44L356.26 802.65L357.50 799.90L358.75 797.18L359.99 794.51L361.24 791.89L362.48 789.31L363.73 786.78L364.97 784.31L366.22 781.89L367.46 779.53L368.71 777.23L369.95 774.99L371.20 772.82L372.44 770.71L373.68 768.68L374.93 766.71L376.17 764.82L377.42 763.01L378.66 761.27L379.91 759.62L381.15 758.05L382.40 756.56L383.64 755.16L384.89 753.84L386.13 752.61L387.38 751.48L388.62 750.43L389.87 749.48L391.11 748.62L392.36 747.86L393.60 747.20L394.84 746.63L396.09 746.16L397.33 745.79L398.58 745.51L399.82 745.34L401.07 745.26L402.31 745.29L403.56 745.41L404.80 745.62L406.05 745.93L407.29 746.34L408.54 746.84L409.78 747.44L411.03 748.13L412.27 748.92L413.51 749.79L414.76 750.76L416.00 751.82L417.25 752.97L418.49 754.21L419.74 755.54L420.98 756.95L422.23 758.45L423.47 760.03L424.72 761.69L425.96 763.43L427.21 765.25L428.45 767.15L429.70 769.12L430.94 771.17L432.19 773.29L433.43 775.47L434.67 777.73L435.92 780.05L437.16 782.43L438.41 784.88L439.65 787.38L440.90 789.94L442.14 792.56L443.39 795.23L444.63 797.95L445.88 800.71L447.12 803.52L448.37 806.38L449.61 809.28L450.86 812.21L452.10 815.18L453.34 818.19L454.59 821.23L455.83 824.29L457.08 827.39L458.32 830.51L459.57 833.65L460.81 836.81L462.06 839.99L463.30 843.18L464.55 846.39L465.79 849.61L467.04 852.84L468.28 856.07L469.53 859.31L470.77 862.56L472.02 865.80L473.26 869.05L474.50 872.29L475.75 875.52L476.99 878.75L478.24 881.97L479.48 885.18L480.73 888.38L481.97 891.56L483.22 894.73L484.46 897.89L485.71 901.02L486.95 904.14L488.20 907.23L489.44 910.30L490.69 913.35L491.93 916.37L493.17 919.37L494.42 922.34L495.66 925.28L496.91 928.20L498.15 931.08L499.40 933.93L500.64 936.75L501.89 939.54L503.13 942.29L504.38 945.01L505.62 947.70L506.87 950.35L508.11 952.96L509.36 955.54L510.60 958.08L511.85 960.58L513.09 963.04L514.33 965.47L515.58 967.86L516.82 970.21L518.07 972.52L519.31 974.80L520.56 977.03L521.80 979.23L523.05 981.38L524.29 983.50L525.54 985.58L526.78 987.62L528.03 989.62L529.27 991.58L530.52 993.50L531.76 995.38L533.01 997.23L534.25 999.04L535.49 1000.81L536.74 1002.54L537.98 1004.24L539.23 1005.90L540.47 1007.52L541.72 1009.10L542.96 1010.65L544.21 1012.17L545.45 1013.65L546.70 1015.10L547.94 1016.51L549.19 1017.88L550.43 1019.23L551.68 1020.54L552.92 1021.82L554.16 1023.07L555.41 1024.28L556.65 1025.47L557.90 1026.62L559.14 1027.75L560.39 1028.84L561.63 1029.91L562.88 1030.95L564.12 1031.96L565.37 1032.94L566.61 1033.90L567.86 1034.83L569.10 1035.73L570.35 1036.61L571.59 1037.47L572.84 1038.30L574.08 1039.11L575.32 1039.89L576.57 1040.65L577.81 1041.39L579.06 1042.11L580.30 1042.80L581.55 1043.48L582.79 1044.14L584.04 1044.77L585.28 1045.39L586.53 1045.99L587.77 1046.57L589.02 1047.13L590.26 1047.67L591.51 1048.20L592.75 1048.71L593.99 1049.20L595.24 1049.68L596.48 1050.15L597.73 1050.60L598.97 1051.03L600.22 1051.45L601.46 1051.86L602.71 1052.25L603.95 1052.63L605.20 1053.00L606.44 1053.36L607.69 1053.70L608.93 1054.03L610.18 1054.35L611.42 1054.66L612.67 1054.96L613.91 1055.25L615.15 1055.53L616.40 1055.80L617.64 1056.06L618.89 1056.32L620.13 1056.56L621.38 1056.79L622.62 1057.02L623.87 1057.24L625.11 1057.45L626.36 1057.65L627.60 1057.85L628.85 1058.04L630.09 1058.22L631.34 1058.40L632.58 1058.57L633.82 1058.73L635.07 1058.89L636.31 1059.04L637.56 1059.19L638.80 1059.33L640.05 1059.46L641.29 1059.59L642.54 1059.72L643.78 1059.84L645.03 1059.96L646.27 1060.07L647.52 1060.18L648.76 1060.28L650.01 1060.38L651.25 1060.48L652.50 1060.57L653.74 1060.66L654.98 1060.75L656.23 1060.83L657.47 1060.91L658.72 1060.99L659.96 1061.06L661.21 1061.13L662.45 1061.20L663.70 1061.26L664.94 1061.33L666.19 1061.39L667.43 1061.44L668.68 1061.50L669.92 1061.55L671.17 1061.61L672.41 1061.66L673.65 1061.70L674.90 1061.75L676.14 1061.79L677.39 1061.83L678.63 1061.88L679.88 1061.91L681.12 1061.95L682.37 1061.99L683.61 1062.02L684.86 1062.05L686.10 1062.09L687.35 1062.12L688.59 1062.15L689.84 1062.17L691.08 1062.20L692.33 1062.23L693.57 1062.25L694.81 1062.28L696.06 1062.30L697.30 1062.32L698.55 1062.34L699.79 1062.36L701.04 1062.38L702.28 1062.40L703.53 1062.42L704.77 1062.43L706.02 1062.45L707.26 1062.47L708.51 1062.48L709.75 1062.49L711.00 1062.51L712.24 1062.52L713.48 1062.53L714.73 1062.55L715.97 1062.56L717.22 1062.57L718.46 1062.58L719.71 1062.59L720.95 1062.60L722.20 1062.61L723.44 1062.62L724.69 1062.63L725.93 1062.64L727.18 1062.64L728.42 1062.65L729.67 1062.66L730.91 1062.67L732.16 1062.67L733.40 1062.68" stroke="#FF10E0" stroke-width="6.0" fill="none" stroke-linejoin="round"/>
<path d="M112.30 1059.52L113.54 1059.44L114.79 1059.35L116.03 1059.26L117.28 1059.17L118.52 1059.07L119.77 1058.97L121.01 1058.87L122.26 1058.77L123.50 1058.66L124.75 1058.56L125.99 1058.45L127.24 1058.33L128.48 1058.22L129.73 1058.10L130.97 1057.97L132.22 1057.85L133.46 1057.72L134.70 1057.59L135.95 1057.45L137.19 1057.31L138.44 1057.17L139.68 1057.02L140.93 1056.87L142.17 1056.72L143.42 1056.56L144.66 1056.40L145.91 1056.23L147.15 1056.06L148.40 1055.88L149.64 1055.71L150.89 1055.52L152.13 1055.33L153.37 1055.14L154.62 1054.94L155.86 1054.74L157.11 1054.53L158.35 1054.31L159.60 1054.10L160.84 1053.87L162.09 1053.64L163.33 1053.40L164.58 1053.16L165.82 1052.91L167.07 1052.66L168.31 1052.40L169.56 1052.13L170.80 1051.85L172.05 1051.57L173.29 1051.28L174.53 1050.99L175.78 1050.68L177.02 1050.37L178.27 1050.05L179.51 1049.73L180.76 1049.39L182.00 1049.05L183.25 1048.70L184.49 1048.34L185.74 1047.97L186.98 1047.59L188.23 1047.20L189.47 1046.80L190.72 1046.40L191.96 1045.98L193.20 1045.55L194.45 1045.11L195.69 1044.66L196.94 1044.20L198.18 1043.73L199.43 1043.25L200.67 1042.75L201.92 1042.25L203.16 1041.73L204.41 1041.20L205.65 1040.65L206.90 1040.09L208.14 1039.52L209.39 1038.94L210.63 1038.34L211.88 1037.73L213.12 1037.10L214.36 1036.46L215.61 1035.80L216.85 1035.12L218.10 1034.43L219.34 1033.73L220.59 1033.01L221.83 1032.27L223.08 1031.51L224.32 1030.74L225.57 1029.95L226.81 1029.14L228.06 1028.31L229.30 1027.46L230.55 1026.59L231.79 1025.70L233.03 1024.80L234.28 1023.87L235.52 1022.92L236.77 1021.95L238.01 1020.96L239.26 1019.94L240.50 1018.91L241.75 1017.85L242.99 1016.76L244.24 1015.66L245.48 1014.53L246.73 1013.37L247.97 1012.19L249.22 1010.99L250.46 1009.76L251.71 1008.50L252.95 1007.22L254.19 1005.91L255.44 1004.57L256.68 1003.21L257.93 1001.81L259.17 1000.39L260.42 998.94L261.66 997.46L262.91 995.96L264.15 994.42L265.40 992.85L266.64 991.25L267.89 989.62L269.13 987.96L270.38 986.27L271.62 984.54L272.86 982.78L274.11 981.00L275.35 979.17L276.60 977.32L277.84 975.43L279.09 973.51L280.33 971.56L281.58 969.57L282.82 967.55L284.07 965.50L285.31 963.41L286.56 961.29L287.80 959.13L289.05 956.94L290.29 954.71L291.54 952.46L292.78 950.16L294.02 947.84L295.27 945.48L296.51 943.08L297.76 940.66L299.00 938.20L300.25 935.71L301.49 933.18L302.74 930.63L303.98 928.04L305.23 925.42L306.47 922.78L307.72 920.10L308.96 917.39L310.21 914.66L311.45 911.89L312.69 909.10L313.94 906.29L315.18 903.45L316.43 900.58L317.67 897.69L318.92 894.78L320.16 891.85L321.41 888.90L322.65 885.93L323.90 882.95L325.14 879.95L326.39 876.93L327.63 873.90L328.88 870.87L330.12 867.82L331.37 864.76L332.61 861.70L333.85 858.63L335.10 855.57L336.34 852.50L337.59 849.43L338.83 846.37L340.08 843.31L341.32 840.26L342.57 837.23L343.81 834.20L345.06 831.19L346.30 828.20L347.55 825.23L348.79 822.28L350.04 819.35L351.28 816.46L352.53 813.59L353.77 810.75L355.01 807.95L356.26 805.19L357.50 802.47L358.75 799.79L359.99 797.15L361.24 794.57L362.48 792.03L363.73 789.55L364.97 787.12L366.22 784.76L367.46 782.45L368.71 780.21L369.95 778.03L371.20 775.93L372.44 773.89L373.68 771.93L374.93 770.04L376.17 768.23L377.42 766.50L378.66 764.85L379.91 763.29L381.15 761.81L382.40 760.42L383.64 759.12L384.89 757.91L386.13 756.79L387.38 755.76L388.62 754.83L389.87 754.00L391.11 753.27L392.36 752.63L393.60 752.09L394.84 751.65L396.09 751.31L397.33 751.08L398.58 750.94L399.82 750.90L401.07 750.97L402.31 751.13L403.56 751.39L404.80 751.75L406.05 752.20L407.29 752.75L408.54 753.40L409.78 754.14L411.03 754.98L412.27 755.91L413.51 756.93L414.76 758.05L416.00 759.26L417.25 760.55L418.49 761.94L419.74 763.41L420.98 764.96L422.23 766.61L423.47 768.33L424.72 770.13L425.96 772.01L427.21 773.97L428.45 776.01L429.70 778.11L430.94 780.29L432.19 782.54L433.43 784.85L434.67 787.23L435.92 789.67L437.16 792.17L438.41 794.73L439.65 797.35L440.90 800.02L442.14 802.74L443.39 805.51L444.63 808.32L445.88 811.18L447.12 814.08L448.37 817.02L449.61 820.00L450.86 823.01L452.10 826.06L453.34 829.13L454.59 832.23L455.83 835.35L457.08 838.50L458.32 841.67L459.57 844.85L460.81 848.05L462.06 851.26L463.30 854.49L464.55 857.72L465.79 860.96L467.04 864.20L468.28 867.45L469.53 870.69L470.77 873.93L472.02 877.17L473.26 880.41L474.50 883.63L475.75 886.85L476.99 890.05L478.24 893.24L479.48 896.42L480.73 899.58L481.97 902.72L483.22 905.85L484.46 908.95L485.71 912.03L486.95 915.09L488.20 918.12L489.44 921.12L490.69 924.10L491.93 927.05L493.17 929.97L494.42 932.86L495.66 935.72L496.91 938.55L498.15 941.34L499.40 944.10L500.64 946.82L501.89 949.51L503.13 952.16L504.38 954.78L505.62 957.36L506.87 959.90L508.11 962.40L509.36 964.87L510.60 967.30L511.85 969.68L513.09 972.03L514.33 974.34L515.58 976.61L516.82 978.84L518.07 981.03L519.31 983.18L520.56 985.29L521.80 987.36L523.05 989.39L524.29 991.38L525.54 993.34L526.78 995.25L528.03 997.12L529.27 998.96L530.52 1000.75L531.76 1002.51L533.01 1004.23L534.25 1005.91L535.49 1007.56L536.74 1009.17L537.98 1010.74L539.23 1012.27L540.47 1013.77L541.72 1015.23L542.96 1016.66L544.21 1018.06L545.45 1019.42L546.70 1020.74L547.94 1022.03L549.19 1023.30L550.43 1024.52L551.68 1025.72L552.92 1026.89L554.16 1028.02L555.41 1029.13L556.65 1030.20L557.90 1031.25L559.14 1032.27L560.39 1033.26L561.63 1034.22L562.88 1035.15L564.12 1036.06L565.37 1036.95L566.61 1037.81L567.86 1038.64L569.10 1039.45L570.35 1040.24L571.59 1041.00L572.84 1041.74L574.08 1042.46L575.32 1043.15L576.57 1043.83L577.81 1044.49L579.06 1045.12L580.30 1045.74L581.55 1046.33L582.79 1046.91L584.04 1047.47L585.28 1048.01L586.53 1048.54L587.77 1049.05L589.02 1049.54L590.26 1050.01L591.51 1050.47L592.75 1050.92L593.99 1051.35L595.24 1051.77L596.48 1052.17L597.73 1052.56L598.97 1052.94L600.22 1053.30L601.46 1053.65L602.71 1053.99L603.95 1054.32L605.20 1054.64L606.44 1054.94L607.69 1055.24L608.93 1055.52L610.18 1055.80L611.42 1056.06L612.67 1056.32L613.91 1056.57L615.15 1056.81L616.40 1057.04L617.64 1057.26L618.89 1057.47L620.13 1057.68L621.38 1057.88L622.62 1058.07L623.87 1058.25L625.11 1058.43L626.36 1058.60L627.60 1058.77L628.85 1058.92L630.09 1059.08L631.34 1059.22L632.58 1059.37L633.82 1059.50L635.07 1059.63L636.31 1059.76L637.56 1059.88L638.80 1060.00L640.05 1060.11L641.29 1060.22L642.54 1060.33L643.78 1060.43L645.03 1060.52L646.27 1060.62L647.52 1060.70L648.76 1060.79L650.01 1060.87L651.25 1060.95L652.50 1061.03L653.74 1061.10L654.98 1061.17L656.23 1061.24L657.47 1061.30L658.72 1061.37L659.96 1061.43L661.21 1061.48L662.45 1061.54L663.70 1061.59L664.94 1061.64L666.19 1061.69L667.43 1061.74L668.68 1061.78L669.92 1061.83L671.17 1061.87L672.41 1061.91L673.65 1061.95L674.90 1061.98L676.14 1062.02L677.39 1062.05L678.63 1062.08L679.88 1062.12L681.12 1062.15L682.37 1062.17L683.61 1062.20L684.86 1062.23L686.10 1062.25L687.35 1062.28L688.59 1062.30L689.84 1062.32L691.08 1062.34L692.33 1062.36L693.57 1062.38L694.81 1062.40L696.06 1062.42L697.30 1062.44L698.55 1062.45L699.79 1062.47L701.04 1062.48L702.28 1062.50L703.53 1062.51L704.77 1062.53L706.02 1062.54L707.26 1062.55L708.51 1062.56L709.75 1062.57L711.00 1062.58L712.24 1062.59L713.48 1062.60L714.73 1062.61L715.97 1062.62L717.22 1062.63L718.46 1062.64L719.71 1062.65L720.95 1062.66L722.20 1062.66L723.44 1062.67L724.69 1062.68L725.93 1062.68L727.18 1062.69L728.42 1062.69L729.67 1062.70L730.91 1062.70L732.16 1062.71L733.40 1062.71" stroke="#20A030" stroke-width="6.0" fill="none" stroke-linejoin="round"/>
<path d="M112.30 1059.81L113.54 1059.74L114.79 1059.66L116.03 1059.58L117.28 1059.49L118.52 1059.41L119.77 1059.32L121.01 1059.23L122.26 1059.14L123.50 1059.04L124.75 1058.95L125.99 1058.85L127.24 1058.75L128.48 1058.64L129.73 1058.53L130.97 1058.42L132.22 1058.31L133.46 1058.20L134.70 1058.08L135.95 1057.96L137.19 1057.83L138.44 1057.70L139.68 1057.57L140.93 1057.44L142.17 1057.30L143.42 1057.16L144.66 1057.02L145.91 1056.87L147.15 1056.72L148.40 1056.56L149.64 1056.40L150.89 1056.24L152.13 1056.07L153.37 1055.89L154.62 1055.72L155.86 1055.54L157.11 1055.35L158.35 1055.16L159.60 1054.97L160.84 1054.77L162.09 1054.56L163.33 1054.35L164.58 1054.14L165.82 1053.92L167.07 1053.69L168.31 1053.46L169.56 1053.22L170.80 1052.98L172.05 1052.73L173.29 1052.47L174.53 1052.21L175.78 1051.94L177.02 1051.66L178.27 1051.38L179.51 1051.09L180.76 1050.79L182.00 1050.49L183.25 1050.18L184.49 1049.86L185.74 1049.53L186.98 1049.20L188.23 1048.86L189.47 1048.50L190.72 1048.14L191.96 1047.77L193.20 1047.40L194.45 1047.01L195.69 1046.61L196.94 1046.21L198.18 1045.79L199.43 1045.36L200.67 1044.93L201.92 1044.48L203.16 1044.02L204.41 1043.55L205.65 1043.07L206.90 1042.58L208.14 1042.08L209.39 1041.56L210.63 1041.03L211.88 1040.49L213.12 1039.94L214.36 1039.37L215.61 1038.79L216.85 1038.20L218.10 1037.59L219.34 1036.97L220.59 1036.33L221.83 1035.68L223.08 1035.02L224.32 1034.33L225.57 1033.64L226.81 1032.92L228.06 1032.19L229.30 1031.44L230.55 1030.68L231.79 1029.90L233.03 1029.10L234.28 1028.28L235.52 1027.44L236.77 1026.59L238.01 1025.71L239.26 1024.82L240.50 1023.91L241.75 1022.97L242.99 1022.02L244.24 1021.04L245.48 1020.04L246.73 1019.02L247.97 1017.98L249.22 1016.92L250.46 1015.83L251.71 1014.72L252.95 1013.59L254.19 1012.43L255.44 1011.25L256.68 1010.04L257.93 1008.81L259.17 1007.55L260.42 1006.27L261.66 1004.96L262.91 1003.62L264.15 1002.26L265.40 1000.86L266.64 999.45L267.89 998.00L269.13 996.52L270.38 995.02L271.62 993.49L272.86 991.92L274.11 990.33L275.35 988.71L276.60 987.05L277.84 985.37L279.09 983.66L280.33 981.91L281.58 980.13L282.82 978.32L284.07 976.48L285.31 974.61L286.56 972.71L287.80 970.77L289.05 968.80L290.29 966.80L291.54 964.76L292.78 962.69L294.02 960.59L295.27 958.46L296.51 956.29L297.76 954.09L299.00 951.86L300.25 949.60L301.49 947.30L302.74 944.97L303.98 942.61L305.23 940.22L306.47 937.79L307.72 935.34L308.96 932.85L310.21 930.33L311.45 927.79L312.69 925.21L313.94 922.60L315.18 919.97L316.43 917.31L317.67 914.62L318.92 911.90L320.16 909.16L321.41 906.39L322.65 903.60L323.90 900.79L325.14 897.96L326.39 895.10L327.63 892.23L328.88 889.33L330.12 886.42L331.37 883.49L332.61 880.55L333.85 877.60L335.10 874.63L336.34 871.65L337.59 868.66L338.83 865.67L340.08 862.67L341.32 859.67L342.57 856.67L343.81 853.66L345.06 850.66L346.30 847.66L347.55 844.67L348.79 841.69L350.04 838.72L351.28 835.75L352.53 832.81L353.77 829.88L355.01 826.97L356.26 824.08L357.50 821.22L358.75 818.38L359.99 815.57L361.24 812.79L362.48 810.04L363.73 807.34L364.97 804.67L366.22 802.04L367.46 799.45L368.71 796.91L369.95 794.42L371.20 791.98L372.44 789.60L373.68 787.27L374.93 785.00L376.17 782.79L377.42 780.64L378.66 778.56L379.91 776.55L381.15 774.60L382.40 772.73L383.64 770.94L384.89 769.22L386.13 767.57L387.38 766.01L388.62 764.53L389.87 763.14L391.11 761.83L392.36 760.61L393.60 759.47L394.84 758.43L396.09 757.48L397.33 756.62L398.58 755.85L399.82 755.18L401.07 754.60L402.31 754.12L403.56 753.74L404.80 753.45L406.05 753.26L407.29 753.17L408.54 753.17L409.78 753.27L411.03 753.47L412.27 753.76L413.51 754.14L414.76 754.62L416.00 755.19L417.25 755.85L418.49 756.61L419.74 757.45L420.98 758.39L422.23 759.41L423.47 760.53L424.72 761.73L425.96 763.02L427.21 764.39L428.45 765.85L429.70 767.38L430.94 769.00L432.19 770.70L433.43 772.48L434.67 774.33L435.92 776.25L437.16 778.25L438.41 780.32L439.65 782.46L440.90 784.66L442.14 786.93L443.39 789.26L444.63 791.65L445.88 794.10L447.12 796.60L448.37 799.16L449.61 801.77L450.86 804.43L452.10 807.14L453.34 809.89L454.59 812.69L455.83 815.52L457.08 818.40L458.32 821.31L459.57 824.25L460.81 827.23L462.06 830.23L463.30 833.26L464.55 836.31L465.79 839.39L467.04 842.48L468.28 845.60L469.53 848.73L470.77 851.87L472.02 855.02L473.26 858.18L474.50 861.35L475.75 864.53L476.99 867.70L478.24 870.88L479.48 874.06L480.73 877.23L481.97 880.40L483.22 883.56L484.46 886.71L485.71 889.86L486.95 892.99L488.20 896.10L489.44 899.21L490.69 902.29L491.93 905.36L493.17 908.41L494.42 911.44L495.66 914.44L496.91 917.43L498.15 920.38L499.40 923.31L500.64 926.22L501.89 929.10L503.13 931.95L504.38 934.76L505.62 937.55L506.87 940.31L508.11 943.03L509.36 945.72L510.60 948.38L511.85 951.01L513.09 953.59L514.33 956.15L515.58 958.66L516.82 961.15L518.07 963.59L519.31 966.00L520.56 968.37L521.80 970.70L523.05 972.99L524.29 975.25L525.54 977.47L526.78 979.64L528.03 981.79L529.27 983.89L530.52 985.95L531.76 987.98L533.01 989.97L534.25 991.92L535.49 993.83L536.74 995.70L537.98 997.54L539.23 999.33L540.47 1001.09L541.72 1002.82L542.96 1004.50L544.21 1006.15L545.45 1007.77L546.70 1009.35L547.94 1010.89L549.19 1012.40L550.43 1013.87L551.68 1015.31L552.92 1016.72L554.16 1018.09L555.41 1019.43L556.65 1020.73L557.90 1022.01L559.14 1023.25L560.39 1024.46L561.63 1025.64L562.88 1026.79L564.12 1027.91L565.37 1029.00L566.61 1030.07L567.86 1031.10L569.10 1032.11L570.35 1033.09L571.59 1034.04L572.84 1034.97L574.08 1035.87L575.32 1036.75L576.57 1037.60L577.81 1038.42L579.06 1039.23L580.30 1040.01L581.55 1040.77L582.79 1041.50L584.04 1042.22L585.28 1042.91L586.53 1043.59L587.77 1044.24L589.02 1044.87L590.26 1045.49L591.51 1046.08L592.75 1046.66L593.99 1047.22L595.24 1047.76L596.48 1048.29L597.73 1048.80L598.97 1049.29L600.22 1049.77L601.46 1050.23L602.71 1050.67L603.95 1051.11L605.20 1051.53L606.44 1051.93L607.69 1052.32L608.93 1052.70L610.18 1053.07L611.42 1053.42L612.67 1053.77L613.91 1054.10L615.15 1054.42L616.40 1054.73L617.64 1055.02L618.89 1055.31L620.13 1055.59L621.38 1055.86L622.62 1056.12L623.87 1056.37L625.11 1056.61L626.36 1056.85L627.60 1057.07L628.85 1057.29L630.09 1057.50L631.34 1057.70L632.58 1057.90L633.82 1058.08L635.07 1058.26L636.31 1058.44L637.56 1058.61L638.80 1058.77L640.05 1058.93L641.29 1059.08L642.54 1059.22L643.78 1059.36L645.03 1059.50L646.27 1059.63L647.52 1059.75L648.76 1059.87L650.01 1059.99L651.25 1060.10L652.50 1060.21L653.74 1060.31L654.98 1060.41L656.23 1060.51L657.47 1060.60L658.72 1060.69L659.96 1060.77L661.21 1060.85L662.45 1060.93L663.70 1061.01L664.94 1061.08L666.19 1061.15L667.43 1061.22L668.68 1061.28L669.92 1061.35L671.17 1061.41L672.41 1061.46L673.65 1061.52L674.90 1061.57L676.14 1061.62L677.39 1061.67L678.63 1061.72L679.88 1061.76L681.12 1061.81L682.37 1061.85L683.61 1061.89L684.86 1061.93L686.10 1061.96L687.35 1062.00L688.59 1062.03L689.84 1062.07L691.08 1062.10L692.33 1062.13L693.57 1062.16L694.81 1062.18L696.06 1062.21L697.30 1062.24L698.55 1062.26L699.79 1062.28L701.04 1062.31L702.28 1062.33L703.53 1062.35L704.77 1062.37L706.02 1062.39L707.26 1062.41L708.51 1062.42L709.75 1062.44L711.00 1062.46L712.24 1062.47L713.48 1062.49L714.73 1062.50L715.97 1062.51L717.22 1062.53L718.46 1062.54L719.71 1062.55L720.95 1062.56L722.20 1062.57L723.44 1062.59L724.69 1062.60L725.93 1062.60L727.18 1062.61L728.42 1062.62L729.67 1062.63L730.91 1062.64L732.16 1062.65L733.40 1062.65" stroke="#1018E0" stroke-width="6.0" fill="none" stroke-linejoin="round"/>
<path d="M112.30 1059.73L113.54 1059.65L114.79 1059.57L116.03 1059.48L117.28 1059.39L118.52 1059.30L119.77 1059.21L121.01 1059.12L122.26 1059.02L123.50 1058.92L124.75 1058.82L125.99 1058.71L127.24 1058.60L128.48 1058.49L129.73 1058.38L130.97 1058.26L132.22 1058.15L133.46 1058.02L134.70 1057.90L135.95 1057.77L137.19 1057.64L138.44 1057.50L139.68 1057.36L140.93 1057.22L142.17 1057.07L143.42 1056.92L144.66 1056.77L145.91 1056.61L147.15 1056.45L148.40 1056.28L149.64 1056.11L150.89 1055.94L152.13 1055.76L153.37 1055.57L154.62 1055.39L155.86 1055.19L157.11 1054.99L158.35 1054.79L159.60 1054.58L160.84 1054.37L162.09 1054.15L163.33 1053.92L164.58 1053.69L165.82 1053.45L167.07 1053.21L168.31 1052.96L169.56 1052.71L170.80 1052.45L172.05 1052.18L173.29 1051.90L174.53 1051.62L175.78 1051.33L177.02 1051.03L178.27 1050.73L179.51 1050.42L180.76 1050.10L182.00 1049.77L183.25 1049.43L184.49 1049.09L185.74 1048.73L186.98 1048.37L188.23 1048.00L189.47 1047.62L190.72 1047.23L191.96 1046.83L193.20 1046.42L194.45 1046.00L195.69 1045.57L196.94 1045.13L198.18 1044.68L199.43 1044.21L200.67 1043.74L201.92 1043.25L203.16 1042.75L204.41 1042.24L205.65 1041.72L206.90 1041.19L208.14 1040.64L209.39 1040.08L210.63 1039.50L211.88 1038.91L213.12 1038.31L214.36 1037.69L215.61 1037.06L216.85 1036.41L218.10 1035.74L219.34 1035.06L220.59 1034.37L221.83 1033.66L223.08 1032.93L224.32 1032.18L225.57 1031.42L226.81 1030.64L228.06 1029.84L229.30 1029.02L230.55 1028.18L231.79 1027.33L233.03 1026.45L234.28 1025.55L235.52 1024.64L236.77 1023.70L238.01 1022.74L239.26 1021.76L240.50 1020.76L241.75 1019.73L242.99 1018.69L244.24 1017.61L245.48 1016.52L246.73 1015.40L247.97 1014.26L249.22 1013.09L250.46 1011.90L251.71 1010.68L252.95 1009.43L254.19 1008.16L255.44 1006.87L256.68 1005.54L257.93 1004.19L259.17 1002.81L260.42 1001.40L261.66 999.96L262.91 998.49L264.15 997.00L265.40 995.47L266.64 993.91L267.89 992.33L269.13 990.71L270.38 989.06L271.62 987.38L272.86 985.67L274.11 983.92L275.35 982.15L276.60 980.34L277.84 978.50L279.09 976.62L280.33 974.71L281.58 972.77L282.82 970.79L284.07 968.79L285.31 966.74L286.56 964.67L287.80 962.55L289.05 960.41L290.29 958.23L291.54 956.02L292.78 953.77L294.02 951.49L295.27 949.18L296.51 946.83L297.76 944.45L299.00 942.03L300.25 939.58L301.49 937.10L302.74 934.59L303.98 932.05L305.23 929.47L306.47 926.87L307.72 924.23L308.96 921.56L310.21 918.87L311.45 916.15L312.69 913.40L313.94 910.62L315.18 907.81L316.43 904.99L317.67 902.13L318.92 899.26L320.16 896.36L321.41 893.45L322.65 890.51L323.90 887.55L325.14 884.58L326.39 881.60L327.63 878.60L328.88 875.59L330.12 872.56L331.37 869.53L332.61 866.49L333.85 863.45L335.10 860.40L336.34 857.35L337.59 854.30L338.83 851.26L340.08 848.22L341.32 845.18L342.57 842.16L343.81 839.15L345.06 836.15L346.30 833.16L347.55 830.20L348.79 827.25L350.04 824.33L351.28 821.44L352.53 818.57L353.77 815.74L355.01 812.93L356.26 810.17L357.50 807.44L358.75 804.76L359.99 802.12L361.24 799.52L362.48 796.98L363.73 794.49L364.97 792.05L366.22 789.67L367.46 787.35L368.71 785.09L369.95 782.90L371.20 780.78L372.44 778.72L373.68 776.74L374.93 774.83L376.17 773.00L377.42 771.25L378.66 769.58L379.91 767.99L381.15 766.49L382.40 765.08L383.64 763.75L384.89 762.52L386.13 761.37L387.38 760.32L388.62 759.37L389.87 758.51L391.11 757.74L392.36 757.08L393.60 756.51L394.84 756.05L396.09 755.68L397.33 755.42L398.58 755.25L399.82 755.19L401.07 755.23L402.31 755.37L403.56 755.60L404.80 755.93L406.05 756.36L407.29 756.89L408.54 757.51L409.78 758.22L411.03 759.04L412.27 759.94L413.51 760.94L414.76 762.04L416.00 763.22L417.25 764.49L418.49 765.85L419.74 767.30L420.98 768.84L422.23 770.46L423.47 772.16L424.72 773.94L425.96 775.80L427.21 777.74L428.45 779.75L429.70 781.84L430.94 784.00L432.19 786.22L433.43 788.52L434.67 790.88L435.92 793.30L437.16 795.78L438.41 798.32L439.65 800.92L440.90 803.57L442.14 806.27L443.39 809.02L444.63 811.82L445.88 814.66L447.12 817.55L448.37 820.47L449.61 823.43L450.86 826.42L452.10 829.45L453.34 832.50L454.59 835.58L455.83 838.69L457.08 841.82L458.32 844.96L459.57 848.13L460.81 851.31L462.06 854.50L463.30 857.71L464.55 860.92L465.79 864.14L467.04 867.36L468.28 870.58L469.53 873.81L470.77 877.03L472.02 880.25L473.26 883.46L474.50 886.66L475.75 889.86L476.99 893.04L478.24 896.21L479.48 899.36L480.73 902.50L481.97 905.62L483.22 908.71L484.46 911.79L485.71 914.85L486.95 917.88L488.20 920.88L489.44 923.86L490.69 926.81L491.93 929.74L493.17 932.63L494.42 935.49L495.66 938.32L496.91 941.12L498.15 943.88L499.40 946.61L500.64 949.31L501.89 951.97L503.13 954.59L504.38 957.18L505.62 959.73L506.87 962.24L508.11 964.71L509.36 967.15L510.60 969.54L511.85 971.90L513.09 974.22L514.33 976.50L515.58 978.73L516.82 980.93L518.07 983.09L519.31 985.21L520.56 987.29L521.80 989.33L523.05 991.33L524.29 993.29L525.54 995.21L526.78 997.09L528.03 998.93L529.27 1000.74L530.52 1002.50L531.76 1004.23L533.01 1005.92L534.25 1007.57L535.49 1009.19L536.74 1010.76L537.98 1012.30L539.23 1013.81L540.47 1015.28L541.72 1016.71L542.96 1018.11L544.21 1019.48L545.45 1020.81L546.70 1022.10L547.94 1023.37L549.19 1024.60L550.43 1025.80L551.68 1026.97L552.92 1028.11L554.16 1029.22L555.41 1030.30L556.65 1031.35L557.90 1032.37L559.14 1033.36L560.39 1034.32L561.63 1035.26L562.88 1036.17L564.12 1037.06L565.37 1037.92L566.61 1038.75L567.86 1039.56L569.10 1040.35L570.35 1041.12L571.59 1041.86L572.84 1042.58L574.08 1043.27L575.32 1043.95L576.57 1044.60L577.81 1045.24L579.06 1045.85L580.30 1046.45L581.55 1047.03L582.79 1047.59L584.04 1048.13L585.28 1048.65L586.53 1049.16L587.77 1049.65L589.02 1050.13L590.26 1050.59L591.51 1051.03L592.75 1051.46L593.99 1051.88L595.24 1052.28L596.48 1052.67L597.73 1053.04L598.97 1053.40L600.22 1053.75L601.46 1054.09L602.71 1054.42L603.95 1054.73L605.20 1055.04L606.44 1055.33L607.69 1055.62L608.93 1055.89L610.18 1056.15L611.42 1056.41L612.67 1056.65L613.91 1056.89L615.15 1057.12L616.40 1057.34L617.64 1057.55L618.89 1057.76L620.13 1057.95L621.38 1058.14L622.62 1058.33L623.87 1058.50L625.11 1058.67L626.36 1058.84L627.60 1058.99L628.85 1059.14L630.09 1059.29L631.34 1059.43L632.58 1059.57L633.82 1059.70L635.07 1059.82L636.31 1059.94L637.56 1060.06L638.80 1060.17L640.05 1060.27L641.29 1060.38L642.54 1060.48L643.78 1060.57L645.03 1060.66L646.27 1060.75L647.52 1060.84L648.76 1060.92L650.01 1061.00L651.25 1061.07L652.50 1061.14L653.74 1061.21L654.98 1061.28L656.23 1061.34L657.47 1061.40L658.72 1061.46L659.96 1061.52L661.21 1061.57L662.45 1061.62L663.70 1061.67L664.94 1061.72L666.19 1061.77L667.43 1061.81L668.68 1061.85L669.92 1061.90L671.17 1061.93L672.41 1061.97L673.65 1062.01L674.90 1062.04L676.14 1062.07L677.39 1062.11L678.63 1062.14L679.88 1062.17L681.12 1062.19L682.37 1062.22L683.61 1062.25L684.86 1062.27L686.10 1062.29L687.35 1062.32L688.59 1062.34L689.84 1062.36L691.08 1062.38L692.33 1062.40L693.57 1062.42L694.81 1062.43L696.06 1062.45L697.30 1062.47L698.55 1062.48L699.79 1062.50L701.04 1062.51L702.28 1062.52L703.53 1062.54L704.77 1062.55L706.02 1062.56L707.26 1062.57L708.51 1062.58L709.75 1062.59L711.00 1062.60L712.24 1062.61L713.48 1062.62L714.73 1062.63L715.97 1062.64L717.22 1062.65L718.46 1062.65L719.71 1062.66L720.95 1062.67L722.20 1062.68L723.44 1062.68L724.69 1062.69L725.93 1062.69L727.18 1062.70L728.42 1062.70L729.67 1062.71L730.91 1062.71L732.16 1062.72L733.40 1062.72" stroke="#FF6A20" stroke-width="6.0" fill="none" stroke-linejoin="round"/>
<path d="M112.30 1059.46L113.54 1059.37L114.79 1059.28L116.03 1059.19L117.28 1059.10L118.52 1059.00L119.77 1058.90L121.01 1058.80L122.26 1058.70L123.50 1058.59L124.75 1058.48L125.99 1058.37L127.24 1058.26L128.48 1058.14L129.73 1058.02L130.97 1057.90L132.22 1057.77L133.46 1057.64L134.70 1057.51L135.95 1057.37L137.19 1057.23L138.44 1057.09L139.68 1056.94L140.93 1056.79L142.17 1056.64L143.42 1056.48L144.66 1056.31L145.91 1056.15L147.15 1055.98L148.40 1055.80L149.64 1055.62L150.89 1055.44L152.13 1055.25L153.37 1055.06L154.62 1054.86L155.86 1054.65L157.11 1054.45L158.35 1054.23L159.60 1054.01L160.84 1053.79L162.09 1053.56L163.33 1053.32L164.58 1053.08L165.82 1052.83L167.07 1052.58L168.31 1052.32L169.56 1052.05L170.80 1051.78L172.05 1051.50L173.29 1051.21L174.53 1050.92L175.78 1050.61L177.02 1050.30L178.27 1049.99L179.51 1049.66L180.76 1049.33L182.00 1048.99L183.25 1048.64L184.49 1048.28L185.74 1047.91L186.98 1047.54L188.23 1047.15L189.47 1046.76L190.72 1046.36L191.96 1045.94L193.20 1045.52L194.45 1045.08L195.69 1044.64L196.94 1044.18L198.18 1043.72L199.43 1043.24L200.67 1042.75L201.92 1042.25L203.16 1041.74L204.41 1041.21L205.65 1040.67L206.90 1040.12L208.14 1039.56L209.39 1038.98L210.63 1038.39L211.88 1037.79L213.12 1037.17L214.36 1036.53L215.61 1035.89L216.85 1035.22L218.10 1034.54L219.34 1033.85L220.59 1033.14L221.83 1032.41L223.08 1031.67L224.32 1030.91L225.57 1030.13L226.81 1029.33L228.06 1028.52L229.30 1027.68L230.55 1026.83L231.79 1025.96L233.03 1025.07L234.28 1024.16L235.52 1023.23L236.77 1022.28L238.01 1021.31L239.26 1020.31L240.50 1019.30L241.75 1018.26L242.99 1017.20L244.24 1016.12L245.48 1015.01L246.73 1013.89L247.97 1012.73L249.22 1011.55L250.46 1010.35L251.71 1009.13L252.95 1007.87L254.19 1006.59L255.44 1005.29L256.68 1003.96L257.93 1002.60L259.17 1001.21L260.42 999.80L261.66 998.36L262.91 996.89L264.15 995.39L265.40 993.87L266.64 992.31L267.89 990.72L269.13 989.11L270.38 987.46L271.62 985.79L272.86 984.08L274.11 982.34L275.35 980.57L276.60 978.77L277.84 976.94L279.09 975.08L280.33 973.18L281.58 971.25L282.82 969.29L284.07 967.30L285.31 965.28L286.56 963.22L287.80 961.13L289.05 959.01L290.29 956.86L291.54 954.67L292.78 952.46L294.02 950.21L295.27 947.92L296.51 945.61L297.76 943.26L299.00 940.89L300.25 938.48L301.49 936.04L302.74 933.57L303.98 931.08L305.23 928.55L306.47 925.99L307.72 923.41L308.96 920.80L310.21 918.16L311.45 915.50L312.69 912.81L313.94 910.09L315.18 907.35L316.43 904.59L317.67 901.81L318.92 899.01L320.16 896.18L321.41 893.34L322.65 890.48L323.90 887.61L325.14 884.72L326.39 881.81L327.63 878.90L328.88 875.97L330.12 873.04L331.37 870.10L332.61 867.15L333.85 864.20L335.10 861.25L336.34 858.29L337.59 855.34L338.83 852.39L340.08 849.45L341.32 846.52L342.57 843.60L343.81 840.68L345.06 837.79L346.30 834.90L347.55 832.04L348.79 829.20L350.04 826.38L351.28 823.59L352.53 820.83L353.77 818.09L355.01 815.39L356.26 812.73L357.50 810.10L358.75 807.51L359.99 804.97L361.24 802.47L362.48 800.02L363.73 797.62L364.97 795.27L366.22 792.98L367.46 790.74L368.71 788.57L369.95 786.46L371.20 784.41L372.44 782.43L373.68 780.52L374.93 778.68L376.17 776.91L377.42 775.22L378.66 773.61L379.91 772.07L381.15 770.62L382.40 769.25L383.64 767.96L384.89 766.76L386.13 765.65L387.38 764.62L388.62 763.69L389.87 762.84L391.11 762.09L392.36 761.44L393.60 760.87L394.84 760.40L396.09 760.03L397.33 759.75L398.58 759.57L399.82 759.49L401.07 759.50L402.31 759.60L403.56 759.80L404.80 760.09L406.05 760.47L407.29 760.95L408.54 761.52L409.78 762.17L411.03 762.92L412.27 763.76L413.51 764.69L414.76 765.71L416.00 766.81L417.25 768.00L418.49 769.28L419.74 770.63L420.98 772.08L422.23 773.60L423.47 775.20L424.72 776.88L425.96 778.63L427.21 780.46L428.45 782.36L429.70 784.34L430.94 786.38L432.19 788.49L433.43 790.66L434.67 792.90L435.92 795.20L437.16 797.56L438.41 799.98L439.65 802.45L440.90 804.98L442.14 807.55L443.39 810.17L444.63 812.84L445.88 815.56L447.12 818.31L448.37 821.11L449.61 823.94L450.86 826.81L452.10 829.71L453.34 832.64L454.59 835.59L455.83 838.58L457.08 841.58L458.32 844.61L459.57 847.66L460.81 850.72L462.06 853.80L463.30 856.89L464.55 860.00L465.79 863.11L467.04 866.22L468.28 869.34L469.53 872.47L470.77 875.59L472.02 878.71L473.26 881.83L474.50 884.94L475.75 888.05L476.99 891.15L478.24 894.23L479.48 897.31L480.73 900.37L481.97 903.41L483.22 906.44L484.46 909.45L485.71 912.44L486.95 915.41L488.20 918.36L489.44 921.28L490.69 924.18L491.93 927.06L493.17 929.91L494.42 932.72L495.66 935.52L496.91 938.28L498.15 941.01L499.40 943.71L500.64 946.37L501.89 949.01L503.13 951.61L504.38 954.18L505.62 956.71L506.87 959.21L508.11 961.67L509.36 964.09L510.60 966.48L511.85 968.83L513.09 971.15L514.33 973.43L515.58 975.67L516.82 977.87L518.07 980.04L519.31 982.17L520.56 984.26L521.80 986.31L523.05 988.32L524.29 990.30L525.54 992.24L526.78 994.14L528.03 996.00L529.27 997.83L530.52 999.62L531.76 1001.37L533.01 1003.08L534.25 1004.76L535.49 1006.40L536.74 1008.01L537.98 1009.58L539.23 1011.12L540.47 1012.62L541.72 1014.09L542.96 1015.52L544.21 1016.92L545.45 1018.28L546.70 1019.62L547.94 1020.92L549.19 1022.19L550.43 1023.42L551.68 1024.63L552.92 1025.81L554.16 1026.95L555.41 1028.07L556.65 1029.16L557.90 1030.22L559.14 1031.25L560.39 1032.25L561.63 1033.23L562.88 1034.18L564.12 1035.10L565.37 1036.00L566.61 1036.87L567.86 1037.72L569.10 1038.54L570.35 1039.35L571.59 1040.12L572.84 1040.88L574.08 1041.61L575.32 1042.33L576.57 1043.02L577.81 1043.69L579.06 1044.34L580.30 1044.97L581.55 1045.58L582.79 1046.18L584.04 1046.75L585.28 1047.31L586.53 1047.85L587.77 1048.37L589.02 1048.88L590.26 1049.37L591.51 1049.84L592.75 1050.30L593.99 1050.75L595.24 1051.18L596.48 1051.60L597.73 1052.00L598.97 1052.39L600.22 1052.77L601.46 1053.13L602.71 1053.49L603.95 1053.83L605.20 1054.16L606.44 1054.47L607.69 1054.78L608.93 1055.08L610.18 1055.37L611.42 1055.64L612.67 1055.91L613.91 1056.17L615.15 1056.42L616.40 1056.66L617.64 1056.89L618.89 1057.12L620.13 1057.33L621.38 1057.54L622.62 1057.74L623.87 1057.94L625.11 1058.12L626.36 1058.30L627.60 1058.48L628.85 1058.64L630.09 1058.81L631.34 1058.96L632.58 1059.11L633.82 1059.26L635.07 1059.40L636.31 1059.53L637.56 1059.66L638.80 1059.78L640.05 1059.90L641.29 1060.02L642.54 1060.13L643.78 1060.23L645.03 1060.34L646.27 1060.44L647.52 1060.53L648.76 1060.62L650.01 1060.71L651.25 1060.79L652.50 1060.88L653.74 1060.95L654.98 1061.03L656.23 1061.10L657.47 1061.17L658.72 1061.24L659.96 1061.30L661.21 1061.36L662.45 1061.42L663.70 1061.48L664.94 1061.53L666.19 1061.59L667.43 1061.64L668.68 1061.69L669.92 1061.73L671.17 1061.78L672.41 1061.82L673.65 1061.86L674.90 1061.90L676.14 1061.94L677.39 1061.98L678.63 1062.01L679.88 1062.04L681.12 1062.08L682.37 1062.11L683.61 1062.14L684.86 1062.17L686.10 1062.19L687.35 1062.22L688.59 1062.25L689.84 1062.27L691.08 1062.29L692.33 1062.31L693.57 1062.34L694.81 1062.36L696.06 1062.38L697.30 1062.39L698.55 1062.41L699.79 1062.43L701.04 1062.45L702.28 1062.46L703.53 1062.48L704.77 1062.49L706.02 1062.51L707.26 1062.52L708.51 1062.53L709.75 1062.55L711.00 1062.56L712.24 1062.57L713.48 1062.58L714.73 1062.59L715.97 1062.60L717.22 1062.61L718.46 1062.62L719.71 1062.63L720.95 1062.63L722.20 1062.64L723.44 1062.65L724.69 1062.66L725.93 1062.66L727.18 1062.67L728.42 1062.68L729.67 1062.68L730.91 1062.69L732.16 1062.70L733.40 1062.70" stroke="#6020D0" stroke-width="6.0" fill="none" stroke-linejoin="round"/>
<path d="M112.30 1059.58L113.54 1059.50L114.79 1059.41L116.03 1059.32L117.28 1059.23L118.52 1059.14L119.77 1059.04L121.01 1058.95L122.26 1058.85L123.50 1058.74L124.75 1058.64L125.99 1058.53L127.24 1058.42L128.48 1058.31L129.73 1058.19L130.97 1058.07L132.22 1057.95L133.46 1057.82L134.70 1057.69L135.95 1057.56L137.19 1057.43L138.44 1057.29L139.68 1057.15L140.93 1057.00L142.17 1056.85L143.42 1056.70L144.66 1056.54L145.91 1056.38L147.15 1056.21L148.40 1056.04L149.64 1055.87L150.89 1055.69L152.13 1055.51L153.37 1055.32L154.62 1055.13L155.86 1054.93L157.11 1054.73L158.35 1054.52L159.60 1054.31L160.84 1054.09L162.09 1053.87L163.33 1053.64L164.58 1053.41L165.82 1053.17L167.07 1052.92L168.31 1052.67L169.56 1052.41L170.80 1052.14L172.05 1051.87L173.29 1051.59L174.53 1051.31L175.78 1051.02L177.02 1050.72L178.27 1050.41L179.51 1050.09L180.76 1049.77L182.00 1049.44L183.25 1049.10L184.49 1048.75L185.74 1048.40L186.98 1048.03L188.23 1047.66L189.47 1047.28L190.72 1046.88L191.96 1046.48L193.20 1046.07L194.45 1045.65L195.69 1045.22L196.94 1044.78L198.18 1044.32L199.43 1043.86L200.67 1043.38L201.92 1042.90L203.16 1042.40L204.41 1041.89L205.65 1041.36L206.90 1040.83L208.14 1040.28L209.39 1039.72L210.63 1039.15L211.88 1038.56L213.12 1037.96L214.36 1037.34L215.61 1036.71L216.85 1036.06L218.10 1035.40L219.34 1034.73L220.59 1034.04L221.83 1033.33L223.08 1032.60L224.32 1031.86L225.57 1031.11L226.81 1030.33L228.06 1029.54L229.30 1028.73L230.55 1027.90L231.79 1027.05L233.03 1026.18L234.28 1025.30L235.52 1024.39L236.77 1023.46L238.01 1022.52L239.26 1021.55L240.50 1020.56L241.75 1019.55L242.99 1018.51L244.24 1017.46L245.48 1016.38L246.73 1015.28L247.97 1014.15L249.22 1013.01L250.46 1011.83L251.71 1010.64L252.95 1009.41L254.19 1008.17L255.44 1006.89L256.68 1005.59L257.93 1004.27L259.17 1002.91L260.42 1001.53L261.66 1000.13L262.91 998.69L264.15 997.23L265.40 995.73L266.64 994.21L267.89 992.66L269.13 991.08L270.38 989.48L271.62 987.84L272.86 986.17L274.11 984.47L275.35 982.74L276.60 980.98L277.84 979.18L279.09 977.36L280.33 975.50L281.58 973.62L282.82 971.70L284.07 969.75L285.31 967.77L286.56 965.75L287.80 963.70L289.05 961.63L290.29 959.52L291.54 957.37L292.78 955.20L294.02 952.99L295.27 950.75L296.51 948.48L297.76 946.18L299.00 943.85L300.25 941.49L301.49 939.10L302.74 936.67L303.98 934.22L305.23 931.74L306.47 929.23L307.72 926.69L308.96 924.12L310.21 921.53L311.45 918.91L312.69 916.26L313.94 913.59L315.18 910.90L316.43 908.18L317.67 905.44L318.92 902.68L320.16 899.90L321.41 897.11L322.65 894.29L323.90 891.46L325.14 888.61L326.39 885.75L327.63 882.87L328.88 879.99L330.12 877.09L331.37 874.19L332.61 871.28L333.85 868.37L335.10 865.45L336.34 862.54L337.59 859.62L338.83 856.71L340.08 853.80L341.32 850.90L342.57 848.01L343.81 845.13L345.06 842.26L346.30 839.41L347.55 836.57L348.79 833.76L350.04 830.97L351.28 828.20L352.53 825.46L353.77 822.75L355.01 820.07L356.26 817.42L357.50 814.81L358.75 812.24L359.99 809.71L361.24 807.23L362.48 804.79L363.73 802.40L364.97 800.07L366.22 797.78L367.46 795.56L368.71 793.39L369.95 791.28L371.20 789.24L372.44 787.26L373.68 785.35L374.93 783.50L376.17 781.74L377.42 780.04L378.66 778.42L379.91 776.88L381.15 775.42L382.40 774.04L383.64 772.74L384.89 771.53L386.13 770.40L387.38 769.36L388.62 768.41L389.87 767.55L391.11 766.78L392.36 766.11L393.60 765.52L394.84 765.03L396.09 764.63L397.33 764.33L398.58 764.13L399.82 764.01L401.07 764.00L402.31 764.08L403.56 764.25L404.80 764.51L406.05 764.86L407.29 765.31L408.54 765.84L409.78 766.47L411.03 767.19L412.27 767.99L413.51 768.89L414.76 769.87L416.00 770.94L417.25 772.09L418.49 773.33L419.74 774.65L420.98 776.05L422.23 777.54L423.47 779.10L424.72 780.74L425.96 782.45L427.21 784.25L428.45 786.11L429.70 788.04L430.94 790.04L432.19 792.11L433.43 794.25L434.67 796.45L435.92 798.70L437.16 801.02L438.41 803.40L439.65 805.83L440.90 808.31L442.14 810.84L443.39 813.43L444.63 816.05L445.88 818.73L447.12 821.44L448.37 824.19L449.61 826.98L450.86 829.81L452.10 832.67L453.34 835.56L454.59 838.47L455.83 841.41L457.08 844.38L458.32 847.37L459.57 850.38L460.81 853.40L462.06 856.44L463.30 859.49L464.55 862.55L465.79 865.62L467.04 868.70L468.28 871.78L469.53 874.86L470.77 877.95L472.02 881.03L473.26 884.11L474.50 887.19L475.75 890.26L476.99 893.32L478.24 896.36L479.48 899.40L480.73 902.43L481.97 905.44L483.22 908.43L484.46 911.40L485.71 914.36L486.95 917.30L488.20 920.21L489.44 923.10L490.69 925.97L491.93 928.81L493.17 931.62L494.42 934.41L495.66 937.17L496.91 939.90L498.15 942.60L499.40 945.27L500.64 947.90L501.89 950.51L503.13 953.08L504.38 955.62L505.62 958.12L506.87 960.59L508.11 963.02L509.36 965.42L510.60 967.78L511.85 970.11L513.09 972.40L514.33 974.65L515.58 976.86L516.82 979.04L518.07 981.18L519.31 983.28L520.56 985.35L521.80 987.38L523.05 989.37L524.29 991.32L525.54 993.24L526.78 995.11L528.03 996.95L529.27 998.76L530.52 1000.53L531.76 1002.26L533.01 1003.95L534.25 1005.61L535.49 1007.23L536.74 1008.82L537.98 1010.37L539.23 1011.89L540.47 1013.37L541.72 1014.82L542.96 1016.23L544.21 1017.62L545.45 1018.96L546.70 1020.28L547.94 1021.57L549.19 1022.82L550.43 1024.04L551.68 1025.23L552.92 1026.39L554.16 1027.52L555.41 1028.62L556.65 1029.70L557.90 1030.74L559.14 1031.76L560.39 1032.75L561.63 1033.71L562.88 1034.65L564.12 1035.56L565.37 1036.44L566.61 1037.31L567.86 1038.14L569.10 1038.96L570.35 1039.75L571.59 1040.51L572.84 1041.26L574.08 1041.98L575.32 1042.68L576.57 1043.36L577.81 1044.02L579.06 1044.67L580.30 1045.29L581.55 1045.89L582.79 1046.47L584.04 1047.04L585.28 1047.59L586.53 1048.12L587.77 1048.64L589.02 1049.14L590.26 1049.62L591.51 1050.09L592.75 1050.54L593.99 1050.98L595.24 1051.40L596.48 1051.81L597.73 1052.21L598.97 1052.59L600.22 1052.96L601.46 1053.32L602.71 1053.67L603.95 1054.00L605.20 1054.33L606.44 1054.64L607.69 1054.94L608.93 1055.24L610.18 1055.52L611.42 1055.79L612.67 1056.05L613.91 1056.31L615.15 1056.55L616.40 1056.79L617.64 1057.02L618.89 1057.24L620.13 1057.45L621.38 1057.65L622.62 1057.85L623.87 1058.04L625.11 1058.22L626.36 1058.40L627.60 1058.57L628.85 1058.74L630.09 1058.89L631.34 1059.05L632.58 1059.19L633.82 1059.34L635.07 1059.47L636.31 1059.60L637.56 1059.73L638.80 1059.85L640.05 1059.97L641.29 1060.08L642.54 1060.19L643.78 1060.29L645.03 1060.40L646.27 1060.49L647.52 1060.59L648.76 1060.67L650.01 1060.76L651.25 1060.84L652.50 1060.92L653.74 1061.00L654.98 1061.07L656.23 1061.14L657.47 1061.21L658.72 1061.28L659.96 1061.34L661.21 1061.40L662.45 1061.46L663.70 1061.51L664.94 1061.57L666.19 1061.62L667.43 1061.67L668.68 1061.72L669.92 1061.76L671.17 1061.80L672.41 1061.85L673.65 1061.89L674.90 1061.93L676.14 1061.96L677.39 1062.00L678.63 1062.03L679.88 1062.07L681.12 1062.10L682.37 1062.13L683.61 1062.16L684.86 1062.18L686.10 1062.21L687.35 1062.24L688.59 1062.26L689.84 1062.28L691.08 1062.31L692.33 1062.33L693.57 1062.35L694.81 1062.37L696.06 1062.39L697.30 1062.41L698.55 1062.42L699.79 1062.44L701.04 1062.46L702.28 1062.47L703.53 1062.49L704.77 1062.50L706.02 1062.52L707.26 1062.53L708.51 1062.54L709.75 1062.55L711.00 1062.56L712.24 1062.58L713.48 1062.59L714.73 1062.60L715.97 1062.61L717.22 1062.62L718.46 1062.62L719.71 1062.63L720.95 1062.64L722.20 1062.65L723.44 1062.66L724.69 1062.66L725.93 1062.67L727.18 1062.68L728.42 1062.68L729.67 1062.69L730.91 1062.69L732.16 1062.70L733.40 1062.71" stroke="#5A40F8" stroke-width="7.2" fill="none" stroke-linejoin="round"/>
</g>
<g font-family="'Liberation Sans', sans-serif" font-weight="bold" fill="#000">
<text transform="translate(104.50 465.00) scale(1 1.100)" text-anchor="end" font-size="30.00">0</text><text transform="translate(104.50 358.75) scale(1 1.100)" text-anchor="end" font-size="30.00">100</text><text transform="translate(104.50 252.50) scale(1 1.100)" text-anchor="end" font-size="30.00">200</text><text transform="translate(104.50 146.25) scale(1 1.100)" text-anchor="end" font-size="30.00">300</text><text transform="translate(104.50 40.00) scale(1 1.100)" text-anchor="end" font-size="30.00">400</text><text transform="translate(184.40 494.30) scale(1 1.100)" text-anchor="middle" font-size="30.00">500</text><text transform="translate(402.40 494.30) scale(1 1.100)" text-anchor="middle" font-size="30.00">550</text><text transform="translate(620.40 494.30) scale(1 1.100)" text-anchor="middle" font-size="30.00">600</text><text transform="translate(424.30 531.60) scale(1 1.090)" text-anchor="middle" font-size="30.20">Wavelength (nm)</text><text transform="translate(37.30 236.60) rotate(-90) scale(1 1.000)" text-anchor="middle" font-size="30.90">FL Intensity (a.u.)</text><text transform="translate(133.90 43.00) scale(1 1.060)" text-anchor="start" font-size="30.00">(a)</text>
<text transform="translate(95.80 1072.70) scale(1 1.090)" text-anchor="end" font-size="31.20">0</text><text transform="translate(95.80 959.85) scale(1 1.090)" text-anchor="end" font-size="31.20">50</text><text transform="translate(95.80 847.00) scale(1 1.090)" text-anchor="end" font-size="31.20">100</text><text transform="translate(95.80 734.15) scale(1 1.090)" text-anchor="end" font-size="31.20">150</text><text transform="translate(95.80 621.30) scale(1 1.090)" text-anchor="end" font-size="31.20">200</text><text transform="translate(112.30 1102.80) scale(1 1.090)" text-anchor="middle" font-size="31.20">500</text><text transform="translate(294.80 1102.80) scale(1 1.090)" text-anchor="middle" font-size="31.20">550</text><text transform="translate(477.30 1102.80) scale(1 1.090)" text-anchor="middle" font-size="31.20">600</text><text transform="translate(659.80 1102.80) scale(1 1.090)" text-anchor="middle" font-size="31.20">650</text><text transform="translate(423.40 1143.80) scale(1 1.070)" text-anchor="middle" font-size="31.70">Wavelength (nm)</text><text transform="translate(26.00 845.20) rotate(-90) scale(1 1.000)" text-anchor="middle" font-size="32.50">FL Intensity (a.u.)</text><text transform="translate(126.00 653.00) scale(1 1.050)" text-anchor="start" font-size="31.80">(b)</text>
</g>
<line x1="449.2" y1="112" x2="449.2" y2="50" stroke="#000" stroke-width="5.8" stroke-linecap="round"/><path d="M441.5 50.5 L456.5 50.5 L449.2 23.5 Z" fill="#000" stroke="#000" stroke-width="3.5" stroke-linejoin="round"/><line x1="396.8" y1="692" x2="396.8" y2="800" stroke="#000" stroke-width="6" stroke-linecap="round"/><path d="M389 800 L405.5 800 L397.3 830.5 Z" fill="#000" stroke="#000" stroke-width="4" stroke-linejoin="round"/>
</svg>
</body></html>
